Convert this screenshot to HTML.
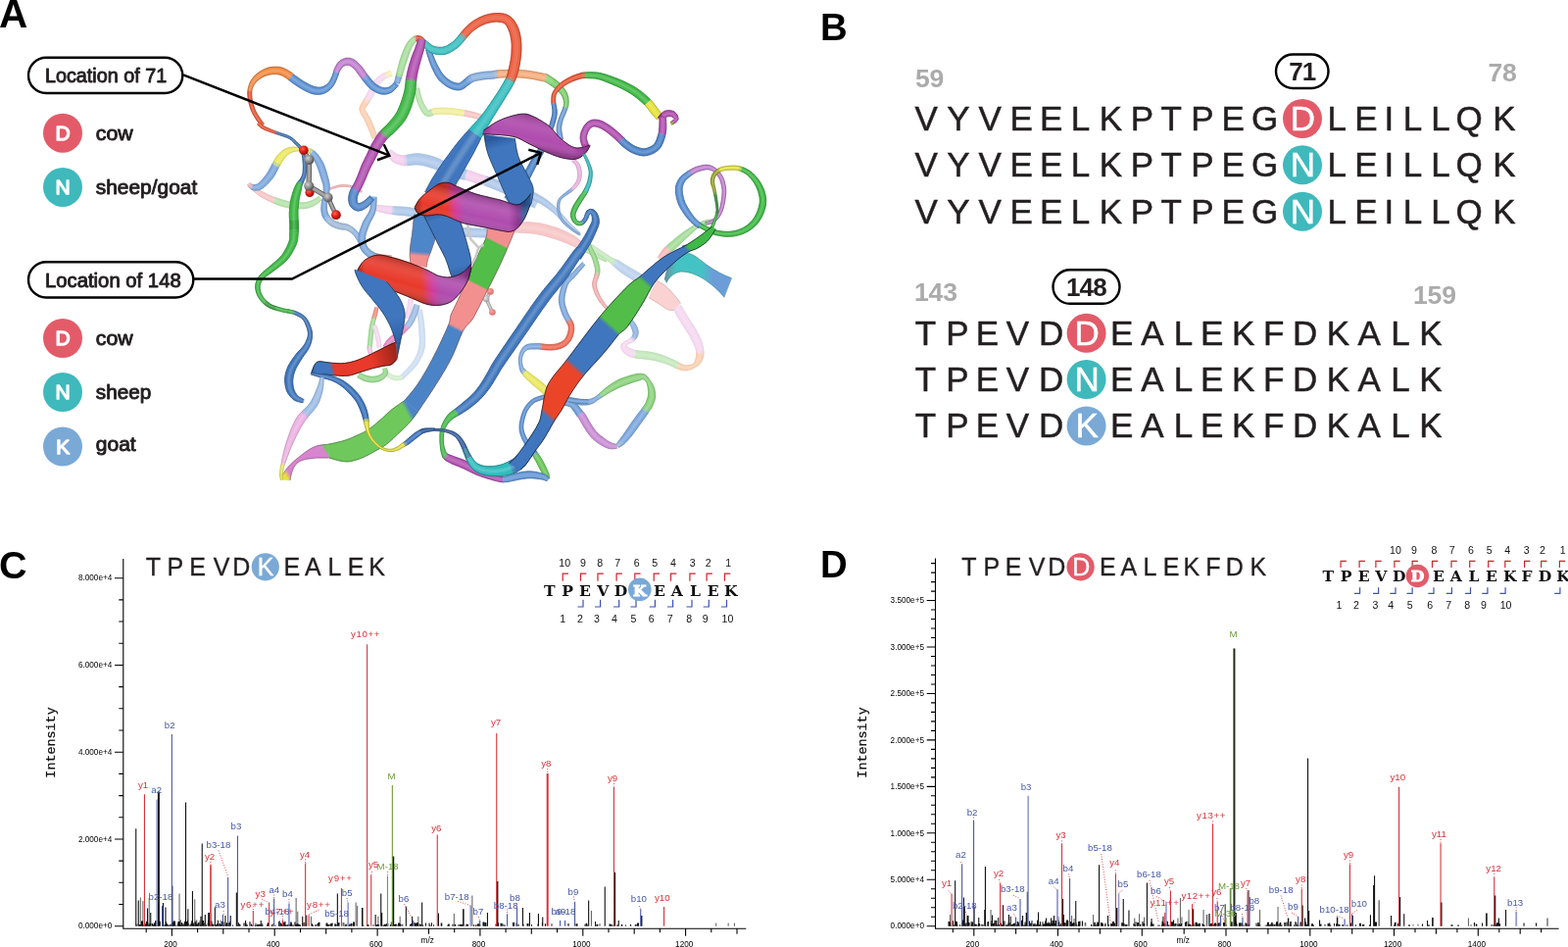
<!DOCTYPE html>
<html lang="en"><head><meta charset="utf-8"><title>Figure</title>
<style>
html,body{margin:0;padding:0;background:#fff}
svg{display:block}
text{font-family:"Liberation Sans",sans-serif;fill:#231f20}
.pl{font-size:38.4px;font-weight:bold;fill:#000}
.sq{font-size:35px;text-anchor:middle;stroke:#231f20;stroke-width:.5px}
.sh{font-size:25px;text-anchor:middle;stroke:#231f20;stroke-width:.35px}
.w{fill:#fff;stroke:#fff!important}
.gn{font-size:26.6px;fill:#ababab;font-weight:bold;letter-spacing:-.2px}
.pt{font-weight:bold;letter-spacing:-.8px}
.pill{fill:#fff;stroke:#000;stroke-width:2.4px}
.lt{font-size:19.8px;stroke:#231f20;stroke-width:.9px;stroke-linejoin:round}
.cl{font-size:21px;fill:#fff;stroke:#fff;stroke-width:1.3px;stroke-linejoin:round;text-anchor:middle}
.hl{fill:none;stroke:#fff;stroke-opacity:.1;stroke-linejoin:round}
.ar{fill:none;stroke:#000;stroke-width:2.5px;stroke-linejoin:miter}
.tk{font-size:8.2px;fill:#000}
.xl{font-size:9px}
.pk{font-size:9.7px}
.r{fill:#d6343a}
.b{fill:#4658a8}
.g{fill:#6f9a3c}
.it{font-family:"Liberation Mono",monospace;font-size:13.4px;fill:#111;stroke:#111;stroke-width:.25px}
.fm{font-family:"DejaVu Serif","Liberation Serif",serif;font-weight:bold;font-size:15.6px;text-anchor:middle;fill:#111}
.fm.w{fill:#fff}
.fn{font-size:10.6px;text-anchor:middle;fill:#111}
</style></head>
<body>
<svg width="1600" height="966" viewBox="0 0 1600 966">
<rect width="1600" height="966" fill="#fff"/>
<defs><radialGradient id="bR" cx=".38" cy=".35" r=".7"><stop offset="0" stop-color="#ff6a5a"/><stop offset=".45" stop-color="#e32219"/><stop offset="1" stop-color="#8c0d08"/></radialGradient><radialGradient id="bG" cx=".38" cy=".35" r=".7"><stop offset="0" stop-color="#d0d0d0"/><stop offset=".5" stop-color="#909090"/><stop offset="1" stop-color="#484848"/></radialGradient><linearGradient id="g21" gradientUnits="userSpaceOnUse" x1="679.2" y1="286.7" x2="742.8" y2="293.6"><stop offset="0" stop-color="#6a96a4"/><stop offset="0.15" stop-color="#44c3c4"/><stop offset="0.55" stop-color="#44c3c4"/><stop offset="0.75" stop-color="#6c9dd8"/><stop offset="1" stop-color="#6c9dd8"/></linearGradient><linearGradient id="g35" gradientUnits="userSpaceOnUse" x1="512" y1="232" x2="419.7" y2="414.2"><stop offset="0" stop-color="#f28f8f"/><stop offset="0.075" stop-color="#f28f8f"/><stop offset="0.085" stop-color="#52bd48"/><stop offset="0.305" stop-color="#52bd48"/><stop offset="0.315" stop-color="#f28f8f"/><stop offset="0.545" stop-color="#f28f8f"/><stop offset="0.56" stop-color="#4b84c6"/><stop offset="1" stop-color="#4b84c6"/></linearGradient><linearGradient id="g36" gradientUnits="userSpaceOnUse" x1="419.7" y1="414.2" x2="335.2" y2="460.1"><stop offset="0" stop-color="#4b84c6"/><stop offset="0.03" stop-color="#4b84c6"/><stop offset="0.08" stop-color="#6fc85c"/><stop offset="1" stop-color="#6fc85c"/></linearGradient><linearGradient id="g37" gradientUnits="userSpaceOnUse" x1="335.2" y1="460.1" x2="291.5" y2="489.6"><stop offset="0" stop-color="#6fc85c"/><stop offset="0.02" stop-color="#6fc85c"/><stop offset="0.07" stop-color="#d884cf"/><stop offset="0.86" stop-color="#d884cf"/><stop offset="0.96" stop-color="#e6e23a"/><stop offset="1" stop-color="#e6e23a"/></linearGradient><linearGradient id="g38" gradientUnits="userSpaceOnUse" x1="431.4" y1="218.8" x2="427" y2="271.4"><stop offset="0" stop-color="#4d86c9"/><stop offset="0.72" stop-color="#4d86c9"/><stop offset="0.8" stop-color="#f28f8f"/><stop offset="1" stop-color="#f28f8f"/></linearGradient><linearGradient id="g40" gradientUnits="userSpaceOnUse" x1="509.7" y1="139.4" x2="531.9" y2="209"><stop offset="0" stop-color="#2c5a9e"/><stop offset="0.15" stop-color="#3f76bd"/><stop offset="1" stop-color="#3f76bd"/></linearGradient><linearGradient id="g41" gradientUnits="userSpaceOnUse" x1="493.1" y1="134.9" x2="601.8" y2="148.3"><stop offset="0" stop-color="#8a2f8c"/><stop offset="0.08" stop-color="#b04cae"/><stop offset="0.85" stop-color="#b04cae"/><stop offset="1" stop-color="#8a2f8c"/></linearGradient><linearGradient id="g42" gradientUnits="userSpaceOnUse" x1="545" y1="118" x2="538" y2="150"><stop offset="0" stop-color="#000" stop-opacity="0.18"/><stop offset="0.35" stop-color="#fff" stop-opacity="0.08"/><stop offset="0.7" stop-color="#fff" stop-opacity="0.0"/><stop offset="1" stop-color="#000" stop-opacity="0.2"/></linearGradient><linearGradient id="g43" gradientUnits="userSpaceOnUse" x1="448.9" y1="213.8" x2="470.8" y2="286.4"><stop offset="0" stop-color="#2c5a9e"/><stop offset="0.12" stop-color="#3f76bd"/><stop offset="0.8" stop-color="#3f76bd"/><stop offset="1" stop-color="#2c5a9e"/></linearGradient><linearGradient id="g44" gradientUnits="userSpaceOnUse" x1="423.2" y1="211.6" x2="541.6" y2="202.5"><stop offset="0" stop-color="#9c2419"/><stop offset="0.07" stop-color="#e8392a"/><stop offset="0.27" stop-color="#e8392a"/><stop offset="0.35" stop-color="#d23a9a"/><stop offset="0.42" stop-color="#b04cae"/><stop offset="0.8" stop-color="#b04cae"/><stop offset="0.88" stop-color="#8a2f8c"/><stop offset="0.94" stop-color="#2c5a9e"/><stop offset="1" stop-color="#3f76bd"/></linearGradient><linearGradient id="g45" gradientUnits="userSpaceOnUse" x1="478" y1="196" x2="470" y2="232"><stop offset="0" stop-color="#000" stop-opacity="0.22"/><stop offset="0.3" stop-color="#fff" stop-opacity="0.1"/><stop offset="0.6" stop-color="#fff" stop-opacity="0.0"/><stop offset="1" stop-color="#000" stop-opacity="0.25"/></linearGradient><linearGradient id="g46" gradientUnits="userSpaceOnUse" x1="364.4" y1="280.8" x2="480.7" y2="271.1"><stop offset="0" stop-color="#9c2419"/><stop offset="0.07" stop-color="#e8392a"/><stop offset="0.55" stop-color="#e8392a"/><stop offset="0.64" stop-color="#d23a9a"/><stop offset="0.72" stop-color="#b04cae"/><stop offset="0.93" stop-color="#b04cae"/><stop offset="1" stop-color="#8a2f8c"/></linearGradient><linearGradient id="g47" gradientUnits="userSpaceOnUse" x1="425" y1="268" x2="415" y2="306"><stop offset="0" stop-color="#000" stop-opacity="0.25"/><stop offset="0.3" stop-color="#fff" stop-opacity="0.1"/><stop offset="0.6" stop-color="#fff" stop-opacity="0.0"/><stop offset="1" stop-color="#000" stop-opacity="0.28"/></linearGradient><linearGradient id="g48" gradientUnits="userSpaceOnUse" x1="378.3" y1="281.2" x2="404.7" y2="358.3"><stop offset="0" stop-color="#3f76bd"/><stop offset="0.6" stop-color="#3f76bd"/><stop offset="1" stop-color="#2c5a9e"/></linearGradient><linearGradient id="g49" gradientUnits="userSpaceOnUse" x1="317.8" y1="381.2" x2="404.3" y2="357.6"><stop offset="0" stop-color="#2c5a9e"/><stop offset="0.06" stop-color="#3f76bd"/><stop offset="0.22" stop-color="#3f76bd"/><stop offset="0.27" stop-color="#e8392a"/><stop offset="0.7" stop-color="#e8392a"/><stop offset="1" stop-color="#9c2419"/></linearGradient><linearGradient id="g56" gradientUnits="userSpaceOnUse" x1="728.4" y1="232.5" x2="509.4" y2="479.5"><stop offset="0" stop-color="#3fb946"/><stop offset="0.095" stop-color="#3fb946"/><stop offset="0.108" stop-color="#3f76bd"/><stop offset="0.258" stop-color="#3f76bd"/><stop offset="0.271" stop-color="#52bd48"/><stop offset="0.434" stop-color="#52bd48"/><stop offset="0.447" stop-color="#3f76bd"/><stop offset="0.6" stop-color="#3f76bd"/><stop offset="0.615" stop-color="#ea4529"/><stop offset="0.765" stop-color="#ea4529"/><stop offset="0.78" stop-color="#3f76bd"/><stop offset="0.96" stop-color="#3f76bd"/><stop offset="1" stop-color="#2fbcbe"/></linearGradient></defs>
<g id="protein">
<path d="M398.4 72.2 396.9 72.7 394.6 73.5 396.7 78.6 398.8 77.7 400.3 77.1z" fill="#f5f3b0" stroke="#f5f3b0" stroke-width=".5"/>
<path d="M394.6 73.5 392 74.6 394.4 79.6 396.7 78.6z" fill="#f5ebc6" stroke="#f5ebc6" stroke-width=".5"/>
<path d="M392 74.6 389.4 76 387.2 77.5 385.1 79.2 383 81.2 381 83.6 379.5 85.8 378.3 88.3 377.1 90.7 376.1 93 375 95.1 373.6 97.5 372.2 100 377.5 103.2 379 100.7 380.6 98.1 381.8 95.7 382.8 93.3 383.8 90.9 384.8 88.8 385.9 87.1 387.3 85.2 389 83.5 390.7 82.1 392.4 80.8 394.4 79.6z" fill="#f6d9f1" stroke="#f6d9f1" stroke-width=".5"/>
<path d="M372.2 100 370.8 102.3 376 105.5 377.5 103.2z" fill="#f9d3c7" stroke="#f9d3c7" stroke-width=".5"/>
<path d="M370.8 102.3 369.7 104.3 367.6 107.6 366.8 111.5 367.6 114.6 368.9 116.9 370.3 119.1 371.6 121.3 372.5 123.3 373.6 125.6 374.6 127.9 375.6 130.2 376.5 132.3 377.6 134.9 378.6 137.5 379.4 139.9 380 141.5 385 139.8 384.5 138.1 383.7 135.7 382.8 133 381.7 130.2 380.8 128 379.8 125.6 378.7 123.2 377.6 120.9 376.5 118.7 375 116.2 373.5 114 372.4 112.3 372 111.6 372.7 110.1 374.7 107.6 376 105.5z" fill="#fad0b2" stroke="#fad0b2" stroke-width=".5"/>
<defs><path id="c1" d="M399.4 74.6 395.6 76.1 390.9 78.4 387 81.4 383.4 85.3 381.1 89.6 378.9 94.4 376.3 99.1 373.4 103.9 370.1 108.8 370 113.4 372.7 117.6 375.1 122.1 377.2 126.8 379.1 131.3 381.1 136.6 382.5 140.6"/></defs><use href="#c1" class="hl" stroke-width="3.8"/><use href="#c1" class="hl" stroke-width="1.8"/>
<path d="M398.4 72.2 396.9 72.7 394.6 73.5M400.3 77.1 398.8 77.7 396.7 78.6" fill="none" stroke="#eae8a8" stroke-width=".70"/>
<path d="M394.6 73.5 392 74.6M396.7 78.6 394.4 79.6" fill="none" stroke="#eae0bd" stroke-width=".70"/>
<path d="M392 74.6 389.4 76 387.2 77.5 385.1 79.2 383 81.2 381 83.6 379.5 85.8 378.3 88.3 377.1 90.7 376.1 93 375 95.1 373.6 97.5 372.2 100M394.4 79.6 392.4 80.8 390.7 82.1 389 83.5 387.3 85.2 385.9 87.1 384.8 88.8 383.8 90.9 382.8 93.3 381.8 95.7 380.6 98.1 379 100.7 377.5 103.2" fill="none" stroke="#ebcfe6" stroke-width=".70"/>
<path d="M372.2 100 370.8 102.3M377.5 103.2 376 105.5" fill="none" stroke="#eec9be" stroke-width=".70"/>
<path d="M370.8 102.3 369.7 104.3 367.6 107.6 366.8 111.5 367.6 114.6 368.9 116.9 370.3 119.1 371.6 121.3 372.5 123.3 373.6 125.6 374.6 127.9 375.6 130.2 376.5 132.3 377.6 134.9 378.6 137.5 379.4 139.9 380 141.5M376 105.5 374.7 107.6 372.7 110.1 372 111.6 372.4 112.3 373.5 114 375 116.2 376.5 118.7 377.6 120.9 378.7 123.2 379.8 125.6 380.8 128 381.7 130.2 382.8 133 383.7 135.7 384.5 138.1 385 139.8" fill="none" stroke="#eec6aa" stroke-width=".70"/>
<path d="M423 90.5 423.3 92.1 423.7 94.6 424.2 97.4 424.8 100.3 425.6 103 426.5 105.5 427.6 107.9 428.7 110.2 429.8 112.3 430.8 114 433 117.1 436.6 118.7 439.9 118.1 442.3 117.1 440.3 111.5 437.9 112.7 437.2 113.1 436.7 112.9 435.5 111 434.6 109.5 433.5 107.7 432.4 105.6 431.4 103.5 430.5 101.3 429.8 99 429.1 96.3 428.4 93.6 427.9 91.2 427.5 89.5z" fill="#b6e4ac" stroke="#b6e4ac" stroke-width=".5"/>
<path d="M442.3 117.1 444.9 116.4 446.8 116.3 449.3 116.2 452 116.2 454.7 116.3 457.3 116.4 459.8 116.6 462.4 116.9 464.9 117.2 467.2 117.5 469.3 117.7 471.7 118 473.4 118.2 474.5 112.6 472.6 112.2 470.1 111.8 468 111.5 465.6 111.2 463 110.9 460.3 110.6 457.7 110.4 455 110.3 452.1 110.2 449.2 110.2 446.5 110.3 443.8 110.5 440.3 111.5z" fill="#f2f09c" stroke="#f2f09c" stroke-width=".5"/>
<path d="M473.4 118.2 475.7 118.6 477.7 119 480 119.5 482.4 120 484.7 120.5 486.6 121 489.6 122 492.1 123.1 494 123.9 496 119.9 494.2 118.8 491.6 117.4 488.4 116 486.1 115.3 483.7 114.7 481.2 114.1 478.8 113.6 476.8 113.1 474.5 112.6z" fill="#f8c7c7" stroke="#f8c7c7" stroke-width=".5"/>
<defs><path id="c2" d="M425.3 90 426.1 94.1 427.3 99.7 429 104.5 431.1 109 433.1 112.5 436.9 115.9 441.3 114.3 446.7 113.3 452 113.2 457.5 113.4 462.7 113.9 467.6 114.5 472.1 115.1 476.3 115.9 480.6 116.8 485.4 117.9 490.6 119.7 495 121.9"/></defs><use href="#c2" class="hl" stroke-width="3.6"/><use href="#c2" class="hl" stroke-width="1.8"/>
<path d="M423 90.5 423.3 92.1 423.7 94.6 424.2 97.4 424.8 100.3 425.6 103 426.5 105.5 427.6 107.9 428.7 110.2 429.8 112.3 430.8 114 433 117.1 436.6 118.7 439.9 118.1 442.3 117.1M427.5 89.5 427.9 91.2 428.4 93.6 429.1 96.3 429.8 99 430.5 101.3 431.4 103.5 432.4 105.6 433.5 107.7 434.6 109.5 435.5 111 436.7 112.9 437.2 113.1 437.9 112.7 440.3 111.5" fill="none" stroke="#a7d19e" stroke-width=".70"/>
<path d="M442.3 117.1 444.9 116.4 446.8 116.3 449.3 116.2 452 116.2 454.7 116.3 457.3 116.4 459.8 116.6 462.4 116.9 464.9 117.2 467.2 117.5 469.3 117.7 471.7 118 473.4 118.2M440.3 111.5 443.8 110.5 446.5 110.3 449.2 110.2 452.1 110.2 455 110.3 457.7 110.4 460.3 110.6 463 110.9 465.6 111.2 468 111.5 470.1 111.8 472.6 112.2 474.5 112.6" fill="none" stroke="#dedc8f" stroke-width=".70"/>
<path d="M473.4 118.2 475.7 118.6 477.7 119 480 119.5 482.4 120 484.7 120.5 486.6 121 489.6 122 492.1 123.1 494 123.9M474.5 112.6 476.8 113.1 478.8 113.6 481.2 114.1 483.7 114.7 486.1 115.3 488.4 116 491.6 117.4 494.2 118.8 496 119.9" fill="none" stroke="#e3b6b6" stroke-width=".70"/>
<path d="M394.5 156.6 395.3 158.1 396.8 160.3 398.6 162.7 400.9 164.9 404.2 166.6 407.3 167.7 409.9 168.3 412.7 168.8 412.7 158.6 411.3 158.7 409.3 158.5 407.2 158.2 405.3 157.6 403.9 156.9 402 155.4 400.1 153.8 398.6 152.8z" fill="#f4d0ee" stroke="#f4d0ee" stroke-width=".5"/>
<path d="M412.7 168.8 415.8 168.7 414.8 158.3 412.7 158.6z" fill="#dccdec" stroke="#dccdec" stroke-width=".5"/>
<path d="M415.8 168.7 418 168.5 420.3 168.2 422.7 168 424.9 167.9 427.1 168 428.7 168.2 430.6 168.5 432.6 168.9 434.6 169.5 436.7 170 438.8 170.7 440.7 171.3 442.8 171.9 444.8 172.7 446.8 173.6 448.9 174.5 451.2 175.5 453.6 176.4 455.8 177.3 458.1 178.1 460.5 179 462.8 179.9 465.1 180.7 467.2 181.4 469.1 182 472.3 182.9 474.5 183.3 476.7 173.6 474.8 173.2 472.1 172.3 470.5 171.8 468.6 171 466.4 170.2 464.2 169.3 461.9 168.4 459.6 167.5 457.6 166.7 455.5 165.7 453.4 164.7 451.3 163.7 449.1 162.6 446.8 161.6 444.3 160.6 442.1 159.9 439.8 159.2 437.5 158.6 435.1 158 432.7 157.5 430.3 157.1 427.9 156.8 424.6 156.8 421.5 157.1 418.7 157.6 416.5 158 414.8 158.3z" fill="#aec8ea" stroke="#aec8ea" stroke-width=".5"/>
<path d="M474.5 183.3 476.8 183.8 478.7 184.3 480.9 185 483.3 185.8 485.7 186.6 488 187.3 490.3 188 492.2 188.4 494.1 188.9 497 180 494.6 179.3 492.7 178.9 490.7 178.3 488.7 177.6 486.4 176.8 484 175.9 481.7 175.1 479.4 174.4 476.7 173.6z" fill="#f4d0ee" stroke="#f4d0ee" stroke-width=".5"/>
<path d="M494.1 188.9 497.1 190 498.6 190.6 500.3 191.2 502.1 192 504.1 192.7 506.1 193.6 508.2 194.4 510.4 195.4 512.6 196.3 514.9 197.3 517.1 198.3 519.3 199.3 521.2 200.1 523.3 201.1 525.6 202.2 527.9 203.3 530.2 204.4 532.6 205.6 534.9 206.7 537.1 207.8 539.2 208.9 541.2 209.8 542.9 210.7 544.4 211.4 545.6 212 549.4 204.3 548.3 203.7 546.9 202.9 545.2 202 543.3 201 541.2 199.9 539 198.7 536.7 197.5 534.3 196.3 532 195.1 529.6 193.9 527.4 192.8 525.2 191.7 523.2 190.7 520.9 189.7 518.6 188.7 516.3 187.7 514.1 186.7 511.8 185.8 509.7 184.9 507.6 184 505.6 183.3 503.7 182.5 502 181.8 500.4 181.2 497 180z" fill="#aec8ea" stroke="#aec8ea" stroke-width=".5"/>
<defs><path id="c3" d="M396.6 154.7 399.4 157.8 403.1 161.3 408.3 163.1 412.7 163.7 417.2 163.3 422.1 162.5 427.5 162.4 431.6 163 436.1 164 440.4 165.3 444.8 166.8 449.1 168.6 453.4 170.6 457.7 172.4 462.3 174.2 466.8 175.9 470.6 177.2 475.6 178.4 480.2 179.7 484.8 181.3 489.4 182.8 493.4 183.9 498.8 185.6 502 186.9 505.8 188.4 510 190.1 514.5 192 519 194 523.2 195.9 527.6 198 532.3 200.4 536.9 202.7 541.2 204.9 544.9 206.8 547.5 208.1"/></defs><use href="#c3" class="hl" stroke-width="6.4"/><use href="#c3" class="hl" stroke-width="3.1"/>
<path d="M394.5 156.6 395.3 158.1 396.8 160.3 398.6 162.7 400.9 164.9 404.2 166.6 407.3 167.7 409.9 168.3 412.7 168.8M398.6 152.8 400.1 153.8 402 155.4 403.9 156.9 405.3 157.6 407.2 158.2 409.3 158.5 411.3 158.7 412.7 158.6" fill="none" stroke="#e5c3df" stroke-width=".70"/>
<path d="M412.7 168.8 415.8 168.7M412.7 158.6 414.8 158.3" fill="none" stroke="#cec0dd" stroke-width=".70"/>
<path d="M415.8 168.7 418 168.5 420.3 168.2 422.7 168 424.9 167.9 427.1 168 428.7 168.2 430.6 168.5 432.6 168.9 434.6 169.5 436.7 170 438.8 170.7 440.7 171.3 442.8 171.9 444.8 172.7 446.8 173.6 448.9 174.5 451.2 175.5 453.6 176.4 455.8 177.3 458.1 178.1 460.5 179 462.8 179.9 465.1 180.7 467.2 181.4 469.1 182 472.3 182.9 474.5 183.3M414.8 158.3 416.5 158 418.7 157.6 421.5 157.1 424.6 156.8 427.9 156.8 430.3 157.1 432.7 157.5 435.1 158 437.5 158.6 439.8 159.2 442.1 159.9 444.3 160.6 446.8 161.6 449.1 162.6 451.3 163.7 453.4 164.7 455.5 165.7 457.6 166.7 459.6 167.5 461.9 168.4 464.2 169.3 466.4 170.2 468.6 171 470.5 171.8 472.1 172.3 474.8 173.2 476.7 173.6" fill="none" stroke="#a3bbdb" stroke-width=".70"/>
<path d="M474.5 183.3 476.8 183.8 478.7 184.3 480.9 185 483.3 185.8 485.7 186.6 488 187.3 490.3 188 492.2 188.4 494.1 188.9M476.7 173.6 479.4 174.4 481.7 175.1 484 175.9 486.4 176.8 488.7 177.6 490.7 178.3 492.7 178.9 494.6 179.3 497 180" fill="none" stroke="#e5c3df" stroke-width=".70"/>
<path d="M494.1 188.9 497.1 190 498.6 190.6 500.3 191.2 502.1 192 504.1 192.7 506.1 193.6 508.2 194.4 510.4 195.4 512.6 196.3 514.9 197.3 517.1 198.3 519.3 199.3 521.2 200.1 523.3 201.1 525.6 202.2 527.9 203.3 530.2 204.4 532.6 205.6 534.9 206.7 537.1 207.8 539.2 208.9 541.2 209.8 542.9 210.7 544.4 211.4 545.6 212M497 180 500.4 181.2 502 181.8 503.7 182.5 505.6 183.3 507.6 184 509.7 184.9 511.8 185.8 514.1 186.7 516.3 187.7 518.6 188.7 520.9 189.7 523.2 190.7 525.2 191.7 527.4 192.8 529.6 193.9 532 195.1 534.3 196.3 536.7 197.5 539 198.7 541.2 199.9 543.3 201 545.2 202 546.9 202.9 548.3 203.7 549.4 204.3" fill="none" stroke="#a3bbdb" stroke-width=".70"/>
<path d="M383.9 215 385.4 215.4 387.6 216 390.2 216.6 392.8 217.2 395.1 217.8 397.6 218.2 399.9 218.5 400.7 210.7 398.5 210.5 396.1 210.3 393.9 210.2 391.3 210 388.7 209.7 386.5 209.5 384.9 209.4z" fill="#f4d0ee" stroke="#f4d0ee" stroke-width=".5"/>
<path d="M399.9 218.5 402.2 218.8 402.9 210.8 400.7 210.7z" fill="#c5cbeb" stroke="#c5cbeb" stroke-width=".5"/>
<path d="M402.2 218.8 404.7 219.1 406.9 219.3 409.1 219.5 411.3 219.7 413.5 219.9 415.6 220.2 417.7 220.5 419.6 220.8 421.4 221.2 423.4 221.8 425.9 222.8 427.5 223.4 429.3 224.3 431.2 225.3 433.3 226.4 435.5 227.5 437.7 228.7 440 229.9 442.3 231 444.4 232 446.5 233 448.5 233.9 450.5 234.9 452.6 235.8 454.7 236.8 456.9 237.6 459.2 238.5 461.6 239.2 464 239.8 466.4 240.3 468.7 240.7 471.1 240.9 473.6 241.2 476 241.3 478.4 241.5 480.7 241.6 483 241.6 485.2 241.7 487.3 241.8 490 241.9 492.9 241.9 495.6 241.9 498.3 241.8 500.8 241.8 503 241.7 504.9 241.7 506.3 241.6 506.2 233.4 504.8 233.4 502.9 233.4 500.7 233.4 498.2 233.4 495.6 233.4 492.9 233.4 490.3 233.3 487.7 233.2 485.6 233.1 483.3 233 481.1 232.9 478.8 232.8 476.5 232.7 474.3 232.6 472 232.4 469.9 232.1 467.9 231.8 466 231.4 463.9 230.9 462 230.3 460 229.6 458.1 228.8 456.1 228 454.2 227.1 452.2 226.1 450.1 225.2 448.1 224.2 446 223.2 443.9 222.2 441.7 221.1 439.5 219.9 437.3 218.8 435.2 217.6 433.1 216.6 431.1 215.6 429.1 214.7 426.1 213.6 423.5 212.9 421.2 212.4 419.1 212 416.9 211.7 414.4 211.4 412 211.2 409.6 211.1 407.4 211 405.3 210.9 402.9 210.8z" fill="#aec8ea" stroke="#aec8ea" stroke-width=".5"/>
<defs><path id="c4" d="M384.4 212.2 388.2 212.8 393.3 213.7 398.1 214.4 402.6 214.8 407.1 215.2 411.7 215.4 416.3 215.9 420.4 216.6 424.8 217.7 429.3 219.5 433.2 221.5 437.5 223.7 441.9 226 446.3 228.1 450.3 230 454.4 231.9 458.5 233.6 462.8 235 467.1 236 471.6 236.7 476.3 237 480.9 237.3 485.4 237.4 490.2 237.6 495.6 237.6 500.8 237.6 504.8 237.5"/></defs><use href="#c4" class="hl" stroke-width="5.5"/><use href="#c4" class="hl" stroke-width="2.7"/>
<path d="M383.9 215 385.4 215.4 387.6 216 390.2 216.6 392.8 217.2 395.1 217.8 397.6 218.2 399.9 218.5M384.9 209.4 386.5 209.5 388.7 209.7 391.3 210 393.9 210.2 396.1 210.3 398.5 210.5 400.7 210.7" fill="none" stroke="#e5c3df" stroke-width=".70"/>
<path d="M399.9 218.5 402.2 218.8M400.7 210.7 402.9 210.8" fill="none" stroke="#b9bedc" stroke-width=".70"/>
<path d="M402.2 218.8 404.7 219.1 406.9 219.3 409.1 219.5 411.3 219.7 413.5 219.9 415.6 220.2 417.7 220.5 419.6 220.8 421.4 221.2 423.4 221.8 425.9 222.8 427.5 223.4 429.3 224.3 431.2 225.3 433.3 226.4 435.5 227.5 437.7 228.7 440 229.9 442.3 231 444.4 232 446.5 233 448.5 233.9 450.5 234.9 452.6 235.8 454.7 236.8 456.9 237.6 459.2 238.5 461.6 239.2 464 239.8 466.4 240.3 468.7 240.7 471.1 240.9 473.6 241.2 476 241.3 478.4 241.5 480.7 241.6 483 241.6 485.2 241.7 487.3 241.8 490 241.9 492.9 241.9 495.6 241.9 498.3 241.8 500.8 241.8 503 241.7 504.9 241.7 506.3 241.6M402.9 210.8 405.3 210.9 407.4 211 409.6 211.1 412 211.2 414.4 211.4 416.9 211.7 419.1 212 421.2 212.4 423.5 212.9 426.1 213.6 429.1 214.7 431.1 215.6 433.1 216.6 435.2 217.6 437.3 218.8 439.5 219.9 441.7 221.1 443.9 222.2 446 223.2 448.1 224.2 450.1 225.2 452.2 226.1 454.2 227.1 456.1 228 458.1 228.8 460 229.6 462 230.3 463.9 230.9 466 231.4 467.9 231.8 469.9 232.1 472 232.4 474.3 232.6 476.5 232.7 478.8 232.8 481.1 232.9 483.3 233 485.6 233.1 487.7 233.2 490.3 233.3 492.9 233.4 495.6 233.4 498.2 233.4 500.7 233.4 502.9 233.4 504.8 233.4 506.2 233.4" fill="none" stroke="#a3bbdb" stroke-width=".70"/>
<path d="M505.1 235.7 506.4 235.8 508.2 235.9 510.2 236 512.5 236.1 515 236.3 517.6 236.4 520.3 236.6 522.9 236.7 525.4 236.9 527.7 237 529.8 237.2 532.4 237.3 534.9 237.5 537.2 237.6 539.4 237.7 541.5 237.9 543.6 238.1 545.6 238.3 547.7 238.7 549.9 239.1 552.1 239.6 554.4 240.1 556.7 240.7 559 241.4 561.2 242.1 563.4 242.8 565.5 243.4 567.8 244.1 570 244.9 572.2 245.6 574.2 246.4 576.2 247.2 578.2 248 579.9 248.8 582.2 249.7 584.2 250.7 586.2 251.7 588.1 252.7 590 253.7 592.2 254.7 594.2 255.5 597.5 250.6 596 249.1 594.2 247.5 592.6 246.1 590.9 244.7 589 243.1 586.9 241.5 584.5 239.9 582.5 238.9 580.5 237.9 578.4 236.8 576.2 235.8 573.9 234.8 571.5 233.8 569.1 232.8 566.8 232.1 564.5 231.4 562.1 230.7 559.7 230 557.2 229.3 554.6 228.7 552.1 228.1 549.6 227.7 547.1 227.3 544.7 227.1 542.3 226.9 540 226.8 537.6 226.8 535.3 226.8 532.8 226.7 530.2 226.6 528.1 226.7 525.7 226.7 523.1 226.7 520.5 226.7 517.8 226.7 515.2 226.7 512.7 226.8 510.4 226.8 508.3 226.9 506.6 226.9 505.3 227z" fill="#f8c7c7" stroke="#f8c7c7" stroke-width=".5"/>
<path d="M594.2 255.5 596.2 256.5 599 252.1 597.5 250.6z" fill="#ccdab5" stroke="#ccdab5" stroke-width=".5"/>
<path d="M596.2 256.5 598.4 257.4 600.3 258.5 602.3 259.6 604.4 260.7 606.6 261.8 608.7 262.8 611.5 264.1 614.4 265.4 616.9 266.4 618.7 267.2 620.2 263.7 618.4 263 615.8 261.9 613 260.7 610.3 259.4 608.4 258.4 606.4 257.2 604.4 256 602.5 254.8 600.7 253.6 599 252.1z" fill="#b6e4ac" stroke="#b6e4ac" stroke-width=".5"/>
<defs><path id="c5" d="M505.2 231.3 508.2 231.4 512.6 231.5 517.7 231.6 523 231.7 527.9 231.8 532.6 232 537.4 232.2 541.9 232.4 546.3 232.8 551 233.6 555.8 234.7 560.6 236 565.1 237.4 569.6 239 574.2 240.7 578.4 242.5 582.2 244.3 586.6 246.9 590.4 249.4 594.1 251.9 597.6 254.3 601.4 256.6 605.4 258.9 609.5 261.1 615.1 263.6 619.4 265.5"/></defs><use href="#c5" class="hl" stroke-width="5.8"/><use href="#c5" class="hl" stroke-width="2.8"/>
<path d="M505.1 235.7 506.4 235.8 508.2 235.9 510.2 236 512.5 236.1 515 236.3 517.6 236.4 520.3 236.6 522.9 236.7 525.4 236.9 527.7 237 529.8 237.2 532.4 237.3 534.9 237.5 537.2 237.6 539.4 237.7 541.5 237.9 543.6 238.1 545.6 238.3 547.7 238.7 549.9 239.1 552.1 239.6 554.4 240.1 556.7 240.7 559 241.4 561.2 242.1 563.4 242.8 565.5 243.4 567.8 244.1 570 244.9 572.2 245.6 574.2 246.4 576.2 247.2 578.2 248 579.9 248.8 582.2 249.7 584.2 250.7 586.2 251.7 588.1 252.7 590 253.7 592.2 254.7 594.2 255.5M505.3 227 506.6 226.9 508.3 226.9 510.4 226.8 512.7 226.8 515.2 226.7 517.8 226.7 520.5 226.7 523.1 226.7 525.7 226.7 528.1 226.7 530.2 226.6 532.8 226.7 535.3 226.8 537.6 226.8 540 226.8 542.3 226.9 544.7 227.1 547.1 227.3 549.6 227.7 552.1 228.1 554.6 228.7 557.2 229.3 559.7 230 562.1 230.7 564.5 231.4 566.8 232.1 569.1 232.8 571.5 233.8 573.9 234.8 576.2 235.8 578.4 236.8 580.5 237.9 582.5 238.9 584.5 239.9 586.9 241.5 589 243.1 590.9 244.7 592.6 246.1 594.2 247.5 596 249.1 597.5 250.6" fill="none" stroke="#ecbdbd" stroke-width=".70"/>
<path d="M594.2 255.5 596.2 256.5M597.5 250.6 599 252.1" fill="none" stroke="#c2cfac" stroke-width=".70"/>
<path d="M596.2 256.5 598.4 257.4 600.3 258.5 602.3 259.6 604.4 260.7 606.6 261.8 608.7 262.8 611.5 264.1 614.4 265.4 616.9 266.4 618.7 267.2M599 252.1 600.7 253.6 602.5 254.8 604.4 256 606.4 257.2 608.4 258.4 610.3 259.4 613 260.7 615.8 261.9 618.4 263 620.2 263.7" fill="none" stroke="#add9a3" stroke-width=".70"/>
<path d="M518.8 189.6 520.2 190.4 522.2 191.4 524.4 192.6 526.7 193.8 528.7 194.8 531.3 196.2 533.6 197.3 536 198.6 538 199.8 540.1 201.2 542.2 202.5 544.4 203.9 546.7 205.1 548.8 206.1 550.9 207.2 553.1 208.5 555 209.7 557 211 559.1 212.4 561.1 213.9 563 215.4 564.8 216.9 566.5 218.5 568.3 220.1 570.1 221.9 571.9 223.6 573.7 225.2 575.5 227 577.3 228.7 579.2 230.3 581 232 583 233.6 585 235.3 587 236.9 588.8 238.2 590 239.2 591.7 237.1 590.6 236 589 234.6 587.1 232.9 585.2 231.1 583.4 229.4 581.7 227.7 580.1 225.9 578.4 224.1 576.7 222.2 575.1 220.4 573.4 218.6 571.8 216.8 570.2 214.9 568.4 213 566.6 211.2 564.6 209.5 562.6 207.8 560.6 206.1 558.6 204.6 556.6 203.1 554.3 201.6 552 200.3 549.9 199.1 547.9 197.8 545.6 196.7 543.4 195.5 541.1 194.3 538.9 193.2 536.3 191.9 534 190.7 531.3 189.5 529.3 188.6 527 187.5 524.7 186.4 522.7 185.4 521.3 184.8z" fill="#aec8ea" stroke="#aec8ea" stroke-width=".5"/>
<defs><path id="c6" d="M520.1 187.2 523.4 188.9 528 191.2 532.6 193.5 537.5 195.9 541.7 198.3 546.1 200.9 550.4 203.2 554.8 205.8 558.8 208.6 562.9 211.7 566.6 215 570.1 218.4 573.5 222 577 225.5 580.4 229 584.1 232.4 588 235.8 590.9 238.1"/></defs><use href="#c6" class="hl" stroke-width="3.5"/><use href="#c6" class="hl" stroke-width="1.7"/>
<path d="M518.8 189.6 520.2 190.4 522.2 191.4 524.4 192.6 526.7 193.8 528.7 194.8 531.3 196.2 533.6 197.3 536 198.6 538 199.8 540.1 201.2 542.2 202.5 544.4 203.9 546.7 205.1 548.8 206.1 550.9 207.2 553.1 208.5 555 209.7 557 211 559.1 212.4 561.1 213.9 563 215.4 564.8 216.9 566.5 218.5 568.3 220.1 570.1 221.9 571.9 223.6 573.7 225.2 575.5 227 577.3 228.7 579.2 230.3 581 232 583 233.6 585 235.3 587 236.9 588.8 238.2 590 239.2M521.3 184.8 522.7 185.4 524.7 186.4 527 187.5 529.3 188.6 531.3 189.5 534 190.7 536.3 191.9 538.9 193.2 541.1 194.3 543.4 195.5 545.6 196.7 547.9 197.8 549.9 199.1 552 200.3 554.3 201.6 556.6 203.1 558.6 204.6 560.6 206.1 562.6 207.8 564.6 209.5 566.6 211.2 568.4 213 570.2 214.9 571.8 216.8 573.4 218.6 575.1 220.4 576.7 222.2 578.4 224.1 580.1 225.9 581.7 227.7 583.4 229.4 585.2 231.1 587.1 232.9 589 234.6 590.6 236 591.7 237.1" fill="none" stroke="#a3bbdb" stroke-width=".70"/>
<path d="M599.1 250 600.5 251 602.4 252.4 604.6 254.1 607 255.8 609.3 257.5 611.4 259.1 613.4 260.6 615.4 262.2 617.3 263.8 619.2 265.2 620.9 266.6 622.4 267.8 624.8 270 628.1 264.7 625.2 263.6 623.7 262.7 621.9 261.5 619.9 260.2 617.8 258.8 615.7 257.4 613.6 256 611.4 254.6 609 252.9 606.5 251.3 604.2 249.8 602.3 248.5 600.9 247.6z" fill="#c4e9bd" stroke="#c4e9bd" stroke-width=".5"/>
<path d="M624.8 270 626.7 272 630.9 265.7 628.1 264.7z" fill="#c0dbde" stroke="#c0dbde" stroke-width=".5"/>
<path d="M626.7 272 628.3 273.3 630.3 275 632.6 276.8 635.2 278.8 637.1 280.1 639.3 281.4 641.5 282.7 643.7 284.1 645.8 285.4 647.7 286.6 649.9 288 652.3 289.5 654.4 290.9 656.2 292.1 657.5 293 662.7 284.7 661.4 284 659.5 282.8 657.3 281.5 654.9 280.1 652.5 278.7 650.5 277.5 648.3 276.2 646 275 643.9 273.7 641.8 272.5 640 271.4 637.5 269.9 635.1 268.4 633 267 630.9 265.7z" fill="#bed3ee" stroke="#bed3ee" stroke-width=".5"/>
<defs><path id="c7" d="M600 248.8 603.3 251.1 608 254.4 612.5 257.6 616.6 260.5 620.5 263.4 623.8 265.7 628.8 268.8 632.7 271.7 637.6 275.1 641.6 277.6 646 280.2 650.1 282.6 654.8 285.5 658.8 288"/></defs><use href="#c7" class="hl" stroke-width="4.4"/><use href="#c7" class="hl" stroke-width="2.1"/>
<path d="M599.1 250 600.5 251 602.4 252.4 604.6 254.1 607 255.8 609.3 257.5 611.4 259.1 613.4 260.6 615.4 262.2 617.3 263.8 619.2 265.2 620.9 266.6 622.4 267.8 624.8 270M600.9 247.6 602.3 248.5 604.2 249.8 606.5 251.3 609 252.9 611.4 254.6 613.6 256 615.7 257.4 617.8 258.8 619.9 260.2 621.9 261.5 623.7 262.7 625.2 263.6 628.1 264.7" fill="none" stroke="#b9dcb2" stroke-width=".70"/>
<path d="M624.8 270 626.7 272M628.1 264.7 630.9 265.7" fill="none" stroke="#b5ced1" stroke-width=".70"/>
<path d="M626.7 272 628.3 273.3 630.3 275 632.6 276.8 635.2 278.8 637.1 280.1 639.3 281.4 641.5 282.7 643.7 284.1 645.8 285.4 647.7 286.6 649.9 288 652.3 289.5 654.4 290.9 656.2 292.1 657.5 293M630.9 265.7 633 267 635.1 268.4 637.5 269.9 640 271.4 641.8 272.5 643.9 273.7 646 275 648.3 276.2 650.5 277.5 652.5 278.7 654.9 280.1 657.3 281.5 659.5 282.8 661.4 284 662.7 284.7" fill="none" stroke="#b3c7e0" stroke-width=".70"/>
<path d="M669.7 286.2 672.2 287.5 674.8 288.8 677.2 290.3 679.5 292.1 681.6 294 683.6 296 685.5 298.1 687.4 300.3 689.3 302.4 691 304.7 692.8 306.9 694.5 309.2 687.7 316.3 685.3 316.5 682.9 316.2 680.7 315.3 678.6 314.1 676.6 312.7 674.5 311.4 672.5 310 670.5 308.7 668.4 307.5 666.4 306.2 664.3 304.9 662.2 303.6z" fill="#fad2d2" stroke="#fad2d2" stroke-width=".6"/>
<path d="M669.7 286.2 672.2 287.5 674.8 288.8 677.2 290.3 679.5 292.1 681.6 294 683.6 296 685.5 298.1 687.4 300.3 689.3 302.4 691 304.7 692.8 306.9 694.5 309.2M662.2 303.6 664.3 304.9 666.4 306.2 668.4 307.5 670.5 308.7 672.5 310 674.5 311.4 676.6 312.7 678.6 314.1 680.7 315.3 682.9 316.2 685.3 316.5 687.7 316.3" fill="none" stroke="#bc9e9e" stroke-width=".70" stroke-opacity=".75"/>
<path d="M687.7 314.5 688.3 316.3 689.4 318.9 690.7 321.9 691.9 323.8 693.1 325.8 694.5 327.9 695.8 330 697.1 332 698.3 334 699.6 336 700.9 338 702.1 339.9 703.2 341.8 704.3 343.7 705.4 345.7 706.4 347.7 707.4 349.5 708.1 351 709.4 354.1 710.2 356.6 710.6 358.6 718 357.7 717.4 354.9 716.9 351.9 715.8 348.1 714.9 346.1 714 344 713 341.8 711.9 339.6 710.7 337.5 709.5 335.4 708.2 333.3 706.9 331.3 705.7 329.3 704.4 327.4 703.1 325.3 701.8 323.2 700.5 321.2 699.3 319.3 698.3 317.6 696.7 315.1 695.4 312.8 694.4 311.3z" fill="#f6d9f1" stroke="#f6d9f1" stroke-width=".5"/>
<path d="M710.6 358.6 710.7 360.5 718.1 361 718 357.7z" fill="#f7d6dc" stroke="#f7d6dc" stroke-width=".5"/>
<path d="M710.7 360.5 710.6 362.5 710.3 364.9 709.8 366.8 709 369.2 707.4 371.4 705.3 372.1 702.8 372.7 700.7 372.9 697.9 372.4 695.4 371.5 693.9 370.7 691.5 376.2 693.6 376.9 696.9 377.7 700.8 377.9 703.9 377.1 706.9 376 709.5 374.5 712.7 372.5 715.3 369.6 716.6 366.8 717.5 363.8 718.1 361z" fill="#fad0b2" stroke="#fad0b2" stroke-width=".5"/>
<path d="M693.9 370.7 692.2 369.8 689.4 375.3 691.5 376.2z" fill="#e8d8b6" stroke="#e8d8b6" stroke-width=".5"/>
<path d="M692.2 369.8 690.5 368.9 688.4 367.8 685.8 366.6 683.6 365.6 681 364.5 678.4 363.4 675.7 362.4 673.1 361.6 670.6 360.8 668 360.2 665.4 359.6 662.6 359.1 659.9 358.8 657.3 358.5 655.2 358.3 652.2 358 650.4 357.8 649.1 357.5 647.4 364.8 649.3 365.2 651.5 365.4 654.4 365.7 656.5 365.9 659 366.2 661.6 366.5 664.1 366.9 666.4 367.3 668.8 367.8 671.2 368.4 673.6 369 676.1 369.8 678.7 370.6 681.2 371.5 683.3 372.3 685.7 373.4 687.6 374.4 689.4 375.3z" fill="#c4e9bd" stroke="#c4e9bd" stroke-width=".5"/>
<path d="M649.1 357.5 647.6 357.1 645.8 364.4 647.4 364.8z" fill="#e5dee0" stroke="#e5dee0" stroke-width=".5"/>
<path d="M647.6 357.1 645.7 356.7 644 356.2 641.7 355.1 639.7 353.7 638.7 353 638.1 353.1 639.2 352 641.3 350.6 642.8 350.1 644.7 349.4 646.7 347.8 643.7 344.8 642.5 346 641.4 346.5 639.7 347.3 636.9 348.7 634.2 351 633.7 354.7 635.1 357.8 637.6 360.5 640.7 362.8 643.6 363.9 645.8 364.4z" fill="#f6d9f1" stroke="#f6d9f1" stroke-width=".5"/>
<path d="M646.7 347.8 648.5 346 644.9 343.2 643.7 344.8z" fill="#d5c3e8" stroke="#d5c3e8" stroke-width=".5"/>
<path d="M648.5 346 650 343.9 651 341.3 651.2 338.2 650.6 335.1 649.5 332.7 648.3 330.3 646.7 328.1 644.3 325.9 642.4 324.8 639.8 328.4 641.3 329.6 642.9 331.3 643.8 332.8 644.7 334.9 645.3 336.7 646 338.9 646.1 340.5 645.8 341.8 644.9 343.2z" fill="#8db3e1" stroke="#8db3e1" stroke-width=".5"/>
<defs><path id="c8" d="M691.1 312.9 693 317 695.6 321.5 698.1 325.6 700.7 329.7 703.3 333.7 705.8 337.6 708.1 341.7 710.2 345.9 711.9 349.6 713.8 355.8 714.4 360.7 713.4 365.8 710.9 370.9 706.1 374.1 700.7 375.4 694.5 374.2 690.8 372.5 687 370.6 682.4 368.5 677.2 366.6 672.2 365 667.2 363.7 662.1 362.8 656.9 362.2 651.9 361.7 648.2 361.2 644.7 360.3 639.7 357.8 636.2 353.9 638.1 350.3 642.1 348.3 645.2 346.3 647.9 342.8 648.6 338.5 647.1 333.8 644.8 329.7 641.1 326.6"/></defs><use href="#c8" class="hl" stroke-width="4.4"/><use href="#c8" class="hl" stroke-width="2.1"/>
<path d="M687.7 314.5 688.3 316.3 689.4 318.9 690.7 321.9 691.9 323.8 693.1 325.8 694.5 327.9 695.8 330 697.1 332 698.3 334 699.6 336 700.9 338 702.1 339.9 703.2 341.8 704.3 343.7 705.4 345.7 706.4 347.7 707.4 349.5 708.1 351 709.4 354.1 710.2 356.6 710.6 358.6M694.4 311.3 695.4 312.8 696.7 315.1 698.3 317.6 699.3 319.3 700.5 321.2 701.8 323.2 703.1 325.3 704.4 327.4 705.7 329.3 706.9 331.3 708.2 333.3 709.5 335.4 710.7 337.5 711.9 339.6 713 341.8 714 344 714.9 346.1 715.8 348.1 716.9 351.9 717.4 354.9 718 357.7" fill="none" stroke="#e3c8de" stroke-width=".70"/>
<path d="M710.6 358.6 710.7 360.5M718 357.7 718.1 361" fill="none" stroke="#e4c6cb" stroke-width=".70"/>
<path d="M710.7 360.5 710.6 362.5 710.3 364.9 709.8 366.8 709 369.2 707.4 371.4 705.3 372.1 702.8 372.7 700.7 372.9 697.9 372.4 695.4 371.5 693.9 370.7M718.1 361 717.5 363.8 716.6 366.8 715.3 369.6 712.7 372.5 709.5 374.5 706.9 376 703.9 377.1 700.8 377.9 696.9 377.7 693.6 376.9 691.5 376.2" fill="none" stroke="#e7c0a4" stroke-width=".70"/>
<path d="M693.9 370.7 692.2 369.8M691.5 376.2 689.4 375.3" fill="none" stroke="#d6c7a8" stroke-width=".70"/>
<path d="M692.2 369.8 690.5 368.9 688.4 367.8 685.8 366.6 683.6 365.6 681 364.5 678.4 363.4 675.7 362.4 673.1 361.6 670.6 360.8 668 360.2 665.4 359.6 662.6 359.1 659.9 358.8 657.3 358.5 655.2 358.3 652.2 358 650.4 357.8 649.1 357.5M689.4 375.3 687.6 374.4 685.7 373.4 683.3 372.3 681.2 371.5 678.7 370.6 676.1 369.8 673.6 369 671.2 368.4 668.8 367.8 666.4 367.3 664.1 366.9 661.6 366.5 659 366.2 656.5 365.9 654.4 365.7 651.5 365.4 649.3 365.2 647.4 364.8" fill="none" stroke="#b5d7ae" stroke-width=".70"/>
<path d="M649.1 357.5 647.6 357.1M647.4 364.8 645.8 364.4" fill="none" stroke="#d3cdcf" stroke-width=".70"/>
<path d="M647.6 357.1 645.7 356.7 644 356.2 641.7 355.1 639.7 353.7 638.7 353 638.1 353.1 639.2 352 641.3 350.6 642.8 350.1 644.7 349.4 646.7 347.8M645.8 364.4 643.6 363.9 640.7 362.8 637.6 360.5 635.1 357.8 633.7 354.7 634.2 351 636.9 348.7 639.7 347.3 641.4 346.5 642.5 346 643.7 344.8" fill="none" stroke="#e3c8de" stroke-width=".70"/>
<path d="M646.7 347.8 648.5 346M643.7 344.8 644.9 343.2" fill="none" stroke="#c2b1d3" stroke-width=".70"/>
<path d="M648.5 346 650 343.9 651 341.3 651.2 338.2 650.6 335.1 649.5 332.7 648.3 330.3 646.7 328.1 644.3 325.9 642.4 324.8M644.9 343.2 645.8 341.8 646.1 340.5 646 338.9 645.3 336.7 644.7 334.9 643.8 332.8 642.9 331.3 641.3 329.6 639.8 328.4" fill="none" stroke="#7fa1cb" stroke-width=".70"/>
<path d="M425.5 316.4 425.6 317.7 425.9 319.5 426.1 321.6 426.5 323.9 426.8 326.4 427.1 329 427.3 331.5 427.6 333.9 427.7 336.1 427.9 338.5 428 340.9 428.2 343.3 428.2 345.6 428.3 347.8 428.2 350 428 352.1 427.7 354 427.3 356.2 426.7 358.3 426 360.4 425.1 362.4 424.2 364.4 423.2 366.3 422.1 368.1 420.8 370.1 419.2 372.1 417.5 374 415.8 375.9 414.2 377.5 412.7 379.1 410.5 381.4 409 382.8 411.4 386.4 413.6 384.5 415.9 382.2 417.4 380.8 419.1 379.1 421 377.3 422.9 375.2 424.7 373.1 426.3 370.8 427.5 368.8 428.7 366.7 429.8 364.6 430.8 362.4 431.7 360 432.5 357.6 433.1 355 433.5 352.7 433.7 350.3 433.7 347.9 433.7 345.5 433.6 343 433.5 340.6 433.3 338.1 433.2 335.7 432.9 333.4 432.7 330.9 432.3 328.3 432 325.7 431.6 323.2 431.2 320.9 430.9 318.8 430.6 317 430.4 315.7z" fill="#cedef2" stroke="#cedef2" stroke-width=".5"/>
<path d="M409 382.8 407.6 383.5 405.4 383.7 402.7 383.3 400.2 382.4 398.6 381.5 396.7 380 395.1 378.5 393.8 377.4 391.3 380.1 392.4 381.3 394.1 383 396.2 384.8 398.5 386.3 401.7 387.4 405.2 387.9 408.6 387.6 411.4 386.4z" fill="#d3eece" stroke="#d3eece" stroke-width=".5"/>
<defs><path id="c9" d="M428 316 428.4 319.1 429 323.6 429.7 328.6 430.3 333.6 430.6 338.3 430.9 343.1 431 347.9 430.7 352.4 429.9 356.9 428.4 361.4 426.5 365.6 424.2 369.4 421 373.7 417.5 377.5 414.3 380.6 410.2 384.6 405.3 385.8 399.4 384.3 395.4 381.5 392.5 378.8"/></defs><use href="#c9" class="hl" stroke-width="3.2"/><use href="#c9" class="hl" stroke-width="1.6"/>
<path d="M425.5 316.4 425.6 317.7 425.9 319.5 426.1 321.6 426.5 323.9 426.8 326.4 427.1 329 427.3 331.5 427.6 333.9 427.7 336.1 427.9 338.5 428 340.9 428.2 343.3 428.2 345.6 428.3 347.8 428.2 350 428 352.1 427.7 354 427.3 356.2 426.7 358.3 426 360.4 425.1 362.4 424.2 364.4 423.2 366.3 422.1 368.1 420.8 370.1 419.2 372.1 417.5 374 415.8 375.9 414.2 377.5 412.7 379.1 410.5 381.4 409 382.8M430.4 315.7 430.6 317 430.9 318.8 431.2 320.9 431.6 323.2 432 325.7 432.3 328.3 432.7 330.9 432.9 333.4 433.2 335.7 433.3 338.1 433.5 340.6 433.6 343 433.7 345.5 433.7 347.9 433.7 350.3 433.5 352.7 433.1 355 432.5 357.6 431.7 360 430.8 362.4 429.8 364.6 428.7 366.7 427.5 368.8 426.3 370.8 424.7 373.1 422.9 375.2 421 377.3 419.1 379.1 417.4 380.8 415.9 382.2 413.6 384.5 411.4 386.4" fill="none" stroke="#c5d5e8" stroke-width=".70"/>
<path d="M409 382.8 407.6 383.5 405.4 383.7 402.7 383.3 400.2 382.4 398.6 381.5 396.7 380 395.1 378.5 393.8 377.4M411.4 386.4 408.6 387.6 405.2 387.9 401.7 387.4 398.5 386.3 396.2 384.8 394.1 383 392.4 381.3 391.3 380.1" fill="none" stroke="#cae4c5" stroke-width=".70"/>
<path d="M417 304.5 416.8 306.3 416.4 308.8 416 311.7 415.6 314.5 415.2 316.8 414.5 319.9 413.9 322.4 413.4 324.1 417.7 325.3 418.2 323.6 418.9 320.9 419.6 317.7 420 315.3 420.4 312.4 420.9 309.5 421.2 306.9 421.5 305.2z" fill="#f6d9f1" stroke="#f6d9f1" stroke-width=".5"/>
<defs><path id="c10" d="M419.3 304.8 418.6 309.2 417.8 314.9 416.7 320.4 415.5 324.7"/></defs><use href="#c10" class="hl" stroke-width="3"/><use href="#c10" class="hl" stroke-width="1.4"/>
<path d="M417 304.5 416.8 306.3 416.4 308.8 416 311.7 415.6 314.5 415.2 316.8 414.5 319.9 413.9 322.4 413.4 324.1M421.5 305.2 421.2 306.9 420.9 309.5 420.4 312.4 420 315.3 419.6 317.7 418.9 320.9 418.2 323.6 417.7 325.3" fill="none" stroke="#e8cde3" stroke-width=".70"/>
<path d="M422.8 310.3 422.3 312.1 421.5 314.7 420.6 317.5 419.7 320 418.7 322.2 417.7 324.4 416.6 326.5 415.6 328.1 414.2 330.1 418.5 333.8 420.4 331.3 421.6 329.2 422.8 327 423.9 324.5 425 322 426 319.3 426.9 316.3 427.6 313.6 428.1 311.8z" fill="#9dbee5" stroke="#9dbee5" stroke-width=".5"/>
<path d="M414.2 330.1 412.3 332 416.3 336.1 418.5 333.8z" fill="#b5acda" stroke="#b5acda" stroke-width=".5"/>
<path d="M412.3 332 410.7 333.5 408.9 335.2 407 337 405 338.7 403.4 340 401.6 341.3 399.7 342.8 397.9 344.2 396.1 345.8 393.9 348.6 392.2 351.3 391.1 353.2 395.3 355.9 396.5 354.2 398.1 351.8 400.1 349.6 401.4 348.5 403.1 347.2 404.9 345.9 406.8 344.5 408.7 343.1 410.8 341.2 412.8 339.4 414.7 337.6 416.3 336.1z" fill="#e489c2" stroke="#e489c2" stroke-width=".5"/>
<defs><path id="c11" d="M425.5 311.1 424.2 315.5 422.4 321 420.2 325.7 418 329.7 414.3 334 410.9 337.3 406.8 340.9 403.3 343.6 399.7 346.3 396 350.2 393.2 354.5"/></defs><use href="#c11" class="hl" stroke-width="3.7"/><use href="#c11" class="hl" stroke-width="1.8"/>
<path d="M422.8 310.3 422.3 312.1 421.5 314.7 420.6 317.5 419.7 320 418.7 322.2 417.7 324.4 416.6 326.5 415.6 328.1 414.2 330.1M428.1 311.8 427.6 313.6 426.9 316.3 426 319.3 425 322 423.9 324.5 422.8 327 421.6 329.2 420.4 331.3 418.5 333.8" fill="none" stroke="#8ba8cb" stroke-width=".70"/>
<path d="M414.2 330.1 412.3 332M418.5 333.8 416.3 336.1" fill="none" stroke="#a098c1" stroke-width=".70"/>
<path d="M412.3 332 410.7 333.5 408.9 335.2 407 337 405 338.7 403.4 340 401.6 341.3 399.7 342.8 397.9 344.2 396.1 345.8 393.9 348.6 392.2 351.3 391.1 353.2M416.3 336.1 414.7 337.6 412.8 339.4 410.8 341.2 408.7 343.1 406.8 344.5 404.9 345.9 403.1 347.2 401.4 348.5 400.1 349.6 398.1 351.8 396.5 354.2 395.3 355.9" fill="none" stroke="#ca79ac" stroke-width=".70"/>
<path d="M382.9 313.2 382.3 315.2 381.5 318 380.8 320.5 380.1 322.6 383.8 323.7 384.4 321.5 385 318.9 385.6 316 386 313.9z" fill="#f28f7f" stroke="#f28f7f" stroke-width=".5"/>
<path d="M380.1 322.6 379.4 324.8 383.3 325.9 383.8 323.7z" fill="#d9aa88" stroke="#d9aa88" stroke-width=".5"/>
<path d="M379.4 324.8 378.8 327.2 378.1 330 377.4 333 377 335.5 376.7 338.2 376.4 340.8 376.2 343.1 375.9 345.9 375.7 348.4 375.5 350.5 375.1 353.1 379.3 353.6 379.7 351.1 379.9 348.8 380.1 346.3 380.4 343.6 380.6 341.2 380.9 338.7 381.2 336.1 381.6 333.8 382.1 330.9 382.7 328.2 383.3 325.9z" fill="#a7de9c" stroke="#a7de9c" stroke-width=".5"/>
<path d="M375.1 353.1 374.9 356 379.1 355.5 379.3 353.6z" fill="#d8ced0" stroke="#d8ced0" stroke-width=".5"/>
<path d="M374.9 356 375.9 359.8 376.9 362.7 380.9 361.3 379.9 358.6 379.1 355.5z" fill="#f1c6ea" stroke="#f1c6ea" stroke-width=".5"/>
<defs><path id="c12" d="M384.5 313.5 383.3 318.5 382 323.1 380.8 327.7 379.5 333.4 378.8 338.4 378.3 343.4 377.8 348.6 377.2 353.4 377.9 359.2"/></defs><use href="#c12" class="hl" stroke-width="2.7"/><use href="#c12" class="hl" stroke-width="1.3"/>
<path d="M382.9 313.2 382.3 315.2 381.5 318 380.8 320.5 380.1 322.6M386 313.9 385.6 316 385 318.9 384.4 321.5 383.8 323.7" fill="none" stroke="#d67f71" stroke-width=".70"/>
<path d="M380.1 322.6 379.4 324.8M383.8 323.7 383.3 325.9" fill="none" stroke="#c09778" stroke-width=".70"/>
<path d="M379.4 324.8 378.8 327.2 378.1 330 377.4 333 377 335.5 376.7 338.2 376.4 340.8 376.2 343.1 375.9 345.9 375.7 348.4 375.5 350.5 375.1 353.1M383.3 325.9 382.7 328.2 382.1 330.9 381.6 333.8 381.2 336.1 380.9 338.7 380.6 341.2 380.4 343.6 380.1 346.3 379.9 348.8 379.7 351.1 379.3 353.6" fill="none" stroke="#94c58a" stroke-width=".70"/>
<path d="M375.1 353.1 374.9 356M379.3 353.6 379.1 355.5" fill="none" stroke="#bfb7b8" stroke-width=".70"/>
<path d="M374.9 356 375.9 359.8 376.9 362.7M379.1 355.5 379.9 358.6 380.9 361.3" fill="none" stroke="#d6afcf" stroke-width=".70"/>
<path d="M380.2 332.7 380.7 334.5 381.5 337 382.3 339.8 383.1 342.6 383.6 345 384.1 347.8 384.5 350.6 384.7 353 384.9 354.7 389.1 354.3 388.9 352.6 388.7 350.1 388.3 347.2 387.8 344.2 387.1 341.5 386.1 338.6 385.2 335.8 384.4 333.3 383.8 331.6z" fill="#f6d9f1" stroke="#f6d9f1" stroke-width=".5"/>
<defs><path id="c13" d="M382 332.2 383.3 336.4 385.1 342.1 386.2 347.5 386.8 352.8"/></defs><use href="#c13" class="hl" stroke-width="2.7"/><use href="#c13" class="hl" stroke-width="1.3"/>
<path d="M380.2 332.7 380.7 334.5 381.5 337 382.3 339.8 383.1 342.6 383.6 345 384.1 347.8 384.5 350.6 384.7 353 384.9 354.7M383.8 331.6 384.4 333.3 385.2 335.8 386.1 338.6 387.1 341.5 387.8 344.2 388.3 347.2 388.7 350.1 388.9 352.6 389.1 354.3" fill="none" stroke="#e8cde3" stroke-width=".70"/>
<path d="M364.6 384.7 366.2 385.6 368.5 386.9 371.1 388.2 373.8 389 376.5 389.6 379.4 389.9 382.3 389.8 385.2 389.3 388 388.4 390.7 386.8 393.2 384.8 395.3 381.9 395.3 377.9 394.3 375.2 390.8 376.2 391.2 378.4 391 380.5 390.1 381.2 388 382.4 385.9 383.3 383.9 383.9 381.8 384.2 379.6 384.2 377.4 384.1 375.1 383.6 373 383 370.8 382.2 368.6 381.1 367 380.3z" fill="#98d88c" stroke="#98d88c" stroke-width=".5"/>
<defs><path id="c14" d="M365.8 382.5 369.7 384.6 374.4 386.3 379.5 387.1 384.6 386.6 389.4 384.6 393.2 381.2 392.5 375.7"/></defs><use href="#c14" class="hl" stroke-width="3.4"/><use href="#c14" class="hl" stroke-width="1.6"/>
<path d="M364.6 384.7 366.2 385.6 368.5 386.9 371.1 388.2 373.8 389 376.5 389.6 379.4 389.9 382.3 389.8 385.2 389.3 388 388.4 390.7 386.8 393.2 384.8 395.3 381.9 395.3 377.9 394.3 375.2M367 380.3 368.6 381.1 370.8 382.2 373 383 375.1 383.6 377.4 384.1 379.6 384.2 381.8 384.2 383.9 383.9 385.9 383.3 388 382.4 390.1 381.2 391 380.5 391.2 378.4 390.8 376.2" fill="none" stroke="#82b877" stroke-width=".70"/>
<path d="M253 189.2 254.6 191.1 257.3 193.8 259.2 195.3 261.4 197.1 263.7 198.8 266 200.4 268.4 201.8 270.7 203.1 272.9 204.2 274.9 205.2 277.2 206.2 279.1 207.1 281.2 201.7 279.3 201 277.1 200.2 275.1 199.3 273 198.4 270.8 197.3 268.6 196.2 266.4 194.9 264.1 193.3 261.9 191.8 259.9 190.5 256.9 188.4 254.8 187.1z" fill="#f8c7c7" stroke="#f8c7c7" stroke-width=".5"/>
<path d="M279.1 207.1 281.2 208 283.5 208.9 286 209.8 288.9 210.6 291.2 211.2 293.7 211.8 296.5 212.3 299.3 212.6 301.8 212.7 304.5 212.8 307.3 212.8 310 212.7 312.5 212.4 315.3 211.8 317.8 210.9 320 209.9 322.1 208.8 324.7 207 326.9 205.1 328.3 203.8 325.6 200.3 324 201.3 321.8 202.8 319.4 204 317.7 204.8 315.8 205.6 313.8 206.2 311.6 206.6 309.6 206.7 307.2 206.8 304.7 206.7 302.2 206.6 299.9 206.4 297.4 206.1 295 205.7 292.6 205.2 290.5 204.6 287.9 203.9 285.6 203.2 283.3 202.4 281.2 201.7z" fill="#b6e4ac" stroke="#b6e4ac" stroke-width=".5"/>
<defs><path id="c15" d="M253.9 188.1 258.6 192.1 262.7 195.2 267.3 198.3 271.8 200.7 276 202.7 280.2 204.4 284.5 206 289.7 207.6 294.3 208.7 299.6 209.5 304.6 209.8 309.8 209.7 314.5 209 318.8 207.3 323.2 204.9 327 202"/></defs><use href="#c15" class="hl" stroke-width="3.6"/><use href="#c15" class="hl" stroke-width="1.7"/>
<path d="M253 189.2 254.6 191.1 257.3 193.8 259.2 195.3 261.4 197.1 263.7 198.8 266 200.4 268.4 201.8 270.7 203.1 272.9 204.2 274.9 205.2 277.2 206.2 279.1 207.1M254.8 187.1 256.9 188.4 259.9 190.5 261.9 191.8 264.1 193.3 266.4 194.9 268.6 196.2 270.8 197.3 273 198.4 275.1 199.3 277.1 200.2 279.3 201 281.2 201.7" fill="none" stroke="#e3b6b6" stroke-width=".70"/>
<path d="M279.1 207.1 281.2 208 283.5 208.9 286 209.8 288.9 210.6 291.2 211.2 293.7 211.8 296.5 212.3 299.3 212.6 301.8 212.7 304.5 212.8 307.3 212.8 310 212.7 312.5 212.4 315.3 211.8 317.8 210.9 320 209.9 322.1 208.8 324.7 207 326.9 205.1 328.3 203.8M281.2 201.7 283.3 202.4 285.6 203.2 287.9 203.9 290.5 204.6 292.6 205.2 295 205.7 297.4 206.1 299.9 206.4 302.2 206.6 304.7 206.7 307.2 206.8 309.6 206.7 311.6 206.6 313.8 206.2 315.8 205.6 317.7 204.8 319.4 204 321.8 202.8 324 201.3 325.6 200.3" fill="none" stroke="#a7d19e" stroke-width=".70"/>
<path d="M336.5 193.4 338.2 192.9 340.6 192.1 343.3 191.3 345.7 190.7 348.6 190.4 351.4 190.3 354.2 190.5 356.4 190.8 358.6 191.3 360.7 191.9 362.6 192.7 365 193.9 367.2 195.5 368.7 196.5 369.7 195.1 368.2 194 365.9 192.5 363.3 191.1 361.3 190.3 359 189.6 356.7 189.1 354.4 188.8 351.4 188.6 348.5 188.6 345.4 189 342.9 189.7 340.1 190.6 337.7 191.4 336 192z" fill="#f7bcbc" stroke="#f7bcbc" stroke-width=".5"/>
<path d="M336.5 193.4 338.2 192.9 340.6 192.1 343.3 191.3 345.7 190.7 348.6 190.4 351.4 190.3 354.2 190.5 356.4 190.8 358.6 191.3 360.7 191.9 362.6 192.7 365 193.9 367.2 195.5 368.7 196.5M336 192 337.7 191.4 340.1 190.6 342.9 189.7 345.4 189 348.5 188.6 351.4 188.6 354.4 188.8 356.7 189.1 359 189.6 361.3 190.3 363.3 191.1 365.9 192.5 368.2 194 369.7 195.1" fill="none" stroke="#d5a2a2" stroke-width=".70"/>
<path d="M313.6 154.6 315 155.8 317.4 152.1 315.5 151.4z" fill="#ebe861" stroke="#ebe861" stroke-width=".5"/>
<path d="M315 155.8 316.7 157.4 319.9 153.6 317.4 152.1z" fill="#c6d28a" stroke="#c6d28a" stroke-width=".5"/>
<path d="M316.7 157.4 317.9 159.1 319.5 161.6 320.5 163.3 321.6 165.4 322.8 167.6 323.8 169.9 324.5 171.8 325.3 174 326 176.2 326.7 178.5 327.4 180.7 328.2 183.2 329 185.6 329.7 187.8 330.1 189.9 330.2 192.1 330.2 194.4 330.1 196.8 329.8 199.1 329.4 201.5 328.8 203.9 328.3 206.6 328 209.3 327.8 212.1 327.9 214.9 328.3 217.8 329.1 220.7 330.5 223.2 335.7 219.9 334.8 218.2 334.1 216.4 333.7 214.3 333.5 212 333.4 209.7 333.7 207.5 334.2 205.1 334.8 202.6 335.2 200 335.7 197.4 336 194.8 336.3 192.1 336.3 189.3 335.9 186.5 335.4 183.9 334.7 181.3 334 178.7 333.4 176.5 332.7 174.2 331.9 171.8 331.1 169.4 330.1 167.1 328.8 164.5 327.3 162.1 325.9 159.9 324.5 158 322.2 155.4 319.9 153.6z" fill="#7da8dd" stroke="#7da8dd" stroke-width=".5"/>
<path d="M330.5 223.2 332.2 225.6 336.9 221.5 335.7 219.9z" fill="#8db3e1" stroke="#8db3e1" stroke-width=".5"/>
<path d="M332.2 225.6 334.2 227.6 338.4 223.1 336.9 221.5z" fill="#9bb7db" stroke="#9bb7db" stroke-width=".5"/>
<path d="M334.2 227.6 336.3 229.4 338.7 230.9 341.3 232 343.7 232.9 346.1 233.6 349 234.1 351.4 234.2 353.3 234.6 354.9 235.2 356.7 236.2 359.6 231.7 357.5 230.4 355.2 229.2 352.3 228.4 349.8 228.1 347.6 227.6 345.7 227 343.6 226.3 341.6 225.4 340 224.4 338.4 223.1z" fill="#a2bad8" stroke="#a2bad8" stroke-width=".5"/>
<path d="M356.7 236.2 358.4 237.3 361.7 233.3 359.6 231.7z" fill="#9bb7db" stroke="#9bb7db" stroke-width=".5"/>
<path d="M358.4 237.3 360 238.6 361.3 240 362.5 241.7 363.6 243.5 364.7 245.3 366 247.7 367.1 250.2 371 248.3 369.9 245.8 368.7 243.2 367.6 241.2 366.5 239.1 365.1 237.1 363.5 235.1 361.7 233.3z" fill="#8db3e1" stroke="#8db3e1" stroke-width=".5"/>
<path d="M367.1 250.2 368.6 252.9 370.1 254.9 371.8 256.8 373.5 258.7 375.3 260.5 377.4 262.4 379.6 264.2 381.6 265.8 382.9 266.9 385.3 263.9 383.9 262.9 381.9 261.3 379.8 259.6 377.9 257.9 376.4 256.1 374.8 254.3 373.4 252.4 372.2 250.6 371 248.3z" fill="#f6b1b1" stroke="#f6b1b1" stroke-width=".5"/>
<defs><path id="c16" d="M314.5 153 318.3 155.5 322 159.8 324.5 163.7 327 168.5 328.6 172.9 330 177.5 331.5 182.3 332.8 187.2 333.3 192.1 332.9 197.1 332.1 202 331 207 330.7 212 331.2 217.1 333.1 221.6 336.3 225.4 340.2 228.1 344.7 230 349.4 231.1 354.3 231.9 358.2 234 361.7 236.8 364.5 240.4 366.7 244.3 369.1 249.3 371.8 253.6 374.9 257.4 378.6 261 382.7 264.3"/></defs><use href="#c16" class="hl" stroke-width="3.6"/><use href="#c16" class="hl" stroke-width="1.8"/>
<path d="M313.6 154.6 315 155.8M315.5 151.4 317.4 152.1" fill="none" stroke="#c6c352" stroke-width=".70"/>
<path d="M315 155.8 316.7 157.4M317.4 152.1 319.9 153.6" fill="none" stroke="#a7b174" stroke-width=".70"/>
<path d="M316.7 157.4 317.9 159.1 319.5 161.6 320.5 163.3 321.6 165.4 322.8 167.6 323.8 169.9 324.5 171.8 325.3 174 326 176.2 326.7 178.5 327.4 180.7 328.2 183.2 329 185.6 329.7 187.8 330.1 189.9 330.2 192.1 330.2 194.4 330.1 196.8 329.8 199.1 329.4 201.5 328.8 203.9 328.3 206.6 328 209.3 327.8 212.1 327.9 214.9 328.3 217.8 329.1 220.7 330.5 223.2M319.9 153.6 322.2 155.4 324.5 158 325.9 159.9 327.3 162.1 328.8 164.5 330.1 167.1 331.1 169.4 331.9 171.8 332.7 174.2 333.4 176.5 334 178.7 334.7 181.3 335.4 183.9 335.9 186.5 336.3 189.3 336.3 192.1 336 194.8 335.7 197.4 335.2 200 334.8 202.6 334.2 205.1 333.7 207.5 333.4 209.7 333.5 212 333.7 214.3 334.1 216.4 334.8 218.2 335.7 219.9" fill="none" stroke="#698dba" stroke-width=".70"/>
<path d="M330.5 223.2 332.2 225.6M335.7 219.9 336.9 221.5" fill="none" stroke="#7899c0" stroke-width=".70"/>
<path d="M332.2 225.6 334.2 227.6M336.9 221.5 338.4 223.1" fill="none" stroke="#849cbb" stroke-width=".70"/>
<path d="M334.2 227.6 336.3 229.4 338.7 230.9 341.3 232 343.7 232.9 346.1 233.6 349 234.1 351.4 234.2 353.3 234.6 354.9 235.2 356.7 236.2M338.4 223.1 340 224.4 341.6 225.4 343.6 226.3 345.7 227 347.6 227.6 349.8 228.1 352.3 228.4 355.2 229.2 357.5 230.4 359.6 231.7" fill="none" stroke="#8a9fb8" stroke-width=".70"/>
<path d="M356.7 236.2 358.4 237.3M359.6 231.7 361.7 233.3" fill="none" stroke="#849cbb" stroke-width=".70"/>
<path d="M358.4 237.3 360 238.6 361.3 240 362.5 241.7 363.6 243.5 364.7 245.3 366 247.7 367.1 250.2M361.7 233.3 363.5 235.1 365.1 237.1 366.5 239.1 367.6 241.2 368.7 243.2 369.9 245.8 371 248.3" fill="none" stroke="#7899c0" stroke-width=".70"/>
<path d="M367.1 250.2 368.6 252.9 370.1 254.9 371.8 256.8 373.5 258.7 375.3 260.5 377.4 262.4 379.6 264.2 381.6 265.8 382.9 266.9M371 248.3 372.2 250.6 373.4 252.4 374.8 254.3 376.4 256.1 377.9 257.9 379.8 259.6 381.9 261.3 383.9 262.9 385.3 263.9" fill="none" stroke="#d29797" stroke-width=".70"/>
<path d="M252.5 188.4 253.8 190.6 256.5 187.7 254.8 186.4z" fill="#f7bcbc" stroke="#f7bcbc" stroke-width=".5"/>
<path d="M253.8 190.6 256.4 193.1 258.4 188.6 256.5 187.7z" fill="#d3b1c1" stroke="#d3b1c1" stroke-width=".5"/>
<path d="M256.4 193.1 260.3 194.2 264.6 193.8 267.5 192.3 270 190.4 272.3 188.3 274.1 186.6 275.8 184.6 277.6 182.6 279.1 180.5 280.7 177.9 282 175.5 283 173.4 284.6 170.5 278.1 166.9 276.5 169.9 275.3 172.1 274.2 174.3 272.9 176.4 271.7 178.1 270.3 180 268.8 181.8 267.3 183.5 265.5 185.4 263.8 187 262.6 187.9 260.3 188.6 258.4 188.6z" fill="#7da8dd" stroke="#7da8dd" stroke-width=".5"/>
<path d="M284.6 170.5 286.1 167.8 279.6 164.2 278.1 166.9z" fill="#c6d28a" stroke="#c6d28a" stroke-width=".5"/>
<path d="M286.1 167.8 287.4 165.6 288.9 163.3 290.4 161.3 292.1 159.1 293.9 157.5 295.6 156.3 297.8 155.3 299.9 154.6 303.3 154 305.8 153.7 305.9 150.5 303.1 150.2 299.3 150.1 296.6 150.4 293.6 151 290.5 152.2 287.6 154.3 285.1 156.6 283 158.8 281.1 161.6 279.6 164.2z" fill="#ebe861" stroke="#ebe861" stroke-width=".5"/>
<defs><path id="c17" d="M253.7 187.4 257.4 190.9 263.6 190.9 267.7 187.9 271.4 184.2 274.6 180.3 277.5 176.1 279.8 171.6 282.9 166 286 161.1 289.9 156.7 294.6 153.7 299.6 152.4 305.8 152.1"/></defs><use href="#c17" class="hl" stroke-width="4.1"/><use href="#c17" class="hl" stroke-width="2"/>
<path d="M252.5 188.4 253.8 190.6M254.8 186.4 256.5 187.7" fill="none" stroke="#d5a2a2" stroke-width=".70"/>
<path d="M253.8 190.6 256.4 193.1M256.5 187.7 258.4 188.6" fill="none" stroke="#b497a5" stroke-width=".70"/>
<path d="M256.4 193.1 260.3 194.2 264.6 193.8 267.5 192.3 270 190.4 272.3 188.3 274.1 186.6 275.8 184.6 277.6 182.6 279.1 180.5 280.7 177.9 282 175.5 283 173.4 284.6 170.5M258.4 188.6 260.3 188.6 262.6 187.9 263.8 187 265.5 185.4 267.3 183.5 268.8 181.8 270.3 180 271.7 178.1 272.9 176.4 274.2 174.3 275.3 172.1 276.5 169.9 278.1 166.9" fill="none" stroke="#698dba" stroke-width=".70"/>
<path d="M284.6 170.5 286.1 167.8M278.1 166.9 279.6 164.2" fill="none" stroke="#a7b174" stroke-width=".70"/>
<path d="M286.1 167.8 287.4 165.6 288.9 163.3 290.4 161.3 292.1 159.1 293.9 157.5 295.6 156.3 297.8 155.3 299.9 154.6 303.3 154 305.8 153.7M279.6 164.2 281.1 161.6 283 158.8 285.1 156.6 287.6 154.3 290.5 152.2 293.6 151 296.6 150.4 299.3 150.1 303.1 150.2 305.9 150.5" fill="none" stroke="#c6c352" stroke-width=".70"/>
<path d="M378.9 200.8 378.8 202.4 378.7 204.5 378.6 207 378.4 209.6 378.1 212.1 377.6 214.2 376.7 216.1 375.7 218 374.4 220.1 373 222.2 371.6 224.4 370.4 226.8 369.5 229.1 368.6 231.4 367.7 233.7 367 236.1 366.4 238.5 366 240.9 365.9 243.7 366.1 246.4 366.5 249.1 367.2 251.6 368.3 254.1 370 256.8 372.2 259.2 374.6 261.2 377 262.9 379.7 264.2 382.3 265 384.1 258.7 382.2 258 380.5 257.1 378.7 255.9 376.9 254.4 375.4 252.7 374.2 250.9 373.6 249.4 373.1 247.6 372.8 245.7 372.7 243.6 372.7 241.6 373 239.8 373.5 237.9 374.1 235.9 374.9 233.8 375.7 231.6 376.6 229.5 377.4 227.5 378.5 225.4 379.7 223.2 380.9 220.9 382.1 218.4 382.9 215.8 383.5 213 383.9 210.1 384 207.3 384.1 204.7 384.1 202.6 384.2 201.1z" fill="#7da8dd" stroke="#7da8dd" stroke-width=".5"/>
<path d="M382.3 265 385 265.5 386.2 259.2 384.1 258.7z" fill="#a5a7ca" stroke="#a5a7ca" stroke-width=".5"/>
<path d="M385 265.5 387.6 266 390.1 266.2 392.8 266.4 395.4 266.5 397.7 266.5 399.2 266.6 399.6 260.9 398 260.8 395.8 260.6 393.3 260.3 390.8 260 388.6 259.7 386.2 259.2z" fill="#f5a5a5" stroke="#f5a5a5" stroke-width=".5"/>
<defs><path id="c18" d="M381.6 200.9 381.4 204.6 381.1 209.9 380.3 215 378.3 219.4 375.8 223.8 373.5 228.1 371.7 232.6 370.2 237 369.4 241.3 369.4 246.1 370.4 250.5 372.7 254.7 376.6 258.5 380.9 261.1 385.6 262.4 390.4 263.1 395.6 263.5 399.4 263.8"/></defs><use href="#c18" class="hl" stroke-width="4.2"/><use href="#c18" class="hl" stroke-width="2"/>
<path d="M378.9 200.8 378.8 202.4 378.7 204.5 378.6 207 378.4 209.6 378.1 212.1 377.6 214.2 376.7 216.1 375.7 218 374.4 220.1 373 222.2 371.6 224.4 370.4 226.8 369.5 229.1 368.6 231.4 367.7 233.7 367 236.1 366.4 238.5 366 240.9 365.9 243.7 366.1 246.4 366.5 249.1 367.2 251.6 368.3 254.1 370 256.8 372.2 259.2 374.6 261.2 377 262.9 379.7 264.2 382.3 265M384.2 201.1 384.1 202.6 384.1 204.7 384 207.3 383.9 210.1 383.5 213 382.9 215.8 382.1 218.4 380.9 220.9 379.7 223.2 378.5 225.4 377.4 227.5 376.6 229.5 375.7 231.6 374.9 233.8 374.1 235.9 373.5 237.9 373 239.8 372.7 241.6 372.7 243.6 372.8 245.7 373.1 247.6 373.6 249.4 374.2 250.9 375.4 252.7 376.9 254.4 378.7 255.9 380.5 257.1 382.2 258 384.1 258.7" fill="none" stroke="#6385ae" stroke-width=".70"/>
<path d="M382.3 265 385 265.5M384.1 258.7 386.2 259.2" fill="none" stroke="#82849f" stroke-width=".70"/>
<path d="M385 265.5 387.6 266 390.1 266.2 392.8 266.4 395.4 266.5 397.7 266.5 399.2 266.6M386.2 259.2 388.6 259.7 390.8 260 393.3 260.3 395.8 260.6 398 260.8 399.6 260.9" fill="none" stroke="#c18282" stroke-width=".70"/>
<path d="M596 243.2 596.6 244.7 597.4 246.8 598.4 249.4 599.5 252.1 600.4 254 601.3 256.1 602.3 258.3 603.2 260.5 604.1 262.6 604.8 264.6 605.6 266.9 606.3 269.3 606.8 271.5 607.3 273.6 607.5 275.1 607.4 278 611.8 278.7 612 275.1 611.7 272.8 611.2 270.5 610.6 268.1 609.9 265.6 609 263.1 608.1 260.9 607.1 258.7 606 256.5 604.9 254.4 603.9 252.4 603 250.5 601.8 247.9 600.6 245.5 599.7 243.4 599 241.9z" fill="#98d88c" stroke="#98d88c" stroke-width=".5"/>
<path d="M607.4 278 606.7 280.8 610.8 282 611.8 278.7z" fill="#d7bea4" stroke="#d7bea4" stroke-width=".5"/>
<path d="M606.7 280.8 606.2 282.7 605.5 284.9 604.8 287.4 604.6 290.2 605 292.9 605.7 295.6 606.7 298.3 607.8 300.9 609 303 610.3 305.2 611.7 307.4 613.2 309.3 614.5 311.1 616.5 313.5 618.4 315.4 619.8 316.7 621.6 314.9 620.4 313.6 618.7 311.7 616.8 309.3 615.7 307.6 614.4 305.6 613.1 303.5 611.9 301.4 611 299.4 610 297 609.2 294.5 608.6 292.2 608.4 290.1 608.7 288.2 609.3 286.1 610.1 284 610.8 282z" fill="#f6b1b1" stroke="#f6b1b1" stroke-width=".5"/>
<defs><path id="c19" d="M597.5 242.5 599 246.1 601.3 251.3 603.1 255.3 605.1 259.6 606.9 263.8 608.4 268.7 609.5 273.2 609.6 278.4 608.2 283.4 606.7 287.8 606.8 292.5 608.3 297.6 610.4 302.2 613.1 306.5 615.7 310.2 619.4 314.5"/></defs><use href="#c19" class="hl" stroke-width="2.5"/><use href="#c19" class="hl" stroke-width="1.2"/>
<path d="M596 243.2 596.6 244.7 597.4 246.8 598.4 249.4 599.5 252.1 600.4 254 601.3 256.1 602.3 258.3 603.2 260.5 604.1 262.6 604.8 264.6 605.6 266.9 606.3 269.3 606.8 271.5 607.3 273.6 607.5 275.1 607.4 278M599 241.9 599.7 243.4 600.6 245.5 601.8 247.9 603 250.5 603.9 252.4 604.9 254.4 606 256.5 607.1 258.7 608.1 260.9 609 263.1 609.9 265.6 610.6 268.1 611.2 270.5 611.7 272.8 612 275.1 611.8 278.7" fill="none" stroke="#82b877" stroke-width=".70"/>
<path d="M607.4 278 606.7 280.8M611.8 278.7 610.8 282" fill="none" stroke="#b7a28c" stroke-width=".70"/>
<path d="M606.7 280.8 606.2 282.7 605.5 284.9 604.8 287.4 604.6 290.2 605 292.9 605.7 295.6 606.7 298.3 607.8 300.9 609 303 610.3 305.2 611.7 307.4 613.2 309.3 614.5 311.1 616.5 313.5 618.4 315.4 619.8 316.7M610.8 282 610.1 284 609.3 286.1 608.7 288.2 608.4 290.1 608.6 292.2 609.2 294.5 610 297 611 299.4 611.9 301.4 613.1 303.5 614.4 305.6 615.7 307.6 616.8 309.3 618.7 311.7 620.4 313.6 621.6 314.9" fill="none" stroke="#d29797" stroke-width=".70"/>
<path d="M730.1 223.6 728.3 223.8 725.7 224 726 226.4 728.6 226.1 730.4 225.9z" fill="#dab2e3" stroke="#dab2e3" stroke-width=".5"/>
<path d="M725.7 224 722.7 224.3 723.2 226.9 726 226.4z" fill="#c9c1cb" stroke="#c9c1cb" stroke-width=".5"/>
<path d="M722.7 224.3 719.8 224.9 717.7 225.6 715.5 226.4 713.4 227.4 711.3 228.4 709.1 229.6 706.9 230.8 704.7 232.1 702.5 233.5 700.3 235 698.2 236.4 696.2 237.8 694.2 239.3 692.3 240.8 690.6 242.2 688.9 243.5 686.8 245.4 685 246.9 683.3 248.3 681.6 249.8 679.8 251.4 684.2 257 686.1 255.7 688.3 254.3 690.1 252.6 691.8 251 693.9 249.1 695.3 247.7 696.9 246.1 698.6 244.5 700.4 242.8 702.2 241.2 703.9 239.5 705.8 237.8 707.6 236.1 709.5 234.4 711.3 233 713.2 231.7 715 230.5 716.9 229.4 718.8 228.4 720.6 227.6 723.2 226.9z" fill="#a7de9c" stroke="#a7de9c" stroke-width=".5"/>
<path d="M679.8 251.4 677.9 253.1 676.2 255.2 674.7 257.3 673.5 259.2 672.2 261.5 671.6 263.1 673.6 264.6 674.9 263.7 676.8 262.2 678.5 261 680.4 259.5 682.4 258.2 684.2 257z" fill="#f7bcbc" stroke="#f7bcbc" stroke-width=".5"/>
<defs><path id="c20" d="M730.2 224.8 725.9 225.2 720.2 226.3 716.2 227.9 712.2 230.1 708.2 232.6 704.1 235.7 700.2 238.8 696.4 241.9 693 245 689.3 248.2 685.8 251.3 682 254.2 678.3 257.4 675.1 260.7 672.6 263.8"/></defs><use href="#c20" class="hl" stroke-width="3.4"/><use href="#c20" class="hl" stroke-width="1.6"/>
<path d="M730.1 223.6 728.3 223.8 725.7 224M730.4 225.9 728.6 226.1 726 226.4" fill="none" stroke="#bc9ac4" stroke-width=".70"/>
<path d="M725.7 224 722.7 224.3M726 226.4 723.2 226.9" fill="none" stroke="#aea7af" stroke-width=".70"/>
<path d="M722.7 224.3 719.8 224.9 717.7 225.6 715.5 226.4 713.4 227.4 711.3 228.4 709.1 229.6 706.9 230.8 704.7 232.1 702.5 233.5 700.3 235 698.2 236.4 696.2 237.8 694.2 239.3 692.3 240.8 690.6 242.2 688.9 243.5 686.8 245.4 685 246.9 683.3 248.3 681.6 249.8 679.8 251.4M723.2 226.9 720.6 227.6 718.8 228.4 716.9 229.4 715 230.5 713.2 231.7 711.3 233 709.5 234.4 707.6 236.1 705.8 237.8 703.9 239.5 702.2 241.2 700.4 242.8 698.6 244.5 696.9 246.1 695.3 247.7 693.9 249.1 691.8 251 690.1 252.6 688.3 254.3 686.1 255.7 684.2 257" fill="none" stroke="#90c087" stroke-width=".70"/>
<path d="M679.8 251.4 677.9 253.1 676.2 255.2 674.7 257.3 673.5 259.2 672.2 261.5 671.6 263.1M684.2 257 682.4 258.2 680.4 259.5 678.5 261 676.8 262.2 674.9 263.7 673.6 264.6" fill="none" stroke="#d5a2a2" stroke-width=".70"/>
<path d="M678.3 285.1 678.9 282.5 679.5 280 680.1 277.4 681 274.9 682.1 272.5 683.5 270.2 685 268.1 686.8 266 688.6 264.2 690.7 262.5 693 261.1 695.4 260 697.9 259.2 700.5 258.7 703.2 258.7 705.7 259.4 708 260.7 710.3 262.1 712.4 263.6 714.6 265.2 716.7 266.8 718.8 268.5 720.9 270.1 723.1 271.6 725.3 273 727.5 274.4 729.8 275.8 732.1 277.1 734.4 278.4 736.8 279.6 739.2 280.8 741.6 281.8 744.1 282.8 746.5 283.9 739 303.3 737.7 301.6 736.3 300 734.9 298.4 733.4 296.9 731.9 295.4 730.3 293.9 728.7 292.6 727.1 291.2 725.4 289.8 723.7 288.5 722 287.2 720.3 286 718.5 284.8 716.7 283.7 714.8 282.7 713 281.7 711.1 280.8 709.1 279.9 707.1 279.1 705.1 278.4 703 277.9 701 277.5 698.9 277.2 696.7 277 694.6 277 692.5 277.4 690.5 278.1 688.6 279 686.7 280.1 685.1 281.4 683.5 282.9 682.2 284.5 681.1 286.3 680.2 288.3z" fill="url(#g21)" stroke="url(#g21)" stroke-width=".6"/>
<path d="M678.3 285.1 678.9 282.5 679.5 280 680.1 277.4 681 274.9 682.1 272.5 683.5 270.2 685 268.1 686.8 266 688.6 264.2 690.7 262.5 693 261.1 695.4 260 697.9 259.2 700.5 258.7 703.2 258.7 705.7 259.4 708 260.7 710.3 262.1 712.4 263.6 714.6 265.2 716.7 266.8 718.8 268.5 720.9 270.1 723.1 271.6 725.3 273 727.5 274.4 729.8 275.8 732.1 277.1 734.4 278.4 736.8 279.6 739.2 280.8 741.6 281.8 744.1 282.8 746.5 283.9M680.2 288.3 681.1 286.3 682.2 284.5 683.5 282.9 685.1 281.4 686.7 280.1 688.6 279 690.5 278.1 692.5 277.4 694.6 277 696.7 277 698.9 277.2 701 277.5 703 277.9 705.1 278.4 707.1 279.1 709.1 279.9 711.1 280.8 713 281.7 714.8 282.7 716.7 283.7 718.5 284.8 720.3 286 722 287.2 723.7 288.5 725.4 289.8 727.1 291.2 728.7 292.6 730.3 293.9 731.9 295.4 733.4 296.9 734.9 298.4 736.3 300 737.7 301.6 739 303.3" fill="none" stroke="#308889" stroke-width=".70" stroke-opacity=".75"/>
<path d="M583.5 164.2 584.9 165.5 586.7 167.4 588 169.5 588.6 171.1 589.1 173.2 589.5 175.3 589.6 177.3 589.6 179.7 589.3 182 588.7 184 587.6 186.1 586.2 188.1 584.8 189.9 583 191.8 585 193.9 587 191.9 588.7 190.1 590.4 187.9 591.8 185.4 592.7 182.8 593.2 180.1 593.4 177.2 593.2 174.9 592.8 172.4 592.2 170 591.3 167.7 589.4 165.1 587.2 163.1 585.8 161.8z" fill="#efbce6" stroke="#efbce6" stroke-width=".5"/>
<path d="M583 191.8 581.3 193.3 583 195.5 585 193.9z" fill="#aeb6e3" stroke="#aeb6e3" stroke-width=".5"/>
<path d="M581.3 193.3 579.7 194.6 577.7 196.1 575.7 197.6 573.4 199.4 571.4 201.4 570 203.5 569.1 205.7 568.6 208.2 568.5 211.1 568.8 214.3 569.3 217.3 570.1 220 571.1 222.6 572.6 225.1 574.5 227.4 576.8 229.5 579 231.4 581.2 233.2 583.3 234.9 585.4 236.4 587.8 237.8 590.1 239.1 591.7 240 592.5 238.7 590.9 237.8 588.6 236.4 586.4 234.9 584.4 233.4 582.4 231.7 580.3 229.9 578.2 228 576.1 225.9 574.4 223.8 573.1 221.6 572.2 219.3 571.5 216.8 571 214 570.8 211.1 570.9 208.4 571.3 206.3 572 204.5 573.1 202.8 574.9 201.2 577.1 199.6 579.2 198.2 581.2 196.7 583 195.5z" fill="#8db3e1" stroke="#8db3e1" stroke-width=".5"/>
<path d="M583.5 164.2 584.9 165.5 586.7 167.4 588 169.5 588.6 171.1 589.1 173.2 589.5 175.3 589.6 177.3 589.6 179.7 589.3 182 588.7 184 587.6 186.1 586.2 188.1 584.8 189.9 583 191.8M585.8 161.8 587.2 163.1 589.4 165.1 591.3 167.7 592.2 170 592.8 172.4 593.2 174.9 593.4 177.2 593.2 180.1 592.7 182.8 591.8 185.4 590.4 187.9 588.7 190.1 587 191.9 585 193.9" fill="none" stroke="#c097b9" stroke-width=".70"/>
<path d="M583 191.8 581.3 193.3M585 193.9 583 195.5" fill="none" stroke="#8c92b6" stroke-width=".70"/>
<path d="M581.3 193.3 579.7 194.6 577.7 196.1 575.7 197.6 573.4 199.4 571.4 201.4 570 203.5 569.1 205.7 568.6 208.2 568.5 211.1 568.8 214.3 569.3 217.3 570.1 220 571.1 222.6 572.6 225.1 574.5 227.4 576.8 229.5 579 231.4 581.2 233.2 583.3 234.9 585.4 236.4 587.8 237.8 590.1 239.1 591.7 240M583 195.5 581.2 196.7 579.2 198.2 577.1 199.6 574.9 201.2 573.1 202.8 572 204.5 571.3 206.3 570.9 208.4 570.8 211.1 571 214 571.5 216.8 572.2 219.3 573.1 221.6 574.4 223.8 576.1 225.9 578.2 228 580.3 229.9 582.4 231.7 584.4 233.4 586.4 234.9 588.6 236.4 590.9 237.8 592.5 238.7" fill="none" stroke="#7190b5" stroke-width=".70"/>
<path d="M594.1 267.6 593 268.8 591.4 270.5 589.5 272.6 587.5 274.7 585.6 276.8 584 278.4 581.9 280.4 579.9 282.1 577.9 283.9 576.1 286.1 574.6 288.7 573.4 291.4 572.5 294.1 571.8 296.7 571.2 299.3 570.7 302 570.4 304.7 570.4 307.5 570.8 310.4 571.5 313.2 572.3 315.8 573.1 318.2 574.1 320.9 575.3 323.3 576.4 325.4 577.9 328 582.7 325.3 581.1 322.8 580.2 320.9 579.2 318.8 578.2 316.3 577.5 314.2 576.8 311.8 576.2 309.4 575.9 307.1 575.9 305 576.1 302.7 576.5 300.4 577.1 298 577.6 295.6 578.3 293.1 579.2 290.8 580.2 288.8 581.5 287.1 583.1 285.6 585 283.8 587.2 281.6 588.8 279.7 590.7 277.5 592.6 275.3 594.4 273.2 595.9 271.4 596.9 270.1z" fill="#7da8dd" stroke="#7da8dd" stroke-width=".5"/>
<path d="M577.9 328 579.1 330.2 584.1 327.9 582.7 325.3z" fill="#c87f81" stroke="#c87f81" stroke-width=".5"/>
<path d="M579.1 330.2 580 332.3 580.4 334.8 580.2 336.3 579.9 338.4 579.3 340.5 578.7 342.3 577.7 344.3 576.6 346 575.1 347.5 573.3 348.7 571.1 349.8 568.7 350.7 566.1 351.2 563.3 351.4 560.7 351.6 557.9 351.5 555.5 351.2 552.9 350.9 552.3 356.3 554.8 356.6 557.5 356.9 560.8 357 563.7 356.9 566.9 356.6 570.2 355.9 573.2 354.9 576.1 353.5 578.6 351.7 580.8 349.5 582.5 347.1 583.8 344.4 584.6 342.1 585.2 339.5 585.6 337 585.8 334.5 585.3 330.9 584.1 327.9z" fill="#ee6a54" stroke="#ee6a54" stroke-width=".5"/>
<path d="M552.9 350.9 550.4 350.6 550 356 552.3 356.3z" fill="#a293af" stroke="#a293af" stroke-width=".5"/>
<path d="M550.4 350.6 548.2 350.5 545.8 350.6 543.4 350.7 540.5 350.9 537.5 351.6 535.1 353.1 533.3 355 531.8 357.3 530.7 359.9 529.9 362.7 529.4 365.6 529.4 368.4 529.6 371.2 530 373.5 530.3 375.9 531 378 532 380 535.8 377 534.6 375.8 533.8 374.7 533.1 372.8 532.7 370.7 532.4 368.3 532.4 365.9 533 363.5 533.9 361.2 535 359.2 536.3 357.8 537.8 356.8 539.2 356.3 541.1 356 543.6 356 545.9 356 548.2 355.9 550 356z" fill="#7da8dd" stroke="#7da8dd" stroke-width=".5"/>
<path d="M532 380 533.3 381.8 537.3 378.2 535.8 377z" fill="#a1bdb4" stroke="#a1bdb4" stroke-width=".5"/>
<path d="M533.3 381.8 534.5 383.4 536.3 385.4 537.8 386.9 539.7 388.6 541.6 390.4 543.5 392.2 545.4 393.8 547.3 395.3 549.1 396.8 550.8 398.3 553.1 400.4 555.4 402.6 557 404.2 562 399.3 560.5 397.6 558.2 395.2 555.8 392.8 553.9 391.1 552 389.5 550.1 388 548.2 386.4 546.1 384.9 544 383.4 542 381.9 540.5 380.8 538.6 379.3 537.3 378.2z" fill="#ebe861" stroke="#ebe861" stroke-width=".5"/>
<defs><path id="c22" d="M595.5 268.8 592.9 271.9 589.1 276.1 585.6 280 581.5 283.8 578.1 287.5 575.9 292.3 574.4 297.4 573.4 302.4 573.2 307.3 574.1 312.5 575.7 317.3 577.7 322.1 580.3 326.7 582.7 331.6 582.9 336.7 582 341.3 580.1 345.7 576.9 349.6 572.1 352.3 566.5 353.9 560.7 354.3 555.2 353.9 550.2 353.3 545.8 353.3 540.8 353.4 536.5 355 533.4 358.3 531.4 363.1 530.9 368.3 531.6 373.2 532.8 376.9 535.3 380 538.4 383.1 541.8 386 545.8 389.3 549.6 392.4 553.3 395.5 557.9 400.1"/></defs><use href="#c22" class="hl" stroke-width="3.5"/><use href="#c22" class="hl" stroke-width="1.7"/>
<path d="M594.1 267.6 593 268.8 591.4 270.5 589.5 272.6 587.5 274.7 585.6 276.8 584 278.4 581.9 280.4 579.9 282.1 577.9 283.9 576.1 286.1 574.6 288.7 573.4 291.4 572.5 294.1 571.8 296.7 571.2 299.3 570.7 302 570.4 304.7 570.4 307.5 570.8 310.4 571.5 313.2 572.3 315.8 573.1 318.2 574.1 320.9 575.3 323.3 576.4 325.4 577.9 328M596.9 270.1 595.9 271.4 594.4 273.2 592.6 275.3 590.7 277.5 588.8 279.7 587.2 281.6 585 283.8 583.1 285.6 581.5 287.1 580.2 288.8 579.2 290.8 578.3 293.1 577.6 295.6 577.1 298 576.5 300.4 576.1 302.7 575.9 305 575.9 307.1 576.2 309.4 576.8 311.8 577.5 314.2 578.2 316.3 579.2 318.8 580.2 320.9 581.1 322.8 582.7 325.3" fill="none" stroke="#6689b4" stroke-width=".70"/>
<path d="M577.9 328 579.1 330.2M582.7 325.3 584.1 327.9" fill="none" stroke="#a36869" stroke-width=".70"/>
<path d="M579.1 330.2 580 332.3 580.4 334.8 580.2 336.3 579.9 338.4 579.3 340.5 578.7 342.3 577.7 344.3 576.6 346 575.1 347.5 573.3 348.7 571.1 349.8 568.7 350.7 566.1 351.2 563.3 351.4 560.7 351.6 557.9 351.5 555.5 351.2 552.9 350.9M584.1 327.9 585.3 330.9 585.8 334.5 585.6 337 585.2 339.5 584.6 342.1 583.8 344.4 582.5 347.1 580.8 349.5 578.6 351.7 576.1 353.5 573.2 354.9 570.2 355.9 566.9 356.6 563.7 356.9 560.8 357 557.5 356.9 554.8 356.6 552.3 356.3" fill="none" stroke="#c25644" stroke-width=".70"/>
<path d="M552.9 350.9 550.4 350.6M552.3 356.3 550 356" fill="none" stroke="#84788f" stroke-width=".70"/>
<path d="M550.4 350.6 548.2 350.5 545.8 350.6 543.4 350.7 540.5 350.9 537.5 351.6 535.1 353.1 533.3 355 531.8 357.3 530.7 359.9 529.9 362.7 529.4 365.6 529.4 368.4 529.6 371.2 530 373.5 530.3 375.9 531 378 532 380M550 356 548.2 355.9 545.9 356 543.6 356 541.1 356 539.2 356.3 537.8 356.8 536.3 357.8 535 359.2 533.9 361.2 533 363.5 532.4 365.9 532.4 368.3 532.7 370.7 533.1 372.8 533.8 374.7 534.6 375.8 535.8 377" fill="none" stroke="#6689b4" stroke-width=".70"/>
<path d="M532 380 533.3 381.8M535.8 377 537.3 378.2" fill="none" stroke="#839a93" stroke-width=".70"/>
<path d="M533.3 381.8 534.5 383.4 536.3 385.4 537.8 386.9 539.7 388.6 541.6 390.4 543.5 392.2 545.4 393.8 547.3 395.3 549.1 396.8 550.8 398.3 553.1 400.4 555.4 402.6 557 404.2M537.3 378.2 538.6 379.3 540.5 380.8 542 381.9 544 383.4 546.1 384.9 548.2 386.4 550.1 388 552 389.5 553.9 391.1 555.8 392.8 558.2 395.2 560.5 397.6 562 399.3" fill="none" stroke="#c0bd4f" stroke-width=".70"/>
<path d="M576.1 413.5 578.7 413.8 581.4 414.6 582.2 415.3 583.5 416.7 584.7 418.2 586.2 420.3 587.5 422.4 588.9 424.3 594.6 419.7 593.4 418.2 591.9 416.2 590 413.7 588.2 412 586.2 410.3 583.3 408.7 579.2 408.3 576.2 408.5z" fill="#6c9dd8" stroke="#6c9dd8" stroke-width=".5"/>
<path d="M588.9 424.3 590.1 425.8 595.8 421 594.6 419.7z" fill="#aa92d6" stroke="#aa92d6" stroke-width=".5"/>
<path d="M590.1 425.8 590.7 426.5 591.6 427.9 592.5 429.5 593.7 431.7 595.1 434.2 596.6 436.6 598.1 438.9 599.6 441.2 601.4 443.6 603.2 445.8 605.2 447.8 607.2 449.5 609.2 451.1 611.3 452.6 613.6 453.9 616 455.3 618.5 456.5 621.2 457.4 624.5 457.8 627.5 457.6 629.5 457.3 629.7 453.6 627.8 453.1 625.4 452.5 623.1 451.5 621.4 450.6 619.5 449.4 617.5 447.9 615.5 446.4 613.7 445.1 611.9 443.7 610.3 442.3 608.7 440.8 607.2 439 605.8 437 604.3 434.8 602.9 432.6 601.6 430.4 600.3 428.1 599 425.8 597.9 423.9 596.7 422.1 595.8 421z" fill="#c88cd5" stroke="#c88cd5" stroke-width=".5"/>
<defs><path id="c23" d="M576.1 411 582.4 411.6 585.9 414.4 589 418.2 591.8 422 593.7 424.3 595.8 427.6 598.3 432.3 601.2 436.8 604.3 441.3 607.7 445 611.4 448.1 615.5 450.9 620 453.5 625 455.1 629.6 455.5"/></defs><use href="#c23" class="hl" stroke-width="4.5"/><use href="#c23" class="hl" stroke-width="2.2"/>
<path d="M576.1 413.5 578.7 413.8 581.4 414.6 582.2 415.3 583.5 416.7 584.7 418.2 586.2 420.3 587.5 422.4 588.9 424.3M576.2 408.5 579.2 408.3 583.3 408.7 586.2 410.3 588.2 412 590 413.7 591.9 416.2 593.4 418.2 594.6 419.7" fill="none" stroke="#547aa7" stroke-width=".70"/>
<path d="M588.9 424.3 590.1 425.8M594.6 419.7 595.8 421" fill="none" stroke="#8471a6" stroke-width=".70"/>
<path d="M590.1 425.8 590.7 426.5 591.6 427.9 592.5 429.5 593.7 431.7 595.1 434.2 596.6 436.6 598.1 438.9 599.6 441.2 601.4 443.6 603.2 445.8 605.2 447.8 607.2 449.5 609.2 451.1 611.3 452.6 613.6 453.9 616 455.3 618.5 456.5 621.2 457.4 624.5 457.8 627.5 457.6 629.5 457.3M595.8 421 596.7 422.1 597.9 423.9 599 425.8 600.3 428.1 601.6 430.4 602.9 432.6 604.3 434.8 605.8 437 607.2 439 608.7 440.8 610.3 442.3 611.9 443.7 613.7 445.1 615.5 446.4 617.5 447.9 619.5 449.4 621.4 450.6 623.1 451.5 625.4 452.5 627.8 453.1 629.7 453.6" fill="none" stroke="#9b6ca5" stroke-width=".70"/>
<path d="M631 456.5 633.5 455.2 630.1 451.6 628.6 453.7z" fill="#95b0d3" stroke="#95b0d3" stroke-width=".5"/>
<path d="M633.5 455.2 636.7 452.9 632.3 448.6 630.1 451.6z" fill="#8dadd6" stroke="#8dadd6" stroke-width=".5"/>
<path d="M636.7 452.9 638.4 451.3 640.2 449.5 641.9 447.5 643.7 445.6 645.4 443.4 647 441.2 648.6 439 650.2 436.9 651.8 434.6 653.5 432.3 655 430.1 656.4 428.3 658.4 425.5 660 423.2 661.4 421.1 655.1 416.9 653.8 418.7 652.1 420.8 650 423.5 648.6 425.5 647 427.7 645.3 430 643.7 432.3 642.2 434.6 640.7 436.8 639.2 439 637.8 441 636.4 443.1 634.9 445.1 633.5 447 632.3 448.6z" fill="#7da8dd" stroke="#7da8dd" stroke-width=".5"/>
<path d="M661.4 421.1 662.4 419.4 656.3 415 655.1 416.9z" fill="#85c59c" stroke="#85c59c" stroke-width=".5"/>
<path d="M662.4 419.4 663.7 417.7 665.2 415.2 666.1 413.1 667.1 410.8 668 408.1 668.7 405.3 668.6 401.8 668.2 398.4 667.4 395.4 666.1 392.5 664.5 389.9 662.8 387.6 660.8 384.4 657.7 381.9 653.8 381.2 649.9 381.5 647.8 381.9 645.6 382.5 643.2 383.1 640.8 383.9 638.4 384.7 635.8 385.6 633.2 386.6 630.5 387.7 628.3 388.9 626.2 390.2 624.1 391.6 622.2 392.9 620.4 394.1 618.1 395.9 616.2 397.5 614.4 399.1 611.8 401.3 614.5 404.9 617.4 403.1 619.3 401.9 621.4 400.7 623.8 399.3 625.5 398.4 627.5 397.4 629.6 396.3 631.7 395.3 633.6 394.5 636 393.5 638.4 392.6 640.8 391.7 643.2 390.9 645.4 390.1 647.6 389.4 649.6 388.8 651.4 388.3 654.4 387.1 656.1 386.6 657.7 387.5 659.7 389.7 660.4 391.8 661 394.3 661.3 396.8 661.6 399.3 661.6 401.9 661.3 404.3 660.9 406 660.1 408.1 659.3 410.2 658.6 411.7 657.5 413.6 656.3 415z" fill="#89d37b" stroke="#89d37b" stroke-width=".5"/>
<path d="M611.8 401.3 609.7 403.2 612.2 406.3 614.5 404.9z" fill="#81b6bc" stroke="#81b6bc" stroke-width=".5"/>
<path d="M609.7 403.2 608.6 404.2 607.4 405.1 605.7 405.9 603.7 406.8 601.6 407.4 599.2 407.7 596.5 407.8 593.7 407.6 591.8 407.4 589.6 407 587.5 406.5 585.4 406.1 581.7 405.5 579.1 405.1 578.2 409.5 580.7 410.1 584.3 410.9 586.2 411.5 588.4 412.1 590.8 412.7 593.3 413.1 596.6 413.1 599.8 412.8 602.9 412.1 605.6 410.9 607.8 409.5 609.4 408.2 610.9 407.3 612.2 406.3z" fill="#7da8dd" stroke="#7da8dd" stroke-width=".5"/>
<defs><path id="c24" d="M629.8 455.1 634.5 450.7 637.5 447.3 640.7 443.3 643.9 439 647 434.6 650.2 430 653.2 425.9 656.9 420.9 659.4 417.2 661.9 413.5 663.6 409.4 665 404.8 664.9 398.9 663.5 393.4 661.2 388.6 656.9 384.3 650.7 384.9 646.6 386 642 387.4 637.1 389.1 632 391.1 627.9 393.3 623.9 395.6 619.7 398.3 615.9 401.1 610.9 404.8 608.4 406.6 604.6 408.9 599.5 410.2 593.5 410.4 589 409.6 584.8 408.5 578.6 407.3"/></defs><use href="#c24" class="hl" stroke-width="4.1"/><use href="#c24" class="hl" stroke-width="2"/>
<path d="M631 456.5 633.5 455.2M628.6 453.7 630.1 451.6" fill="none" stroke="#768ba6" stroke-width=".70"/>
<path d="M633.5 455.2 636.7 452.9M630.1 451.6 632.3 448.6" fill="none" stroke="#6f88a9" stroke-width=".70"/>
<path d="M636.7 452.9 638.4 451.3 640.2 449.5 641.9 447.5 643.7 445.6 645.4 443.4 647 441.2 648.6 439 650.2 436.9 651.8 434.6 653.5 432.3 655 430.1 656.4 428.3 658.4 425.5 660 423.2 661.4 421.1M632.3 448.6 633.5 447 634.9 445.1 636.4 443.1 637.8 441 639.2 439 640.7 436.8 642.2 434.6 643.7 432.3 645.3 430 647 427.7 648.6 425.5 650 423.5 652.1 420.8 653.8 418.7 655.1 416.9" fill="none" stroke="#6385ae" stroke-width=".70"/>
<path d="M661.4 421.1 662.4 419.4M655.1 416.9 656.3 415" fill="none" stroke="#699b7b" stroke-width=".70"/>
<path d="M662.4 419.4 663.7 417.7 665.2 415.2 666.1 413.1 667.1 410.8 668 408.1 668.7 405.3 668.6 401.8 668.2 398.4 667.4 395.4 666.1 392.5 664.5 389.9 662.8 387.6 660.8 384.4 657.7 381.9 653.8 381.2 649.9 381.5 647.8 381.9 645.6 382.5 643.2 383.1 640.8 383.9 638.4 384.7 635.8 385.6 633.2 386.6 630.5 387.7 628.3 388.9 626.2 390.2 624.1 391.6 622.2 392.9 620.4 394.1 618.1 395.9 616.2 397.5 614.4 399.1 611.8 401.3M656.3 415 657.5 413.6 658.6 411.7 659.3 410.2 660.1 408.1 660.9 406 661.3 404.3 661.6 401.9 661.6 399.3 661.3 396.8 661 394.3 660.4 391.8 659.7 389.7 657.7 387.5 656.1 386.6 654.4 387.1 651.4 388.3 649.6 388.8 647.6 389.4 645.4 390.1 643.2 390.9 640.8 391.7 638.4 392.6 636 393.5 633.6 394.5 631.7 395.3 629.6 396.3 627.5 397.4 625.5 398.4 623.8 399.3 621.4 400.7 619.3 401.9 617.4 403.1 614.5 404.9" fill="none" stroke="#6ca661" stroke-width=".70"/>
<path d="M611.8 401.3 609.7 403.2M614.5 404.9 612.2 406.3" fill="none" stroke="#669094" stroke-width=".70"/>
<path d="M609.7 403.2 608.6 404.2 607.4 405.1 605.7 405.9 603.7 406.8 601.6 407.4 599.2 407.7 596.5 407.8 593.7 407.6 591.8 407.4 589.6 407 587.5 406.5 585.4 406.1 581.7 405.5 579.1 405.1M612.2 406.3 610.9 407.3 609.4 408.2 607.8 409.5 605.6 410.9 602.9 412.1 599.8 412.8 596.6 413.1 593.3 413.1 590.8 412.7 588.4 412.1 586.2 411.5 584.3 410.9 580.7 410.1 578.2 409.5" fill="none" stroke="#6385ae" stroke-width=".70"/>
<path d="M555 403 552.3 403.8 548.7 404.9 546.5 405.8 544.3 406.8 542 408.4 540.2 410 538.4 411.9 536.8 414 535.3 416.3 534 418.8 533 421.4 532.1 424.1 531.4 426.8 530.8 429.4 530.3 432 530.1 434.7 530.1 437.3 530.3 439.8 530.9 442.1 531.6 444.4 532.5 446.7 533.5 449.1 534.8 451.5 536.1 453.8 537.3 456 539.1 458.5 540.8 460.6 542.1 462.4 543.4 464.4 548.2 461.5 546.6 459.1 544.9 457.2 543.1 455.3 541.4 453.1 540.1 451.3 538.7 449.2 537.4 447.1 536.3 445 535.4 443 534.7 441 534.1 439 533.8 437 533.8 434.8 534 432.5 534.4 430.1 535 427.7 535.6 425.2 536.5 422.7 537.4 420.3 538.5 418.2 539.8 416.2 541.3 414.3 542.8 412.6 544.3 411.3 546.1 410 548 409.2 549.9 408.5 553.3 407.4 556 406.6z" fill="#5c92d4" stroke="#5c92d4" stroke-width=".5"/>
<path d="M543.4 464.4 544.7 466.6 549.5 463.6 548.2 461.5z" fill="#67b683" stroke="#67b683" stroke-width=".5"/>
<path d="M544.7 466.6 546.2 469.3 547.9 472.2 549 474.5 550.3 477 551.5 479.5 552.8 481.7 553.9 483.7 554.9 485.4 556.2 487.7 557.2 489.3 560.8 488.1 560.5 486.1 559.9 483.3 559.1 481.2 558.1 479 557.1 476.7 555.9 474.3 554.6 471.7 553.3 469.2 551.3 466.1 549.5 463.6z" fill="#6cc85a" stroke="#6cc85a" stroke-width=".5"/>
<defs><path id="c25" d="M555.5 404.8 549.3 406.7 545.2 408.4 541.5 411.3 538.3 415.1 535.7 419.6 533.9 424.7 532.6 429.7 531.9 434.7 532.2 439.4 533.5 443.7 535.5 448.1 538.1 452.5 541.1 456.9 544.3 460.7 547.1 465.1 550.6 470.7 553.1 475.7 555.4 480.4 557.4 484.3 559 488.7"/></defs><use href="#c25" class="hl" stroke-width="3"/><use href="#c25" class="hl" stroke-width="1.4"/>
<path d="M555 403 552.3 403.8 548.7 404.9 546.5 405.8 544.3 406.8 542 408.4 540.2 410 538.4 411.9 536.8 414 535.3 416.3 534 418.8 533 421.4 532.1 424.1 531.4 426.8 530.8 429.4 530.3 432 530.1 434.7 530.1 437.3 530.3 439.8 530.9 442.1 531.6 444.4 532.5 446.7 533.5 449.1 534.8 451.5 536.1 453.8 537.3 456 539.1 458.5 540.8 460.6 542.1 462.4 543.4 464.4M556 406.6 553.3 407.4 549.9 408.5 548 409.2 546.1 410 544.3 411.3 542.8 412.6 541.3 414.3 539.8 416.2 538.5 418.2 537.4 420.3 536.5 422.7 535.6 425.2 535 427.7 534.4 430.1 534 432.5 533.8 434.8 533.8 437 534.1 439 534.7 441 535.4 443 536.3 445 537.4 447.1 538.7 449.2 540.1 451.3 541.4 453.1 543.1 455.3 544.9 457.2 546.6 459.1 548.2 461.5" fill="none" stroke="#466fa1" stroke-width=".70"/>
<path d="M543.4 464.4 544.7 466.6M548.2 461.5 549.5 463.6" fill="none" stroke="#4e8a64" stroke-width=".70"/>
<path d="M544.7 466.6 546.2 469.3 547.9 472.2 549 474.5 550.3 477 551.5 479.5 552.8 481.7 553.9 483.7 554.9 485.4 556.2 487.7 557.2 489.3M549.5 463.6 551.3 466.1 553.3 469.2 554.6 471.7 555.9 474.3 557.1 476.7 558.1 479 559.1 481.2 559.9 483.3 560.5 486.1 560.8 488.1" fill="none" stroke="#529844" stroke-width=".70"/>
<path d="M580.1 409.8 582.2 410.2 585.4 410.8 588.9 411.3 591.2 411.5 593.8 411.6 596.4 411.7 598.6 411.8 600.1 411.9 600.3 407.7 598.8 407.6 596.6 407.5 594 407.4 591.5 407.3 589.3 407.1 585.9 406.8 582.8 406.4 580.7 406.1z" fill="#6c9dd8" stroke="#6c9dd8" stroke-width=".5"/>
<defs><path id="c26" d="M580.4 408 585.7 408.8 591.3 409.4 596.5 409.6 600.2 409.8"/></defs><use href="#c26" class="hl" stroke-width="2.7"/><use href="#c26" class="hl" stroke-width="1.3"/>
<path d="M580.1 409.8 582.2 410.2 585.4 410.8 588.9 411.3 591.2 411.5 593.8 411.6 596.4 411.7 598.6 411.8 600.1 411.9M580.7 406.1 582.8 406.4 585.9 406.8 589.3 407.1 591.5 407.3 594 407.4 596.6 407.5 598.8 407.6 600.3 407.7" fill="none" stroke="#547aa7" stroke-width=".70"/>
<path d="M407.3 85.4 408 83.8 403 82.4 402.7 84.1z" fill="#6c9dd8" stroke="#6c9dd8" stroke-width=".5"/>
<path d="M408 83.8 408.8 81.5 409.7 78.7 404.2 77.1 403.6 79.9 403 82.4z" fill="#7da8dd" stroke="#7da8dd" stroke-width=".5"/>
<path d="M409.7 78.7 410.7 75.8 404.9 74.2 404.2 77.1z" fill="#98d88c" stroke="#98d88c" stroke-width=".5"/>
<path d="M410.7 75.8 411.3 73.8 412 71.7 412.6 69.5 413.3 67.2 414 65 414.8 62.9 415.5 60.7 416.2 58.5 416.9 56.3 417.7 54.1 418.4 52.2 419.1 50.5 420.1 48.2 421.1 46.4 422.1 44.8 422.8 43.8 425 42.2 422.1 37.3 419.1 39.5 417.4 41.3 416.1 43.2 414.7 45.3 413.4 47.8 412.5 49.7 411.6 51.8 410.8 54 409.9 56.3 409.1 58.6 408.4 60.8 407.7 63.1 407.1 65.5 406.5 67.8 405.9 70 405.4 72.2 404.9 74.2z" fill="#a7de9c" stroke="#a7de9c" stroke-width=".5"/>
<path d="M425 42.2 426.8 41.4 424.5 36.3 422.1 37.3z" fill="#d9af8b" stroke="#d9af8b" stroke-width=".5"/>
<defs><path id="c27" d="M405 84.8 406.2 80.7 407.8 75 409 70.9 410.2 66.3 411.6 61.9 413.1 57.4 414.7 53 416.3 49.1 418.6 44.8 420.9 41.6 425.6 38.8"/></defs><use href="#c27" class="hl" stroke-width="4"/><use href="#c27" class="hl" stroke-width="1.9"/>
<path d="M407.3 85.4 408 83.8M402.7 84.1 403 82.4" fill="none" stroke="#5a82b3" stroke-width=".70"/>
<path d="M408 83.8 408.8 81.5 409.7 78.7M403 82.4 403.6 79.9 404.2 77.1" fill="none" stroke="#698dba" stroke-width=".70"/>
<path d="M409.7 78.7 410.7 75.8M404.2 77.1 404.9 74.2" fill="none" stroke="#82b877" stroke-width=".70"/>
<path d="M410.7 75.8 411.3 73.8 412 71.7 412.6 69.5 413.3 67.2 414 65 414.8 62.9 415.5 60.7 416.2 58.5 416.9 56.3 417.7 54.1 418.4 52.2 419.1 50.5 420.1 48.2 421.1 46.4 422.1 44.8 422.8 43.8 425 42.2M404.9 74.2 405.4 72.2 405.9 70 406.5 67.8 407.1 65.5 407.7 63.1 408.4 60.8 409.1 58.6 409.9 56.3 410.8 54 411.6 51.8 412.5 49.7 413.4 47.8 414.7 45.3 416.1 43.2 417.4 41.3 419.1 39.5 422.1 37.3" fill="none" stroke="#90c087" stroke-width=".70"/>
<path d="M425 42.2 426.8 41.4M422.1 37.3 424.5 36.3" fill="none" stroke="#bb9778" stroke-width=".70"/>
<path d="M269.5 126.3 268.1 124.7 265.9 121.7 264.8 120.1 263.6 118.2 262.3 116.2 261.1 114 260.1 111.8 259.4 109.8 258.7 107.7 258.1 105.5 257.5 103.3 257.1 101.2 256.9 99.2 256.7 96.9 256.7 94.7 256.9 92.6 253 92.2 252.8 94.6 252.9 97.1 253.1 99.6 253.4 101.8 253.9 104.1 254.4 106.5 255.1 108.8 255.8 111.1 256.6 113.2 257.8 115.7 259.1 118 260.4 120.2 261.7 122.2 262.9 123.9 265.2 126.9 266.8 128.7z" fill="#ea5230" stroke="#ea5230" stroke-width=".5"/>
<path d="M256.9 92.6 257.3 90.7 257.9 88.8 258.8 87.1 259.9 85.3 261.3 83.7 262.7 82.2 264.3 80.9 266.1 79.7 268.2 78.5 270.4 77.5 272.7 76.7 274.7 76.2 276.7 75.8 278.7 75.6 280.7 75.5 282.6 75.6 284.3 75.9 286.2 76.4 287.9 77.1 289.8 78.1 291.4 79.1 293.1 80.2 294.6 81.5 299.3 75.7 297.6 74.2 295.4 72.8 293.4 71.6 291.2 70.4 288.6 69.3 285.7 68.5 283.2 68.2 280.7 68.2 278.1 68.3 275.4 68.7 272.8 69.3 270.2 70.4 267.6 71.7 265.1 73.2 262.8 74.8 260.7 76.6 258.9 78.5 257.3 80.6 255.9 82.8 254.8 85.1 254 87.4 253.3 89.8 253 92.2z" fill="#f3893f" stroke="#f3893f" stroke-width=".5"/>
<path d="M294.6 81.5 296.8 83.2 298.6 84.6 300.6 86 302.9 87.5 305.2 89.1 307.5 90.4 309.8 91.7 312.2 93 314.7 94.1 317.2 95.2 319.8 95.9 322.8 96.3 325.7 96.3 328.5 95.9 331.2 95 333.7 93.7 336 92 337.9 90.1 339.7 88 341.2 85.7 342.4 83.3 343.4 80.9 344.3 78.8 345.2 76.3 345.8 74.3 340.6 72.5 340.1 74.7 339.4 76.9 338.5 78.8 337.5 80.9 336.5 82.9 335.3 84.5 333.8 85.9 332.2 87.1 330.5 88.1 328.8 88.7 327.2 89.1 325.4 89.2 323.5 89 321.4 88.6 319.7 88.1 317.7 87.3 315.6 86.3 313.4 85.1 311.2 83.9 309.2 82.7 307.1 81.3 305 79.9 303 78.4 301.3 77.3 299.3 75.7z" fill="#5c92d4" stroke="#5c92d4" stroke-width=".5"/>
<path d="M345.8 74.3 346.6 72.5 347.9 70.4 349.4 68.5 350.8 67.4 352.3 66.7 354.1 66.3 355.7 66.3 356.7 66.7 358.1 67.5 359.7 68.7 361.3 70 362.8 71.7 364.4 73.9 366 76.1 367.4 78 369 80.2 374.7 76 373.2 73.9 371.8 72 370.2 69.6 368.3 67.2 366.2 65 364.2 63.1 362 61.5 359.6 60.2 356.8 59.3 353.2 59.3 349.8 60.3 346.8 62 344.4 64.5 342.8 67.3 341.5 70 340.6 72.5z" fill="#c27fd0" stroke="#c27fd0" stroke-width=".5"/>
<path d="M369 80.2 370.7 82.5 376.3 78 374.7 76z" fill="#7e8cd3" stroke="#7e8cd3" stroke-width=".5"/>
<path d="M370.7 82.5 372.2 84.3 374 86.5 376.1 88.8 378.4 90.9 381 92.6 383.7 94.1 386.5 95.3 389.5 96.1 393.1 96.2 396.6 95.4 399.9 93.9 402.7 91.5 405 88.8 406.5 86.9 402.8 83.7 401.2 85.4 399.1 87.6 397 89.1 395 89.6 392.8 89.8 390.5 89.5 388.9 88.9 386.8 88 384.7 86.7 382.8 85.3 381.1 83.8 379.4 81.8 377.7 79.8 376.3 78z" fill="#5c92d4" stroke="#5c92d4" stroke-width=".5"/>
<defs><path id="c28" d="M268.1 127.5 264.4 122.8 262 119.2 259.4 114.8 257.6 110.5 256.3 106 255.3 101.5 254.8 97 255 92.4 255.9 88.1 257.9 84.1 260.8 80.4 264.5 77.2 269 74.6 273.8 72.8 278.4 71.9 282.9 71.9 287.4 72.8 291.6 74.9 295.3 77.2 299.1 80.3 302.8 82.9 307.2 85.9 311.6 88.4 316.2 90.7 320.6 92.3 325.5 92.7 330 91.9 334.1 89.6 337.5 86.3 340 82.1 341.8 77.8 343.2 73.4 345.3 68.9 348.8 64.7 353.6 62.8 358.1 63.4 361.9 65.9 365.5 69.4 368.9 74 371.9 78.1 375 82 378.6 86.3 382.8 89.7 387.7 92.1 393 93 398.4 91.5 403.1 87.1"/></defs><use href="#c28" class="hl" stroke-width="4"/><use href="#c28" class="hl" stroke-width="2"/>
<path d="M269.5 126.3 268.1 124.7 265.9 121.7 264.8 120.1 263.6 118.2 262.3 116.2 261.1 114 260.1 111.8 259.4 109.8 258.7 107.7 258.1 105.5 257.5 103.3 257.1 101.2 256.9 99.2 256.7 96.9 256.7 94.7 256.9 92.6M266.8 128.7 265.2 126.9 262.9 123.9 261.7 122.2 260.4 120.2 259.1 118 257.8 115.7 256.6 113.2 255.8 111.1 255.1 108.8 254.4 106.5 253.9 104.1 253.4 101.8 253.1 99.6 252.9 97.1 252.8 94.6 253 92.2" fill="none" stroke="#9d3720" stroke-width=".70"/>
<path d="M256.9 92.6 257.3 90.7 257.9 88.8 258.8 87.1 259.9 85.3 261.3 83.7 262.7 82.2 264.3 80.9 266.1 79.7 268.2 78.5 270.4 77.5 272.7 76.7 274.7 76.2 276.7 75.8 278.7 75.6 280.7 75.5 282.6 75.6 284.3 75.9 286.2 76.4 287.9 77.1 289.8 78.1 291.4 79.1 293.1 80.2 294.6 81.5M253 92.2 253.3 89.8 254 87.4 254.8 85.1 255.9 82.8 257.3 80.6 258.9 78.5 260.7 76.6 262.8 74.8 265.1 73.2 267.6 71.7 270.2 70.4 272.8 69.3 275.4 68.7 278.1 68.3 280.7 68.2 283.2 68.2 285.7 68.5 288.6 69.3 291.2 70.4 293.4 71.6 295.4 72.8 297.6 74.2 299.3 75.7" fill="none" stroke="#a35c2a" stroke-width=".70"/>
<path d="M294.6 81.5 296.8 83.2 298.6 84.6 300.6 86 302.9 87.5 305.2 89.1 307.5 90.4 309.8 91.7 312.2 93 314.7 94.1 317.2 95.2 319.8 95.9 322.8 96.3 325.7 96.3 328.5 95.9 331.2 95 333.7 93.7 336 92 337.9 90.1 339.7 88 341.2 85.7 342.4 83.3 343.4 80.9 344.3 78.8 345.2 76.3 345.8 74.3M299.3 75.7 301.3 77.3 303 78.4 305 79.9 307.1 81.3 309.2 82.7 311.2 83.9 313.4 85.1 315.6 86.3 317.7 87.3 319.7 88.1 321.4 88.6 323.5 89 325.4 89.2 327.2 89.1 328.8 88.7 330.5 88.1 332.2 87.1 333.8 85.9 335.3 84.5 336.5 82.9 337.5 80.9 338.5 78.8 339.4 76.9 340.1 74.7 340.6 72.5" fill="none" stroke="#3e628e" stroke-width=".70"/>
<path d="M345.8 74.3 346.6 72.5 347.9 70.4 349.4 68.5 350.8 67.4 352.3 66.7 354.1 66.3 355.7 66.3 356.7 66.7 358.1 67.5 359.7 68.7 361.3 70 362.8 71.7 364.4 73.9 366 76.1 367.4 78 369 80.2M340.6 72.5 341.5 70 342.8 67.3 344.4 64.5 346.8 62 349.8 60.3 353.2 59.3 356.8 59.3 359.6 60.2 362 61.5 364.2 63.1 366.2 65 368.3 67.2 370.2 69.6 371.8 72 373.2 73.9 374.7 76" fill="none" stroke="#82558b" stroke-width=".70"/>
<path d="M369 80.2 370.7 82.5M374.7 76 376.3 78" fill="none" stroke="#545e8d" stroke-width=".70"/>
<path d="M370.7 82.5 372.2 84.3 374 86.5 376.1 88.8 378.4 90.9 381 92.6 383.7 94.1 386.5 95.3 389.5 96.1 393.1 96.2 396.6 95.4 399.9 93.9 402.7 91.5 405 88.8 406.5 86.9M376.3 78 377.7 79.8 379.4 81.8 381.1 83.8 382.8 85.3 384.7 86.7 386.8 88 388.9 88.9 390.5 89.5 392.8 89.8 395 89.6 397 89.1 399.1 87.6 401.2 85.4 402.8 83.7" fill="none" stroke="#3e628e" stroke-width=".70"/>
<path d="M262.4 126.9 263.6 128 265.4 129.6 267.8 131.3 269.9 132.3 272.3 133.3 274.7 134.1 276.8 134.9 278.9 135.6 280.7 136.2 281.4 134 279.7 133.4 277.7 132.6 275.7 131.7 273.4 130.7 271.1 129.7 269.4 128.7 267.5 127.2 265.9 125.6 264.8 124.4z" fill="#ea5230" stroke="#ea5230" stroke-width=".5"/>
<path d="M280.7 136.2 283.1 137 283.8 134.9 281.4 134z" fill="#75668b" stroke="#75668b" stroke-width=".5"/>
<path d="M283.1 137 284.9 137.6 287 138.3 289.3 139.1 291.6 139.9 293.7 140.7 295.3 141.5 297.7 143.3 299.5 145.1 301.2 147 303.1 148.7 304.7 150.2 305.9 151.9 306.9 153.9 307.7 156.3 308.4 158.9 308.8 161.5 309.1 164.4 309.3 167.3 309.4 169.8 309.3 172.3 309.2 174.8 309 176.9 308.2 179.3 307.2 181.3 306.2 183 304.7 184.8 308.9 187.4 309.9 185 310.8 182.8 311.6 180.4 312.1 177.5 312.4 175 312.5 172.4 312.4 169.7 312.3 167.2 312.1 164.1 311.8 161.1 311.3 158.2 310.5 155.5 309.5 152.8 308.2 150.4 306.6 148.4 304.8 146.8 303 145.3 301.2 143.5 299.2 141.5 296.5 139.6 294.6 138.7 292.4 137.8 290.1 137 287.7 136.2 285.6 135.5 283.8 134.9z" fill="#3a70b8" stroke="#3a70b8" stroke-width=".5"/>
<path d="M304.7 184.8 303 186.8 308.1 189.4 308.9 187.4z" fill="#3da16c" stroke="#3da16c" stroke-width=".5"/>
<path d="M303 186.8 301.9 188.9 300.8 191 299.8 193.5 299 195.7 298.3 198.2 297.5 200.9 296.8 203.8 296.4 206.3 296 208.8 295.7 211.5 295.5 214.2 295.3 216.9 295.3 219.6 295.4 222.3 295.6 224.9 304.2 224.3 304.1 221.8 304 219.4 304 217.1 304 214.7 304.2 212.2 304.4 209.8 304.6 207.4 304.9 205.2 305.3 202.7 305.8 200.2 306.4 197.8 306.9 195.7 307.4 193.1 307.8 191.1 308.1 189.4z" fill="#3fb946" stroke="#3fb946" stroke-width=".5"/>
<path d="M295.6 224.9 295.7 227.3 295.8 229.5 295.8 232.1 295.8 234.5 304.4 234.7 304.5 232.1 304.5 229.3 304.4 226.8 304.2 224.3z" fill="#35a83e" stroke="#35a83e" stroke-width=".5"/>
<path d="M295.8 234.5 295.8 236.8 304.3 237.2 304.4 234.7z" fill="#3cb343" stroke="#3cb343" stroke-width=".5"/>
<path d="M295.8 236.8 295.7 239.1 295.7 241.9 295.7 243.9 294.9 246.7 294.3 248.2 293.5 250.2 292.5 252.3 291.3 254.5 290.1 256.7 288.8 258.7 287.5 260.5 286.2 262 284.7 263.5 283.1 265.1 281.4 266.6 279.6 268 277.9 269.5 276.2 270.9 274.6 272.3 272.4 274.2 270.3 275.9 268.3 277.6 266.4 279.4 264.7 281.4 263 283.9 261.8 286.6 260.9 289.3 260.6 292.2 260.8 295.1 261.5 298.1 262.6 301.1 264.1 303.8 265.6 305.9 267.3 308 269.2 309.9 271.9 307.1 270.2 305.3 268.8 303.5 267.6 301.8 266.4 299.4 265.6 297 265.2 294.5 265.1 292.3 265.4 290.3 266.1 288.3 267.1 286.4 268.5 284.4 269.9 283.1 271.6 281.7 273.6 280.3 276 278.7 278.4 276.9 280 275.7 281.7 274.4 283.6 273.1 285.5 271.6 287.4 270.1 289.4 268.5 291.2 266.8 292.9 265.1 294.6 262.9 296.3 260.6 297.8 258.2 299.1 255.8 300.3 253.5 301.4 251.4 302.3 249.3 303.6 245.5 303.9 242.3 304.1 239.5 304.3 237.2z" fill="#3fb946" stroke="#3fb946" stroke-width=".5"/>
<path d="M269.2 309.9 271.4 311.7 273.7 313.2 275.9 314.3 278.3 315.3 280.8 316.1 281.9 312.7 279.6 311.9 277.4 311 275.6 310 273.7 308.6 271.9 307.1z" fill="#2f9a38" stroke="#2f9a38" stroke-width=".5"/>
<path d="M280.8 316.1 283.3 316.8 284.2 313.4 281.9 312.7z" fill="#3aaf41" stroke="#3aaf41" stroke-width=".5"/>
<path d="M283.3 316.8 285.5 317.3 287.4 317.8 290.5 318.6 292.9 318.9 294.4 319.1 294.9 315.8 293.4 315.6 291.2 315.3 288.2 314.6 286.4 314 284.2 313.4z" fill="#3fb946" stroke="#3fb946" stroke-width=".5"/>
<defs><path id="c29" d="M263.6 125.7 266.5 128.4 270.5 131 275.2 132.9 279.3 134.5 283.5 136 287.4 137.3 292 138.9 295.9 140.6 300.4 144.3 303.9 147.8 307.1 151.1 309.1 155.9 310.3 161.3 310.8 167.3 310.9 172.4 310.6 177.2 309 182.1 306.8 186.1 304.8 190 303.4 194.6 302 199.2 300.9 204.5 300.2 209.3 299.7 214.4 299.6 219.5 299.9 224.6 300.1 229.4 300.1 234.6 299.9 239.3 299.6 244.7 297.9 249.8 295.8 254.1 293.2 258.6 290.2 262.8 287 266 283.4 269.1 279.8 272 276.5 274.6 272 278.1 268.1 281.2 265.1 285.1 263.2 289.8 263 294.8 264.5 300.2 267.2 304.7 270.5 308.5 274.7 311.6 279 313.6 283.7 315.1 287.8 316.2 293.1 317.3"/></defs><use href="#c29" class="hl" stroke-width="3.3"/><use href="#c29" class="hl" stroke-width="1.6"/>
<path d="M262.4 126.9 263.6 128 265.4 129.6 267.8 131.3 269.9 132.3 272.3 133.3 274.7 134.1 276.8 134.9 278.9 135.6 280.7 136.2M264.8 124.4 265.9 125.6 267.5 127.2 269.4 128.7 271.1 129.7 273.4 130.7 275.7 131.7 277.7 132.6 279.7 133.4 281.4 134" fill="none" stroke="#9d3720" stroke-width=".70"/>
<path d="M280.7 136.2 283.1 137M281.4 134 283.8 134.9" fill="none" stroke="#4e445d" stroke-width=".70"/>
<path d="M283.1 137 284.9 137.6 287 138.3 289.3 139.1 291.6 139.9 293.7 140.7 295.3 141.5 297.7 143.3 299.5 145.1 301.2 147 303.1 148.7 304.7 150.2 305.9 151.9 306.9 153.9 307.7 156.3 308.4 158.9 308.8 161.5 309.1 164.4 309.3 167.3 309.4 169.8 309.3 172.3 309.2 174.8 309 176.9 308.2 179.3 307.2 181.3 306.2 183 304.7 184.8M283.8 134.9 285.6 135.5 287.7 136.2 290.1 137 292.4 137.8 294.6 138.7 296.5 139.6 299.2 141.5 301.2 143.5 303 145.3 304.8 146.8 306.6 148.4 308.2 150.4 309.5 152.8 310.5 155.5 311.3 158.2 311.8 161.1 312.1 164.1 312.3 167.2 312.4 169.7 312.5 172.4 312.4 175 312.1 177.5 311.6 180.4 310.8 182.8 309.9 185 308.9 187.4" fill="none" stroke="#274b7b" stroke-width=".70"/>
<path d="M304.7 184.8 303 186.8M308.9 187.4 308.1 189.4" fill="none" stroke="#296c48" stroke-width=".70"/>
<path d="M303 186.8 301.9 188.9 300.8 191 299.8 193.5 299 195.7 298.3 198.2 297.5 200.9 296.8 203.8 296.4 206.3 296 208.8 295.7 211.5 295.5 214.2 295.3 216.9 295.3 219.6 295.4 222.3 295.6 224.9M308.1 189.4 307.8 191.1 307.4 193.1 306.9 195.7 306.4 197.8 305.8 200.2 305.3 202.7 304.9 205.2 304.6 207.4 304.4 209.8 304.2 212.2 304 214.7 304 217.1 304 219.4 304.1 221.8 304.2 224.3" fill="none" stroke="#2a7c2f" stroke-width=".70"/>
<path d="M295.6 224.9 295.7 227.3 295.8 229.5 295.8 232.1 295.8 234.5M304.2 224.3 304.4 226.8 304.5 229.3 304.5 232.1 304.4 234.7" fill="none" stroke="#24712a" stroke-width=".70"/>
<path d="M295.8 234.5 295.8 236.8M304.4 234.7 304.3 237.2" fill="none" stroke="#28782d" stroke-width=".70"/>
<path d="M295.8 236.8 295.7 239.1 295.7 241.9 295.7 243.9 294.9 246.7 294.3 248.2 293.5 250.2 292.5 252.3 291.3 254.5 290.1 256.7 288.8 258.7 287.5 260.5 286.2 262 284.7 263.5 283.1 265.1 281.4 266.6 279.6 268 277.9 269.5 276.2 270.9 274.6 272.3 272.4 274.2 270.3 275.9 268.3 277.6 266.4 279.4 264.7 281.4 263 283.9 261.8 286.6 260.9 289.3 260.6 292.2 260.8 295.1 261.5 298.1 262.6 301.1 264.1 303.8 265.6 305.9 267.3 308 269.2 309.9M304.3 237.2 304.1 239.5 303.9 242.3 303.6 245.5 302.3 249.3 301.4 251.4 300.3 253.5 299.1 255.8 297.8 258.2 296.3 260.6 294.6 262.9 292.9 265.1 291.2 266.8 289.4 268.5 287.4 270.1 285.5 271.6 283.6 273.1 281.7 274.4 280 275.7 278.4 276.9 276 278.7 273.6 280.3 271.6 281.7 269.9 283.1 268.5 284.4 267.1 286.4 266.1 288.3 265.4 290.3 265.1 292.3 265.2 294.5 265.6 297 266.4 299.4 267.6 301.8 268.8 303.5 270.2 305.3 271.9 307.1" fill="none" stroke="#2a7c2f" stroke-width=".70"/>
<path d="M269.2 309.9 271.4 311.7 273.7 313.2 275.9 314.3 278.3 315.3 280.8 316.1M271.9 307.1 273.7 308.6 275.6 310 277.4 311 279.6 311.9 281.9 312.7" fill="none" stroke="#1f6726" stroke-width=".70"/>
<path d="M280.8 316.1 283.3 316.8M281.9 312.7 284.2 313.4" fill="none" stroke="#27752c" stroke-width=".70"/>
<path d="M283.3 316.8 285.5 317.3 287.4 317.8 290.5 318.6 292.9 318.9 294.4 319.1M284.2 313.4 286.4 314 288.2 314.6 291.2 315.3 293.4 315.6 294.9 315.8" fill="none" stroke="#2a7c2f" stroke-width=".70"/>
<path d="M434.7 51 435.2 52.7 435.9 55.2 436.8 58.1 437.5 60 438.1 62 438.9 64.2 439.8 66.5 440.7 68.8 441.8 71.1 443 73.6 444.3 76.1 445.8 78.6 447.4 80.9 449.3 83 451.4 84.8 453.5 86.5 455.7 88 457.9 89.3 460.6 90.5 463.4 91.4 466.3 91.9 469.4 91.8 472.8 90.6 475.3 88.7 477.4 87 479.5 85.5 475.1 80.1 473.2 81.7 471.2 83.4 469.5 84.7 468.1 85.2 466.9 85.1 465 84.8 463 84.2 460.9 83.2 459.3 82.3 457.5 81.1 455.7 79.7 454.1 78.2 452.6 76.6 451.2 74.9 449.8 72.8 448.5 70.6 447.3 68.4 446.1 66.2 445.1 64.2 444.2 62.1 443.3 60.1 442.5 58.1 441.8 56.3 440.6 53.5 439.7 51.2 439 49.5z" fill="#5c92d4" stroke="#5c92d4" stroke-width=".5"/>
<path d="M479.5 85.5 481.4 84.1 477.3 78.1 475.1 80.1z" fill="#6c9dd8" stroke="#6c9dd8" stroke-width=".5"/>
<path d="M481.4 84.1 483.4 83.1 480.3 76.3 477.3 78.1z" fill="#7da8dd" stroke="#7da8dd" stroke-width=".5"/>
<path d="M483.4 83.1 484.9 82.6 486.9 82.1 489.2 81.7 491.5 81.3 493.6 81 496 80.7 498.4 80.5 500.7 80.4 503 80.2 505.7 79.7 504.5 72.3 502 72.8 500.2 72.9 497.9 73 495.3 73.2 492.6 73.5 490.3 73.9 487.9 74.3 485.3 74.8 482.8 75.4 480.3 76.3z" fill="#8db3e1" stroke="#8db3e1" stroke-width=".5"/>
<path d="M505.7 79.7 508.6 79.3 507.7 71.8 504.5 72.3z" fill="#b0b1be" stroke="#b0b1be" stroke-width=".5"/>
<path d="M508.6 79.3 510.5 79.1 512.9 79 515.5 78.8 518.3 78.8 521.2 78.8 523.4 78.8 525.7 78.8 528.1 78.9 530.5 79 532.9 79.2 535.3 79.4 537.7 79.7 540.1 80 542.7 80.4 545.4 80.9 548 81.5 550.4 82 552.5 82.4 554.4 82.8 555.9 83 558.1 75.8 555.6 75.4 554.1 75.1 552 74.6 549.5 74.1 546.8 73.6 544 73.1 541.2 72.6 538.6 72.2 536 71.9 533.5 71.7 530.9 71.6 528.4 71.4 525.9 71.3 523.5 71.3 521.3 71.3 518.2 71.3 515.2 71.4 512.4 71.5 509.9 71.7 507.7 71.8z" fill="#f7ac79" stroke="#f7ac79" stroke-width=".5"/>
<path d="M555.9 83 556.1 83.3 560 76.9 558.1 75.8z" fill="#adc274" stroke="#adc274" stroke-width=".5"/>
<path d="M556.1 83.3 557.6 84.1 559.3 85.1 561.2 86.3 565.3 80.3 563.2 78.9 561.4 77.7 560 76.9z" fill="#89d37b" stroke="#89d37b" stroke-width=".5"/>
<path d="M561.2 86.3 563.1 87.6 564.9 89 566.7 90.4 568.6 92 570.4 93.8 572 95.5 573.2 97 574.2 98.9 574.9 101 575.4 103 575.6 104.9 575.5 107.2 574.9 109.3 578.9 110.6 579.8 108 580.1 105.1 580.1 102.5 579.9 99.9 579.2 97.1 578.1 94.3 576.7 91.9 575.1 89.7 573.3 87.5 571.4 85.4 569.5 83.5 567.5 81.9 565.3 80.3z" fill="#7bce6a" stroke="#7bce6a" stroke-width=".5"/>
<path d="M574.9 109.3 574.1 111.8 573.2 113.9 572.2 116.3 571.2 118.7 570.3 121.2 569.5 123.6 568.9 126 568.4 128.5 568.1 131.3 568.3 133.8 568.7 136.5 569.3 139.2 569.7 141.4 570 142.9 574.5 142.1 574.1 140.5 573.7 138.3 573.2 135.8 572.8 133.3 572.6 131.2 572.7 129 573.1 126.9 573.6 124.7 574.2 122.5 575 120.2 576 117.9 577.1 115.5 577.9 113.2 578.9 110.6z" fill="#6c9dd8" stroke="#6c9dd8" stroke-width=".5"/>
<defs><path id="c30" d="M436.9 50.3 438.3 54.4 440 59 441.5 63.1 443.4 67.5 445.8 72.1 448.5 76.7 451.7 80.6 455.5 83.8 459.4 86.3 464.2 88.1 468.8 88.5 473.2 86 477.3 82.8 481.9 79.7 486.1 78.5 490.9 77.6 495.7 76.9 500.5 76.7 505.1 76 510.2 75.4 515.4 75.1 521.3 75 525.8 75.1 530.7 75.3 535.7 75.7 540.7 76.3 546.1 77.3 551.2 78.3 555 79.1 558 80.1 561.3 82 565.3 84.7 569 87.9 572.7 91.7 575.6 95.6 577.4 100.4 577.9 105 576.9 109.9 575.2 114.7 573.1 119.5 571.6 124.2 570.5 128.8 570.5 133.6 571.5 138.7 572.3 142.5"/></defs><use href="#c30" class="hl" stroke-width="4.2"/><use href="#c30" class="hl" stroke-width="2"/>
<path d="M434.7 51 435.2 52.7 435.9 55.2 436.8 58.1 437.5 60 438.1 62 438.9 64.2 439.8 66.5 440.7 68.8 441.8 71.1 443 73.6 444.3 76.1 445.8 78.6 447.4 80.9 449.3 83 451.4 84.8 453.5 86.5 455.7 88 457.9 89.3 460.6 90.5 463.4 91.4 466.3 91.9 469.4 91.8 472.8 90.6 475.3 88.7 477.4 87 479.5 85.5M439 49.5 439.7 51.2 440.6 53.5 441.8 56.3 442.5 58.1 443.3 60.1 444.2 62.1 445.1 64.2 446.1 66.2 447.3 68.4 448.5 70.6 449.8 72.8 451.2 74.9 452.6 76.6 454.1 78.2 455.7 79.7 457.5 81.1 459.3 82.3 460.9 83.2 463 84.2 465 84.8 466.9 85.1 468.1 85.2 469.5 84.7 471.2 83.4 473.2 81.7 475.1 80.1" fill="none" stroke="#3e628e" stroke-width=".70"/>
<path d="M479.5 85.5 481.4 84.1M475.1 80.1 477.3 78.1" fill="none" stroke="#4a6c95" stroke-width=".70"/>
<path d="M481.4 84.1 483.4 83.1M477.3 78.1 480.3 76.3" fill="none" stroke="#59779d" stroke-width=".70"/>
<path d="M483.4 83.1 484.9 82.6 486.9 82.1 489.2 81.7 491.5 81.3 493.6 81 496 80.7 498.4 80.5 500.7 80.4 503 80.2 505.7 79.7M480.3 76.3 482.8 75.4 485.3 74.8 487.9 74.3 490.3 73.9 492.6 73.5 495.3 73.2 497.9 73 500.2 72.9 502 72.8 504.5 72.3" fill="none" stroke="#6783a4" stroke-width=".70"/>
<path d="M505.7 79.7 508.6 79.3M504.5 72.3 507.7 71.8" fill="none" stroke="#80818b" stroke-width=".70"/>
<path d="M508.6 79.3 510.5 79.1 512.9 79 515.5 78.8 518.3 78.8 521.2 78.8 523.4 78.8 525.7 78.8 528.1 78.9 530.5 79 532.9 79.2 535.3 79.4 537.7 79.7 540.1 80 542.7 80.4 545.4 80.9 548 81.5 550.4 82 552.5 82.4 554.4 82.8 555.9 83M507.7 71.8 509.9 71.7 512.4 71.5 515.2 71.4 518.2 71.3 521.3 71.3 523.5 71.3 525.9 71.3 528.4 71.4 530.9 71.6 533.5 71.7 536 71.9 538.6 72.2 541.2 72.6 544 73.1 546.8 73.6 549.5 74.1 552 74.6 554.1 75.1 555.6 75.4 558.1 75.8" fill="none" stroke="#b47d58" stroke-width=".70"/>
<path d="M555.9 83 556.1 83.3M558.1 75.8 560 76.9" fill="none" stroke="#7b8a52" stroke-width=".70"/>
<path d="M556.1 83.3 557.6 84.1 559.3 85.1 561.2 86.3M560 76.9 561.4 77.7 563.2 78.9 565.3 80.3" fill="none" stroke="#619657" stroke-width=".70"/>
<path d="M561.2 86.3 563.1 87.6 564.9 89 566.7 90.4 568.6 92 570.4 93.8 572 95.5 573.2 97 574.2 98.9 574.9 101 575.4 103 575.6 104.9 575.5 107.2 574.9 109.3M565.3 80.3 567.5 81.9 569.5 83.5 571.4 85.4 573.3 87.5 575.1 89.7 576.7 91.9 578.1 94.3 579.2 97.1 579.9 99.9 580.1 102.5 580.1 105.1 579.8 108 578.9 110.6" fill="none" stroke="#558e49" stroke-width=".70"/>
<path d="M574.9 109.3 574.1 111.8 573.2 113.9 572.2 116.3 571.2 118.7 570.3 121.2 569.5 123.6 568.9 126 568.4 128.5 568.1 131.3 568.3 133.8 568.7 136.5 569.3 139.2 569.7 141.4 570 142.9M578.9 110.6 577.9 113.2 577.1 115.5 576 117.9 575 120.2 574.2 122.5 573.6 124.7 573.1 126.9 572.7 129 572.6 131.2 572.8 133.3 573.2 135.8 573.7 138.3 574.1 140.5 574.5 142.1" fill="none" stroke="#4a6c95" stroke-width=".70"/>
<path d="M519 206.6 520.2 205.8 522.1 204.5 524.3 203 526.8 201 529 198.9 530.5 197.1 531.9 195.3 533.3 193.5 534.6 191.5 536 189.4 537.3 187.3 538.7 185 539.8 183.1 540.9 181.1 542 179 543.1 176.8 544.3 174.6 545.3 172.5 546.4 170.4 547.4 168.5 548.3 166.7 549.7 164.3 550.9 162 552.2 159.8 553.4 157.7 554.5 155.6 555.7 153.4 556.7 151.2 557.7 148.9 558.6 146.7 559.4 144.6 560.2 142.7 560.8 141 562.3 137.2 557.9 135.3 556.2 139 555.4 140.6 554.5 142.5 553.6 144.4 552.5 146.5 551.5 148.6 550.3 150.6 549.2 152.5 548 154.4 546.7 156.4 545.3 158.5 543.8 160.8 542.3 163.3 541.2 165.1 540.1 167.1 539 169.2 537.9 171.3 536.7 173.4 535.6 175.5 534.4 177.5 533.3 179.4 532.3 181.2 531 183.3 529.7 185.4 528.4 187.3 527.2 189.1 525.9 190.8 524.7 192.4 523.6 193.7 521.8 195.5 519.9 197.2 517.9 198.7 516.1 200 514.8 201z" fill="#4d86c9" stroke="#4d86c9" stroke-width=".5"/>
<path d="M562.3 137.2 563 134.8 559 133.2 557.9 135.3z" fill="#4a82c8" stroke="#4a82c8" stroke-width=".5"/>
<defs><path id="c31" d="M516.9 203.8 520 201.6 524.3 198.3 527.6 194.8 530.2 191.3 532.8 187.4 535.5 183.1 537.7 179.3 539.9 175.1 542.2 170.8 544.3 166.8 546.7 162.5 549.4 158.1 551.9 154 554.1 149.9 556.1 145.6 557.8 141.6 560.1 136.2"/></defs><use href="#c31" class="hl" stroke-width="4.4"/><use href="#c31" class="hl" stroke-width="2.1"/>
<path d="M519 206.6 520.2 205.8 522.1 204.5 524.3 203 526.8 201 529 198.9 530.5 197.1 531.9 195.3 533.3 193.5 534.6 191.5 536 189.4 537.3 187.3 538.7 185 539.8 183.1 540.9 181.1 542 179 543.1 176.8 544.3 174.6 545.3 172.5 546.4 170.4 547.4 168.5 548.3 166.7 549.7 164.3 550.9 162 552.2 159.8 553.4 157.7 554.5 155.6 555.7 153.4 556.7 151.2 557.7 148.9 558.6 146.7 559.4 144.6 560.2 142.7 560.8 141 562.3 137.2M514.8 201 516.1 200 517.9 198.7 519.9 197.2 521.8 195.5 523.6 193.7 524.7 192.4 525.9 190.8 527.2 189.1 528.4 187.3 529.7 185.4 531 183.3 532.3 181.2 533.3 179.4 534.4 177.5 535.6 175.5 536.7 173.4 537.9 171.3 539 169.2 540.1 167.1 541.2 165.1 542.3 163.3 543.8 160.8 545.3 158.5 546.7 156.4 548 154.4 549.2 152.5 550.3 150.6 551.5 148.6 552.5 146.5 553.6 144.4 554.5 142.5 555.4 140.6 556.2 139 557.9 135.3" fill="none" stroke="#345a87" stroke-width=".70"/>
<path d="M562.3 137.2 563 134.8M557.9 135.3 559 133.2" fill="none" stroke="#325786" stroke-width=".70"/>
<path d="M562.9 134.7 563.4 133.3 564.2 131.1 565.1 128.7 565.9 126.3 566.6 123.9 567.3 121.4 567.8 118.9 568.2 116.4 568.2 112.7 567.7 109.4 567.2 107.1 566.8 104.9 562.9 105.4 563.3 107.8 563.6 110 563.9 112.9 563.8 116.1 563.4 118 562.9 120.3 562.2 122.7 561.6 125 560.9 127.3 560.2 129.7 559.5 131.9 559 133.4z" fill="#4a82c8" stroke="#4a82c8" stroke-width=".5"/>
<path d="M566.8 104.9 566.6 102.7 566.6 100.3 566.9 97.8 567.7 95.5 568.9 93.8 570.6 91.9 572.5 90 574.5 88.4 576.6 86.9 578.9 85.5 581.2 84.3 583.5 83.2 585.9 82.2 588.3 81.4 590.6 80.7 592.6 80.1 594.9 79.6 594 74.2 591.1 75.1 589 75.8 586.6 76.6 584 77.6 581.5 78.8 579 80.1 576.5 81.5 574 83.1 571.7 84.9 569.6 86.9 567.5 89.1 565.7 91.5 564.3 93.9 563.2 97 562.9 100 562.8 102.8 562.9 105.4z" fill="#ea5230" stroke="#ea5230" stroke-width=".5"/>
<path d="M594.9 79.6 597.6 79.5 597.4 73.9 594 74.2z" fill="#b17437" stroke="#b17437" stroke-width=".5"/>
<path d="M597.6 79.5 599.6 79.6 602.1 79.7 604.8 79.8 607.5 80.1 610.1 80.6 612 81.1 614 81.7 616.1 82.5 618.2 83.3 620.3 84.2 622.5 85.1 624.6 85.9 626.8 86.9 629 87.8 631.1 88.8 633.2 89.7 635.2 90.7 637.5 91.9 639.8 93.2 641.9 94.4 644 95.7 645.9 97 647.8 98.4 649.8 99.9 651.6 101.4 653.4 102.9 654.9 104.2 656.8 105.9 658.2 107.3 664 101.9 662.2 100.2 660.1 98.3 658.5 96.9 656.7 95.3 654.7 93.7 652.5 92.1 650.3 90.5 648.1 89.1 645.8 87.7 643.4 86.5 641 85.2 638.5 84 636.4 83 634.1 82 631.9 81.1 629.6 80.1 627.3 79.3 625 78.4 622.8 77.6 620.6 76.9 618.3 76.1 616 75.4 613.6 74.8 611.2 74.3 608.2 73.9 605.2 73.8 602.3 73.7 599.7 73.8 597.4 73.9z" fill="#3fb946" stroke="#3fb946" stroke-width=".5"/>
<path d="M658.2 107.3 659.7 109 661.1 110.8 662.6 112.8 664.2 114.9 665.7 116.8 667.7 119 669.6 120.9 670.9 122.2 676 117.8 675 116.3 673.5 114.2 671.8 111.9 670.5 110.1 668.9 108.1 667.3 105.9 665.8 104 664 101.9z" fill="#e6e23a" stroke="#e6e23a" stroke-width=".5"/>
<defs><path id="c32" d="M560.9 134.1 562.2 130.4 563.8 125.6 565.1 120.8 566 116.3 565.6 109.7 564.9 105.2 564.7 100.1 566 94.7 569.1 90.5 573.1 86.6 577.7 83.5 582.5 81 587.4 79 591.9 77.6 597.5 76.7 602.2 76.7 607.9 77 612.8 77.9 617.2 79.3 621.6 80.9 626 82.6 630.4 84.4 634.8 86.4 639.3 88.6 643.9 91.1 648.1 93.8 652.2 96.8 655.9 99.9 659.5 103.1 662.8 106.5 665.8 110.4 668.8 114.4 672.3 118.6"/></defs><use href="#c32" class="hl" stroke-width="4"/><use href="#c32" class="hl" stroke-width="1.9"/>
<path d="M562.9 134.7 563.4 133.3 564.2 131.1 565.1 128.7 565.9 126.3 566.6 123.9 567.3 121.4 567.8 118.9 568.2 116.4 568.2 112.7 567.7 109.4 567.2 107.1 566.8 104.9M559 133.4 559.5 131.9 560.2 129.7 560.9 127.3 561.6 125 562.2 122.7 562.9 120.3 563.4 118 563.8 116.1 563.9 112.9 563.6 110 563.3 107.8 562.9 105.4" fill="none" stroke="#325786" stroke-width=".70"/>
<path d="M566.8 104.9 566.6 102.7 566.6 100.3 566.9 97.8 567.7 95.5 568.9 93.8 570.6 91.9 572.5 90 574.5 88.4 576.6 86.9 578.9 85.5 581.2 84.3 583.5 83.2 585.9 82.2 588.3 81.4 590.6 80.7 592.6 80.1 594.9 79.6M562.9 105.4 562.8 102.8 562.9 100 563.2 97 564.3 93.9 565.7 91.5 567.5 89.1 569.6 86.9 571.7 84.9 574 83.1 576.5 81.5 579 80.1 581.5 78.8 584 77.6 586.6 76.6 589 75.8 591.1 75.1 594 74.2" fill="none" stroke="#9d3720" stroke-width=".70"/>
<path d="M594.9 79.6 597.6 79.5M594 74.2 597.4 73.9" fill="none" stroke="#774e25" stroke-width=".70"/>
<path d="M597.6 79.5 599.6 79.6 602.1 79.7 604.8 79.8 607.5 80.1 610.1 80.6 612 81.1 614 81.7 616.1 82.5 618.2 83.3 620.3 84.2 622.5 85.1 624.6 85.9 626.8 86.9 629 87.8 631.1 88.8 633.2 89.7 635.2 90.7 637.5 91.9 639.8 93.2 641.9 94.4 644 95.7 645.9 97 647.8 98.4 649.8 99.9 651.6 101.4 653.4 102.9 654.9 104.2 656.8 105.9 658.2 107.3M597.4 73.9 599.7 73.8 602.3 73.7 605.2 73.8 608.2 73.9 611.2 74.3 613.6 74.8 616 75.4 618.3 76.1 620.6 76.9 622.8 77.6 625 78.4 627.3 79.3 629.6 80.1 631.9 81.1 634.1 82 636.4 83 638.5 84 641 85.2 643.4 86.5 645.8 87.7 648.1 89.1 650.3 90.5 652.5 92.1 654.7 93.7 656.7 95.3 658.5 96.9 660.1 98.3 662.2 100.2 664 101.9" fill="none" stroke="#2a7c2f" stroke-width=".70"/>
<path d="M658.2 107.3 659.7 109 661.1 110.8 662.6 112.8 664.2 114.9 665.7 116.8 667.7 119 669.6 120.9 670.9 122.2M664 101.9 665.8 104 667.3 105.9 668.9 108.1 670.5 110.1 671.8 111.9 673.5 114.2 675 116.3 676 117.8" fill="none" stroke="#9a9727" stroke-width=".70"/>
<path d="M675.6 123.7 677.1 122.1 678.9 120.2 674.8 115.7 672.6 118.3 671.3 120.1z" fill="#8a2f8c" stroke="#8a2f8c" stroke-width=".5"/>
<path d="M678.9 120.2 680.4 119.1 681.9 118.7 683.9 118.6 685.1 118.7 687.4 120 688.4 121.4 687.8 121.9 685.6 123.5 687.4 126.2 690.1 124.5 692.2 121.6 691.2 117.2 688 113.8 684.6 112.7 681.2 112.6 677.7 113.4 674.8 115.7z" fill="#b04cae" stroke="#b04cae" stroke-width=".5"/>
<path d="M685.6 123.5 683.9 124.7 685.5 127.3 687.4 126.2z" fill="#9aa52a" stroke="#9aa52a" stroke-width=".5"/>
<defs><path id="c33" d="M673.4 121.9 676.8 117.9 681.6 115.6 686.6 116.3 690.3 121.5 686.5 124.9"/></defs><use href="#c33" class="hl" stroke-width="3.3"/><use href="#c33" class="hl" stroke-width="1.6"/>
<path d="M675.6 123.7 677.1 122.1 678.9 120.2M671.3 120.1 672.6 118.3 674.8 115.7" fill="none" stroke="#612162" stroke-width=".70"/>
<path d="M678.9 120.2 680.4 119.1 681.9 118.7 683.9 118.6 685.1 118.7 687.4 120 688.4 121.4 687.8 121.9 685.6 123.5M674.8 115.7 677.7 113.4 681.2 112.6 684.6 112.7 688 113.8 691.2 117.2 692.2 121.6 690.1 124.5 687.4 126.2" fill="none" stroke="#7b357a" stroke-width=".70"/>
<path d="M685.6 123.5 683.9 124.7M687.4 126.2 685.5 127.3" fill="none" stroke="#6c741d" stroke-width=".70"/>
<path d="M673.1 120 673 121.6 673 123.9 672.9 126.4 672.9 128.9 672.7 131 672.5 133.8 672.1 136.1 679 137.6 679.5 134.6 679.8 131.5 679.8 129.1 679.8 126.4 679.7 123.8 679.5 121.5 679.4 120z" fill="#b04cae" stroke="#b04cae" stroke-width=".5"/>
<path d="M672.1 136.1 671.3 138.6 670.7 140.5 670 142.6 669.1 144.6 668.2 146.2 667.2 147.5 665.8 148.6 664 149.7 661.9 150.6 659.9 151.3 658 151.7 656.3 151.8 654.5 151.5 652.6 151 650.6 150.3 648.6 149.6 646.9 148.7 645.1 147.6 643.4 146.4 641.7 145.1 640.1 143.9 638.5 142.5 637.2 141.1 632 146.1 633.6 147.7 635.5 149.4 637.3 150.8 639.2 152.2 641.2 153.6 643.4 154.9 645.7 156.1 648.1 157 650.5 157.8 653.2 158.5 656 158.9 658.9 158.8 661.7 158.2 664.6 157.3 667.3 156 669.9 154.4 672.2 152.5 674.1 150.2 675.5 147.7 676.6 145.2 677.4 142.9 678.2 140.7 679 137.6z" fill="#4a82c8" stroke="#4a82c8" stroke-width=".5"/>
<path d="M637.2 141.1 635.6 139.5 630.6 144.5 632 146.1z" fill="#6c70bf" stroke="#6c70bf" stroke-width=".5"/>
<path d="M635.6 139.5 633.7 137.6 632.1 136.2 630.4 134.7 628.6 133.2 626.7 131.6 624.8 130.1 623 128.7 620.4 127 617.9 125.4 615.3 124 612.6 123 609.2 122.2 605.7 122.1 602.3 122.9 599.3 124.7 596.9 127.2 595.1 130 594 132.4 593 135 592.4 137.8 592.1 140.8 592.6 144.5 593.7 147.9 594.5 150.1 600.5 148 599.8 145.9 598.8 143.1 598.4 140.5 598.6 138.9 599.1 136.9 599.8 134.9 600.6 133.2 602 131.3 603.4 129.9 604.7 129.1 606.2 128.9 608.1 129.1 610.5 129.8 612.3 130.5 614.3 131.6 616.6 132.9 618.9 134.5 620.5 135.7 622.2 137.1 624 138.6 625.7 140.1 627.4 141.6 628.8 142.9 630.6 144.5z" fill="#b04cae" stroke="#b04cae" stroke-width=".5"/>
<defs><path id="c34" d="M676.3 120 676.3 123.8 676.3 129 676 134.2 674.8 139.7 673.3 143.9 671.2 148.2 667.8 151.5 663.2 153.9 658.4 155.3 653.8 155 649.3 153.7 645.1 151.8 641.3 149.3 637.8 146.6 634.6 143.6 631.3 140.3 628.1 137.4 624.4 134.3 620.9 131.6 616.1 128.5 611.6 126.4 606 125.5 601.3 127.3 597.9 131.6 596.1 136 595.3 140.6 596.7 146.9"/></defs><use href="#c34" class="hl" stroke-width="4.6"/><use href="#c34" class="hl" stroke-width="2.2"/>
<path d="M673.1 120 673 121.6 673 123.9 672.9 126.4 672.9 128.9 672.7 131 672.5 133.8 672.1 136.1M679.4 120 679.5 121.5 679.7 123.8 679.8 126.4 679.8 129.1 679.8 131.5 679.5 134.6 679 137.6" fill="none" stroke="#763375" stroke-width=".70"/>
<path d="M672.1 136.1 671.3 138.6 670.7 140.5 670 142.6 669.1 144.6 668.2 146.2 667.2 147.5 665.8 148.6 664 149.7 661.9 150.6 659.9 151.3 658 151.7 656.3 151.8 654.5 151.5 652.6 151 650.6 150.3 648.6 149.6 646.9 148.7 645.1 147.6 643.4 146.4 641.7 145.1 640.1 143.9 638.5 142.5 637.2 141.1M679 137.6 678.2 140.7 677.4 142.9 676.6 145.2 675.5 147.7 674.1 150.2 672.2 152.5 669.9 154.4 667.3 156 664.6 157.3 661.7 158.2 658.9 158.8 656 158.9 653.2 158.5 650.5 157.8 648.1 157 645.7 156.1 643.4 154.9 641.2 153.6 639.2 152.2 637.3 150.8 635.5 149.4 633.6 147.7 632 146.1" fill="none" stroke="#325786" stroke-width=".70"/>
<path d="M637.2 141.1 635.6 139.5M632 146.1 630.6 144.5" fill="none" stroke="#484b80" stroke-width=".70"/>
<path d="M635.6 139.5 633.7 137.6 632.1 136.2 630.4 134.7 628.6 133.2 626.7 131.6 624.8 130.1 623 128.7 620.4 127 617.9 125.4 615.3 124 612.6 123 609.2 122.2 605.7 122.1 602.3 122.9 599.3 124.7 596.9 127.2 595.1 130 594 132.4 593 135 592.4 137.8 592.1 140.8 592.6 144.5 593.7 147.9 594.5 150.1M630.6 144.5 628.8 142.9 627.4 141.6 625.7 140.1 624 138.6 622.2 137.1 620.5 135.7 618.9 134.5 616.6 132.9 614.3 131.6 612.3 130.5 610.5 129.8 608.1 129.1 606.2 128.9 604.7 129.1 603.4 129.9 602 131.3 600.6 133.2 599.8 134.9 599.1 136.9 598.6 138.9 598.4 140.5 598.8 143.1 599.8 145.9 600.5 148" fill="none" stroke="#763375" stroke-width=".70"/>
<path d="M497.1 233.8 497.1 236.3 496.9 238.9 496.3 241.3 495.5 243.7 494.5 246.1 493.4 248.4 492.3 250.7 491.2 252.9 490 255.2 488.9 257.5 487.8 259.8 486.7 262.1 485.7 264.4 484.7 266.7 483.6 269 482.6 271.3 481.6 273.7 480.5 276 479.5 278.3 478.5 280.6 477.5 283 476.5 285.3 475.4 287.6 474.4 289.9 473.4 292.3 472.4 294.6 471.4 296.9 470.4 299.2 469.3 301.6 468.3 303.9 467.2 306.2 466.1 308.5 465 310.8 463.9 313 462.8 315.3 461.7 317.6 460.6 319.9 459.8 322.3 459.4 324.8 459 327.3 458.3 329.8 457.4 332.1 456.4 334.5 455.4 336.8 454.4 339.1 453.3 341.4 452.2 343.7 451.2 346 450.1 348.3 449 350.6 447.9 352.9 446.8 355.2 445.7 357.5 444.5 359.7 443.4 362 442.2 364.3 441.1 366.5 439.9 368.8 438.7 371 437.5 373.2 436.2 375.5 435 377.7 433.7 379.9 432.4 382.1 431.1 384.2 429.8 386.4 428.4 388.5 427 390.7 425.6 392.8 424.1 394.8 422.6 396.8 421 398.8 419.4 400.8 417.8 402.7 416.1 404.7 414.5 406.6 412.9 408.6 426.5 419.8 428.1 417.5 429.6 415.2 431.2 412.8 432.8 410.5 434.3 408.2 435.9 405.9 437.5 403.6 439 401.2 440.6 398.9 442.1 396.6 443.6 394.2 445.1 391.8 446.6 389.5 448.1 387.1 449.6 384.7 451 382.3 452.4 379.9 453.9 377.5 455.3 375.1 456.6 372.6 458 370.2 459.3 367.7 460.6 365.2 461.8 362.7 463 360.1 464.1 357.6 465.2 355 466.2 352.4 467.2 349.8 468.3 347.2 469.3 344.6 470.4 342 471.5 339.4 472.8 337 474.3 334.6 476.1 332.4 478 330.4 480 328.4 481.7 326.2 483.2 323.8 484.5 321.4 485.8 318.9 487.1 316.4 488.4 313.9 489.7 311.4 490.9 308.9 492.2 306.4 493.4 303.9 494.7 301.4 495.9 298.9 497.2 296.4 498.4 293.9 499.7 291.4 501 288.9 502.2 286.4 503.5 283.9 504.7 281.4 506 278.9 507.2 276.4 508.4 273.8 509.6 271.3 510.8 268.8 512 266.2 513.1 263.7 514.3 261.1 515.4 258.6 516.5 256 517.6 253.4 518.7 250.8 519.8 248.3 520.9 245.7 522 243.1 523 240.5 524.1 237.9 525.1 235.3 526.2 232.7 527.2 230.1z" fill="url(#g35)" stroke="url(#g35)" stroke-width=".6"/>
<path d="M497.1 233.8 497.1 236.3 496.9 238.9 496.3 241.3 495.5 243.7 494.5 246.1 493.4 248.4 492.3 250.7 491.2 252.9 490 255.2 488.9 257.5 487.8 259.8 486.7 262.1 485.7 264.4 484.7 266.7 483.6 269 482.6 271.3 481.6 273.7 480.5 276 479.5 278.3 478.5 280.6 477.5 283 476.5 285.3 475.4 287.6 474.4 289.9 473.4 292.3 472.4 294.6 471.4 296.9 470.4 299.2 469.3 301.6 468.3 303.9 467.2 306.2 466.1 308.5 465 310.8 463.9 313 462.8 315.3 461.7 317.6 460.6 319.9 459.8 322.3 459.4 324.8 459 327.3 458.3 329.8 457.4 332.1 456.4 334.5 455.4 336.8 454.4 339.1 453.3 341.4 452.2 343.7 451.2 346 450.1 348.3 449 350.6 447.9 352.9 446.8 355.2 445.7 357.5 444.5 359.7 443.4 362 442.2 364.3 441.1 366.5 439.9 368.8 438.7 371 437.5 373.2 436.2 375.5 435 377.7 433.7 379.9 432.4 382.1 431.1 384.2 429.8 386.4 428.4 388.5 427 390.7 425.6 392.8 424.1 394.8 422.6 396.8 421 398.8 419.4 400.8 417.8 402.7 416.1 404.7 414.5 406.6 412.9 408.6M527.2 230.1 526.2 232.7 525.1 235.3 524.1 237.9 523 240.5 522 243.1 520.9 245.7 519.8 248.3 518.7 250.8 517.6 253.4 516.5 256 515.4 258.6 514.3 261.1 513.1 263.7 512 266.2 510.8 268.8 509.6 271.3 508.4 273.8 507.2 276.4 506 278.9 504.7 281.4 503.5 283.9 502.2 286.4 501 288.9 499.7 291.4 498.4 293.9 497.2 296.4 495.9 298.9 494.7 301.4 493.4 303.9 492.2 306.4 490.9 308.9 489.7 311.4 488.4 313.9 487.1 316.4 485.8 318.9 484.5 321.4 483.2 323.8 481.7 326.2 480 328.4 478 330.4 476.1 332.4 474.3 334.6 472.8 337 471.5 339.4 470.4 342 469.3 344.6 468.3 347.2 467.2 349.8 466.2 352.4 465.2 355 464.1 357.6 463 360.1 461.8 362.7 460.6 365.2 459.3 367.7 458 370.2 456.6 372.6 455.3 375.1 453.9 377.5 452.4 379.9 451 382.3 449.6 384.7 448.1 387.1 446.6 389.5 445.1 391.8 443.6 394.2 442.1 396.6 440.6 398.9 439 401.2 437.5 403.6 435.9 405.9 434.3 408.2 432.8 410.5 431.2 412.8 429.6 415.2 428.1 417.5 426.5 419.8" fill="none" stroke="#613939" stroke-width=".70" stroke-opacity=".75"/>
<path d="M412.9 408.6 410.7 410.1 408.5 411.5 406.4 413 404.2 414.5 402.1 416 400 417.6 398 419.3 396.1 421 394.1 422.8 392.2 424.6 390.3 426.4 388.3 428.1 386.3 429.8 384.4 431.5 382.4 433.2 380.3 434.9 378.3 436.5 376.1 438 373.9 439.4 371.6 440.7 369.3 441.9 366.9 443 364.5 444 362.1 445.1 359.7 446.2 357.3 447.2 354.9 448.2 352.4 449 349.9 449.8 347.4 450.5 344.8 451.1 342.3 451.7 339.7 452.2 337.2 452.8 334.6 453.3 335.8 467 338.8 467.9 341.8 468.8 344.8 469.6 347.9 470.3 351 470.7 354.1 470.9 357.3 470.7 360.3 470 363.3 469.2 366.3 468.2 369.2 467.1 372.1 465.8 374.9 464.4 377.7 463 380.4 461.5 383.2 459.9 385.9 458.4 388.7 456.9 391.4 455.3 393.9 453.5 396.4 451.6 398.8 449.5 401.1 447.4 403.3 445.2 405.6 443 407.9 440.9 410.2 438.7 412.4 436.6 414.6 434.4 416.8 432.1 419 429.8 421 427.4 422.9 424.9 424.7 422.4 426.5 419.8z" fill="url(#g36)" stroke="url(#g36)" stroke-width=".6"/>
<path d="M412.9 408.6 410.7 410.1 408.5 411.5 406.4 413 404.2 414.5 402.1 416 400 417.6 398 419.3 396.1 421 394.1 422.8 392.2 424.6 390.3 426.4 388.3 428.1 386.3 429.8 384.4 431.5 382.4 433.2 380.3 434.9 378.3 436.5 376.1 438 373.9 439.4 371.6 440.7 369.3 441.9 366.9 443 364.5 444 362.1 445.1 359.7 446.2 357.3 447.2 354.9 448.2 352.4 449 349.9 449.8 347.4 450.5 344.8 451.1 342.3 451.7 339.7 452.2 337.2 452.8 334.6 453.3M426.5 419.8 424.7 422.4 422.9 424.9 421 427.4 419 429.8 416.8 432.1 414.6 434.4 412.4 436.6 410.2 438.7 407.9 440.9 405.6 443 403.3 445.2 401.1 447.4 398.8 449.5 396.4 451.6 393.9 453.5 391.4 455.3 388.7 456.9 385.9 458.4 383.2 459.9 380.4 461.5 377.7 463 374.9 464.4 372.1 465.8 369.2 467.1 366.3 468.2 363.3 469.2 360.3 470 357.3 470.7 354.1 470.9 351 470.7 347.9 470.3 344.8 469.6 341.8 468.8 338.8 467.9 335.8 467" fill="none" stroke="#2c5025" stroke-width=".70" stroke-opacity=".75"/>
<path d="M334.6 453.3 332 453.5 329.4 453.7 326.8 454.1 324.2 454.6 321.7 455.5 319.3 456.5 317 457.7 314.7 459.1 312.6 460.5 310.4 462.1 308.4 463.7 306.3 465.3 304.2 466.9 302.2 468.6 300.2 470.3 298.3 472.1 296.4 473.9 294.6 475.8 292.9 477.8 291.3 479.9 289.9 482.1 288.6 484.4 287.6 486.8 286.8 489.3 296.1 489.9 296.4 487.7 296.7 485.5 297.3 483.4 297.9 481.3 298.7 479.2 299.6 477.2 300.7 475.3 302 473.5 303.6 472 305.5 470.8 307.4 469.8 309.5 469.1 311.6 468.5 313.8 468.1 316 467.8 318.2 467.5 320.4 467.3 322.6 467.1 324.8 467 327 467 329.2 467 331.4 467 333.6 467 335.8 467z" fill="url(#g37)" stroke="url(#g37)" stroke-width=".6"/>
<path d="M334.6 453.3 332 453.5 329.4 453.7 326.8 454.1 324.2 454.6 321.7 455.5 319.3 456.5 317 457.7 314.7 459.1 312.6 460.5 310.4 462.1 308.4 463.7 306.3 465.3 304.2 466.9 302.2 468.6 300.2 470.3 298.3 472.1 296.4 473.9 294.6 475.8 292.9 477.8 291.3 479.9 289.9 482.1 288.6 484.4 287.6 486.8 286.8 489.3M335.8 467 333.6 467 331.4 467 329.2 467 327 467 324.8 467 322.6 467.1 320.4 467.3 318.2 467.5 316 467.8 313.8 468.1 311.6 468.5 309.5 469.1 307.4 469.8 305.5 470.8 303.6 472 302 473.5 300.7 475.3 299.6 477.2 298.7 479.2 297.9 481.3 297.3 483.4 296.7 485.5 296.4 487.7 296.1 489.9" fill="none" stroke="#6c4268" stroke-width=".70" stroke-opacity=".75"/>
<path d="M477.1 229.4L480.2 243.8L488.4 252.6L485.2 262.6L480.9 270.1M488.4 252.6L492.7 250.1" fill="none" stroke="#c9c9c9" stroke-width="2.6" stroke-linejoin="round" stroke-linecap="round"/>
<path d="M422.6 218.8 422.4 221.5 422.1 224.2 421.8 226.9 421.6 229.6 421.3 232.3 421 235 420.7 237.7 420.4 240.4 419.9 243.1 419.5 245.8 419.1 248.5 418.7 251.2 418.5 253.9 418.3 256.6 418.2 259.3 418.3 262 418.5 264.7 418.7 267.4 418.9 270.1 435.1 272.6 435.5 269.7 436 266.8 436.7 264 437.8 261.3 438.9 258.6 439.9 255.8 440.9 253 441.8 250.3 442.8 247.5 443.5 244.7 444 241.8 444.1 238.9 443.9 235.9 443.5 233 443.1 230.1 442.4 227.3 441.7 224.4 440.9 221.6 440.2 218.8z" fill="url(#g38)" stroke="url(#g38)" stroke-width=".6"/>
<path d="M422.6 218.8 422.4 221.5 422.1 224.2 421.8 226.9 421.6 229.6 421.3 232.3 421 235 420.7 237.7 420.4 240.4 419.9 243.1 419.5 245.8 419.1 248.5 418.7 251.2 418.5 253.9 418.3 256.6 418.2 259.3 418.3 262 418.5 264.7 418.7 267.4 418.9 270.1M440.2 218.8 440.9 221.6 441.7 224.4 442.4 227.3 443.1 230.1 443.5 233 443.9 235.9 444.1 238.9 444 241.8 443.5 244.7 442.8 247.5 441.8 250.3 440.9 253 439.9 255.8 438.9 258.6 437.8 261.3 436.7 264 436 266.8 435.5 269.7 435.1 272.6" fill="none" stroke="#794848" stroke-width=".70" stroke-opacity=".75"/>
<path d="M424.4 41.4 425.8 41.8 427.2 42.3 428 43.2 432 38.9 429.7 37.2 426.9 36.6 425 36.6z" fill="#ea5230" stroke="#ea5230" stroke-width=".5"/>
<path d="M428 43.2 429.5 44.8 433.8 40.7 432 38.9z" fill="#ac755f" stroke="#ac755f" stroke-width=".5"/>
<path d="M429.5 44.8 431.4 47 433.7 49.4 435.7 51.1 438.2 52.9 441.4 54.4 443.8 55 446.3 55.4 449 55.6 451.8 55.6 454.6 55.2 457.4 54.3 459.9 53.1 462.3 51.7 464.4 50.3 466.4 48.9 468.9 46.8 470.9 44.6 472.6 42.7 474.3 40.5 468.5 35.8 466.8 37.9 465.3 39.6 463.8 41.3 461.8 43 460.2 44.1 458.3 45.3 456.4 46.5 454.5 47.4 452.9 47.9 451.2 48.2 449.2 48.3 447.1 48.2 445.1 47.9 443.6 47.6 441.6 46.8 439.9 45.7 438.1 44.3 435.8 42.4 433.8 40.7z" fill="#2fbcbe" stroke="#2fbcbe" stroke-width=".5"/>
<path d="M474.3 40.5 476.3 38.1 470.6 33.2 468.5 35.8z" fill="#6d998f" stroke="#6d998f" stroke-width=".5"/>
<path d="M476.3 38.1 477.6 36.7 479.1 35 480.8 33.3 482.5 31.7 484.3 30.3 486.2 29 488.2 27.6 490.3 26.4 492.5 25.4 494.6 24.5 496.5 23.8 498.5 23.3 500.6 22.8 502.6 22.4 504.6 22.2 506.3 22.1 508.5 22.2 510.5 22.4 512.3 22.8 513.8 23.3 515 24 515.9 24.9 516.9 26.2 517.8 27.8 518.7 29.8 519.5 31.8 520.2 33.5 520.7 35.3 521.1 37.2 521.5 39.3 521.8 41.4 522 43.5 522.2 45.7 522.2 48.1 522.1 50.5 522 52.9 521.9 55.3 521.7 57.6 521.4 59.8 521 62 520.6 64.3 520.1 66.4 519.7 68.4 519.3 70.1 518.7 72.8 518.3 74.6 517.7 76.4 517.2 78.1 525.9 81.6 526.6 79.3 527.3 77.4 528 75.2 528.8 72.4 529.2 70.5 529.7 68.5 530.2 66.2 530.6 63.7 531 61.2 531.3 58.6 531.6 56.1 531.8 53.5 531.9 50.8 531.9 48.1 531.9 45.4 531.7 42.7 531.5 40.2 531.1 37.7 530.7 35.2 530.1 32.8 529.4 30.4 528.6 28.2 527.4 25.7 526 23.2 524.4 20.7 522.4 18.5 520 16.5 517.3 15.1 514.5 14.2 511.7 13.7 508.9 13.5 506.2 13.5 503.7 13.7 501.3 14 498.8 14.5 496.3 15.2 493.9 15.9 491.6 16.8 489 18 486.4 19.4 483.9 20.9 481.6 22.4 479.4 24.1 477.3 25.9 475.3 27.9 473.5 29.8 472 31.6 470.6 33.2z" fill="#ea5230" stroke="#ea5230" stroke-width=".5"/>
<path d="M517.2 78.1 516.1 80.4 524.5 84.6 525.9 81.6z" fill="#ac755f" stroke="#ac755f" stroke-width=".5"/>
<path d="M516.1 80.4 515.2 82 514.1 84.1 512.7 86.4 511.2 88.9 509.8 91.3 508.6 93 507.5 94.9 506.2 96.8 504.9 98.7 503.7 100.6 502.4 102.4 501.2 104.2 499.9 106.2 498.5 108.1 497.2 109.9 496 111.7 494.7 113.5 493.5 115.2 491.9 117.1 490.4 119 488.9 120.8 487.4 122.5 486.2 123.9 484 126.3 482.3 128 480.9 129.4 478.6 132.2 490.8 140.8 492.5 138 493.4 136.4 494.7 134 496.3 131.1 497.2 129.4 498.4 127.5 499.6 125.5 500.9 123.3 502.1 121.1 503.3 119.3 504.5 117.4 505.7 115.5 506.9 113.6 508.1 111.6 509.4 109.5 510.5 107.7 511.8 105.8 513 103.9 514.2 101.9 515.4 100 516.6 98 517.7 96.2 519.3 93.7 520.8 91.2 522.2 88.8 523.4 86.6 524.5 84.6z" fill="#2fbcbe" stroke="#2fbcbe" stroke-width=".5"/>
<path d="M478.6 132.2 477.3 133.5 476 135 474.5 136.6 472.9 138.5 471.2 140.4 469.5 142.4 467.8 144.4 466.2 146.5 464.9 148.1 463.6 149.9 462.2 151.7 460.8 153.5 459.4 155.4 458.1 157.3 456.7 159.2 455.3 161 454 162.8 452.7 164.6 451.2 166.8 449.7 169 448.3 171.1 446.8 173.3 445.4 175.4 444.1 177.5 442.8 179.5 441.5 181.5 440.1 184 438.7 186.4 437.5 188.9 436.3 191.1 435.2 193.1 434.4 194.8 433.7 196 455 207.1 455.7 205.9 456.5 204.2 457.6 202.2 458.7 200.1 459.9 197.8 461.1 195.6 462.3 193.5 463.3 191.6 464.4 189.6 465.5 187.5 466.6 185.4 467.9 183.3 469.1 181.1 470.4 178.9 471.7 176.6 472.7 174.8 473.8 172.9 474.9 170.9 476 168.9 477.1 166.9 478.3 164.9 479.4 162.9 480.5 161 481.6 159.1 482.6 157.3 483.8 155 485 152.7 486.1 150.4 487.3 148.1 488.4 146 489.4 144 490.2 142.3 490.8 140.8z" fill="#3f76bd" stroke="#3f76bd" stroke-width=".5"/>
<defs><path id="c39" d="M424.7 39 428.4 39.8 431.6 42.8 435.9 46.9 439.9 49.9 444.5 51.4 449.1 52 453.8 51.6 458.2 49.8 462.3 47.2 466.4 44 469.7 40.3 473.4 35.6 476.3 32.4 479.9 28.8 483.9 25.7 488.4 22.9 493.1 20.6 497.4 19.2 501.9 18.2 506.3 17.8 511.1 18.1 515.6 19.2 519.2 21.7 521.9 25.5 524.1 30 525.4 34.1 526.3 38.5 526.9 43.1 527.1 48.1 526.9 53.2 526.5 58.1 525.8 62.9 524.9 67.4 524.1 71.3 522.8 76 521.5 79.9 519.3 84.3 516.7 88.8 513.8 93.8 511.5 97.4 509 101.3 506.5 105.1 504 108.9 501.4 112.7 499 116.4 496.4 120.2 493.6 124.2 491.3 127.5 487.9 132.2 484.7 136.5 482.7 139.5 480.1 143.3 477.3 147.5 474.4 151.9 472 155.4 469.5 159.2 467 163.1 464.5 166.9 462.2 170.6 459.4 175 456.7 179.4 454.2 183.5 451.9 187.5 449.3 192.1 446.9 196.7 445 200.3"/></defs><use href="#c39" class="hl" stroke-width="8"/><use href="#c39" class="hl" stroke-width="3.9"/>
<path d="M424.4 41.4 425.8 41.8 427.2 42.3 428 43.2M425 36.6 426.9 36.6 429.7 37.2 432 38.9" fill="none" stroke="#9d3720" stroke-width=".70"/>
<path d="M428 43.2 429.5 44.8M432 38.9 433.8 40.7" fill="none" stroke="#734e40" stroke-width=".70"/>
<path d="M429.5 44.8 431.4 47 433.7 49.4 435.7 51.1 438.2 52.9 441.4 54.4 443.8 55 446.3 55.4 449 55.6 451.8 55.6 454.6 55.2 457.4 54.3 459.9 53.1 462.3 51.7 464.4 50.3 466.4 48.9 468.9 46.8 470.9 44.6 472.6 42.7 474.3 40.5M433.8 40.7 435.8 42.4 438.1 44.3 439.9 45.7 441.6 46.8 443.6 47.6 445.1 47.9 447.1 48.2 449.2 48.3 451.2 48.2 452.9 47.9 454.5 47.4 456.4 46.5 458.3 45.3 460.2 44.1 461.8 43 463.8 41.3 465.3 39.6 466.8 37.9 468.5 35.8" fill="none" stroke="#1f7e7f" stroke-width=".70"/>
<path d="M474.3 40.5 476.3 38.1M468.5 35.8 470.6 33.2" fill="none" stroke="#496760" stroke-width=".70"/>
<path d="M476.3 38.1 477.6 36.7 479.1 35 480.8 33.3 482.5 31.7 484.3 30.3 486.2 29 488.2 27.6 490.3 26.4 492.5 25.4 494.6 24.5 496.5 23.8 498.5 23.3 500.6 22.8 502.6 22.4 504.6 22.2 506.3 22.1 508.5 22.2 510.5 22.4 512.3 22.8 513.8 23.3 515 24 515.9 24.9 516.9 26.2 517.8 27.8 518.7 29.8 519.5 31.8 520.2 33.5 520.7 35.3 521.1 37.2 521.5 39.3 521.8 41.4 522 43.5 522.2 45.7 522.2 48.1 522.1 50.5 522 52.9 521.9 55.3 521.7 57.6 521.4 59.8 521 62 520.6 64.3 520.1 66.4 519.7 68.4 519.3 70.1 518.7 72.8 518.3 74.6 517.7 76.4 517.2 78.1M470.6 33.2 472 31.6 473.5 29.8 475.3 27.9 477.3 25.9 479.4 24.1 481.6 22.4 483.9 20.9 486.4 19.4 489 18 491.6 16.8 493.9 15.9 496.3 15.2 498.8 14.5 501.3 14 503.7 13.7 506.2 13.5 508.9 13.5 511.7 13.7 514.5 14.2 517.3 15.1 520 16.5 522.4 18.5 524.4 20.7 526 23.2 527.4 25.7 528.6 28.2 529.4 30.4 530.1 32.8 530.7 35.2 531.1 37.7 531.5 40.2 531.7 42.7 531.9 45.4 531.9 48.1 531.9 50.8 531.8 53.5 531.6 56.1 531.3 58.6 531 61.2 530.6 63.7 530.2 66.2 529.7 68.5 529.2 70.5 528.8 72.4 528 75.2 527.3 77.4 526.6 79.3 525.9 81.6" fill="none" stroke="#9d3720" stroke-width=".70"/>
<path d="M517.2 78.1 516.1 80.4M525.9 81.6 524.5 84.6" fill="none" stroke="#734e40" stroke-width=".70"/>
<path d="M516.1 80.4 515.2 82 514.1 84.1 512.7 86.4 511.2 88.9 509.8 91.3 508.6 93 507.5 94.9 506.2 96.8 504.9 98.7 503.7 100.6 502.4 102.4 501.2 104.2 499.9 106.2 498.5 108.1 497.2 109.9 496 111.7 494.7 113.5 493.5 115.2 491.9 117.1 490.4 119 488.9 120.8 487.4 122.5 486.2 123.9 484 126.3 482.3 128 480.9 129.4 478.6 132.2M524.5 84.6 523.4 86.6 522.2 88.8 520.8 91.2 519.3 93.7 517.7 96.2 516.6 98 515.4 100 514.2 101.9 513 103.9 511.8 105.8 510.5 107.7 509.4 109.5 508.1 111.6 506.9 113.6 505.7 115.5 504.5 117.4 503.3 119.3 502.1 121.1 500.9 123.3 499.6 125.5 498.4 127.5 497.2 129.4 496.3 131.1 494.7 134 493.4 136.4 492.5 138 490.8 140.8" fill="none" stroke="#1f7e7f" stroke-width=".70"/>
<path d="M478.6 132.2 477.3 133.5 476 135 474.5 136.6 472.9 138.5 471.2 140.4 469.5 142.4 467.8 144.4 466.2 146.5 464.9 148.1 463.6 149.9 462.2 151.7 460.8 153.5 459.4 155.4 458.1 157.3 456.7 159.2 455.3 161 454 162.8 452.7 164.6 451.2 166.8 449.7 169 448.3 171.1 446.8 173.3 445.4 175.4 444.1 177.5 442.8 179.5 441.5 181.5 440.1 184 438.7 186.4 437.5 188.9 436.3 191.1 435.2 193.1 434.4 194.8 433.7 196M490.8 140.8 490.2 142.3 489.4 144 488.4 146 487.3 148.1 486.1 150.4 485 152.7 483.8 155 482.6 157.3 481.6 159.1 480.5 161 479.4 162.9 478.3 164.9 477.1 166.9 476 168.9 474.9 170.9 473.8 172.9 472.7 174.8 471.7 176.6 470.4 178.9 469.1 181.1 467.9 183.3 466.6 185.4 465.5 187.5 464.4 189.6 463.3 191.6 462.3 193.5 461.1 195.6 459.9 197.8 458.7 200.1 457.6 202.2 456.5 204.2 455.7 205.9 455 207.1" fill="none" stroke="#2a4f7f" stroke-width=".70"/>
<path d="M494 137.6 494.4 140.1 494.8 142.7 495.2 145.3 495.7 147.8 496.2 150.4 496.8 152.9 497.5 155.4 498.3 157.9 499.2 160.4 500.2 162.8 501.2 165.2 502.2 167.6 503.2 169.9 504.3 172.3 505.4 174.7 506.4 177.1 507.5 179.5 508.5 181.8 509.5 184.2 510.6 186.6 511.6 189 512.6 191.4 513.7 193.8 514.7 196.2 515.8 198.5 516.9 200.9 518 203.3 519.2 205.6 520.4 207.9 521.6 210.2 542.2 207.7 542.6 205.4 543.1 203.1 543.5 200.8 543.8 198.5 544.1 196.1 544.2 193.8 543.9 191.5 543.3 189.2 542.5 187 541.4 184.9 540.4 182.8 539.3 180.7 538.3 178.6 537.3 176.5 536.1 174.4 535 172.4 533.9 170.3 532.8 168.3 531.7 166.2 530.7 164.1 529.8 161.9 528.9 159.7 528.3 157.5 527.7 155.2 527.2 152.9 526.8 150.6 526.4 148.3 526 146 525.7 143.6 525.3 141.3z" fill="url(#g40)" stroke="url(#g40)" stroke-width=".6"/>
<path d="M494 137.6 494.4 140.1 494.8 142.7 495.2 145.3 495.7 147.8 496.2 150.4 496.8 152.9 497.5 155.4 498.3 157.9 499.2 160.4 500.2 162.8 501.2 165.2 502.2 167.6 503.2 169.9 504.3 172.3 505.4 174.7 506.4 177.1 507.5 179.5 508.5 181.8 509.5 184.2 510.6 186.6 511.6 189 512.6 191.4 513.7 193.8 514.7 196.2 515.8 198.5 516.9 200.9 518 203.3 519.2 205.6 520.4 207.9 521.6 210.2M525.3 141.3 525.7 143.6 526 146 526.4 148.3 526.8 150.6 527.2 152.9 527.7 155.2 528.3 157.5 528.9 159.7 529.8 161.9 530.7 164.1 531.7 166.2 532.8 168.3 533.9 170.3 535 172.4 536.1 174.4 537.3 176.5 538.3 178.6 539.3 180.7 540.4 182.8 541.4 184.9 542.5 187 543.3 189.2 543.9 191.5 544.2 193.8 544.1 196.1 543.8 198.5 543.5 200.8 543.1 203.1 542.6 205.4 542.2 207.7" fill="none" stroke="#0d1826" stroke-width=".70" stroke-opacity=".75"/>
<path d="M493.5 133 495.6 131.6 497.8 130.1 499.9 128.6 502 127.2 504.2 125.8 506.4 124.5 508.7 123.3 511.1 122.2 513.4 121.2 515.9 120.3 518.3 119.5 520.8 118.7 523.3 118 525.8 117.4 528.3 116.8 530.8 116.4 533.4 116.2 536 116.2 538.5 116.6 541 117.5 543.3 118.5 545.7 119.5 548 120.7 550.2 122 552.5 123.3 554.6 124.7 556.8 126.1 558.9 127.6 560.9 129.2 562.8 131 564.5 132.9 566.2 134.9 567.8 136.9 569.5 138.8 571.3 140.6 573.3 142.3 575.3 144 577.3 145.5 579.4 147.1 581.6 148.5 583.8 149.7 586.3 150.6 588.8 151 591.4 150.8 593.9 150.5 596.5 149.9 598.9 149 601.3 148.1 602.2 148.5 601 150.7 599.8 152.9 598.4 155 596.7 156.8 594.8 158.5 592.8 160 590.6 161.3 588.3 162.1 585.8 162.5 583.3 162.5 580.8 162.3 578.3 161.9 575.8 161.5 573.4 160.9 570.9 160.3 568.5 159.5 566.2 158.7 563.8 157.8 561.5 156.8 559.2 155.9 556.9 154.9 554.6 153.8 552.3 152.8 550 151.7 547.8 150.6 545.5 149.5 543.3 148.4 541 147.3 538.8 146.1 536.6 144.9 534.4 143.7 532.2 142.5 529.9 141.4 527.6 140.4 525.2 139.7 522.7 139.1 520.3 138.7 517.8 138.3 515.3 138.1 512.8 137.8 510.3 137.6 507.8 137.4 505.3 137.3 502.7 137.2 500.2 137.1 497.7 137 495.2 137 492.7 136.9z" fill="url(#g41)" stroke="url(#g41)" stroke-width=".6"/>
<path d="M493.5 133 495.6 131.6 497.8 130.1 499.9 128.6 502 127.2 504.2 125.8 506.4 124.5 508.7 123.3 511.1 122.2 513.4 121.2 515.9 120.3 518.3 119.5 520.8 118.7 523.3 118 525.8 117.4 528.3 116.8 530.8 116.4 533.4 116.2 536 116.2 538.5 116.6 541 117.5 543.3 118.5 545.7 119.5 548 120.7 550.2 122 552.5 123.3 554.6 124.7 556.8 126.1 558.9 127.6 560.9 129.2 562.8 131 564.5 132.9 566.2 134.9 567.8 136.9 569.5 138.8 571.3 140.6 573.3 142.3 575.3 144 577.3 145.5 579.4 147.1 581.6 148.5 583.8 149.7 586.3 150.6 588.8 151 591.4 150.8 593.9 150.5 596.5 149.9 598.9 149 601.3 148.1 602.2 148.5 601 150.7 599.8 152.9 598.4 155 596.7 156.8 594.8 158.5 592.8 160 590.6 161.3 588.3 162.1 585.8 162.5 583.3 162.5 580.8 162.3 578.3 161.9 575.8 161.5 573.4 160.9 570.9 160.3 568.5 159.5 566.2 158.7 563.8 157.8 561.5 156.8 559.2 155.9 556.9 154.9 554.6 153.8 552.3 152.8 550 151.7 547.8 150.6 545.5 149.5 543.3 148.4 541 147.3 538.8 146.1 536.6 144.9 534.4 143.7 532.2 142.5 529.9 141.4 527.6 140.4 525.2 139.7 522.7 139.1 520.3 138.7 517.8 138.3 515.3 138.1 512.8 137.8 510.3 137.6 507.8 137.4 505.3 137.3 502.7 137.2 500.2 137.1 497.7 137 495.2 137 492.7 136.9z" fill="url(#g42)"/>
<path d="M493.5 133 495.6 131.6 497.8 130.1 499.9 128.6 502 127.2 504.2 125.8 506.4 124.5 508.7 123.3 511.1 122.2 513.4 121.2 515.9 120.3 518.3 119.5 520.8 118.7 523.3 118 525.8 117.4 528.3 116.8 530.8 116.4 533.4 116.2 536 116.2 538.5 116.6 541 117.5 543.3 118.5 545.7 119.5 548 120.7 550.2 122 552.5 123.3 554.6 124.7 556.8 126.1 558.9 127.6 560.9 129.2 562.8 131 564.5 132.9 566.2 134.9 567.8 136.9 569.5 138.8 571.3 140.6 573.3 142.3 575.3 144 577.3 145.5 579.4 147.1 581.6 148.5 583.8 149.7 586.3 150.6 588.8 151 591.4 150.8 593.9 150.5 596.5 149.9 598.9 149 601.3 148.1M492.7 136.9 495.2 137 497.7 137 500.2 137.1 502.7 137.2 505.3 137.3 507.8 137.4 510.3 137.6 512.8 137.8 515.3 138.1 517.8 138.3 520.3 138.7 522.7 139.1 525.2 139.7 527.6 140.4 529.9 141.4 532.2 142.5 534.4 143.7 536.6 144.9 538.8 146.1 541 147.3 543.3 148.4 545.5 149.5 547.8 150.6 550 151.7 552.3 152.8 554.6 153.8 556.9 154.9 559.2 155.9 561.5 156.8 563.8 157.8 566.2 158.7 568.5 159.5 570.9 160.3 573.4 160.9 575.8 161.5 578.3 161.9 580.8 162.3 583.3 162.5 585.8 162.5 588.3 162.1 590.6 161.3 592.8 160 594.8 158.5 596.7 156.8 598.4 155 599.8 152.9 601 150.7 602.2 148.5" fill="none" stroke="#000000" stroke-width=".90" stroke-opacity=".75"/>
<path d="M430.1 211.3 430.5 213.9 431.2 216.4 432 218.9 433.1 221.3 434.3 223.6 435.5 225.9 436.7 228.3 437.9 230.6 439.1 232.9 440.3 235.3 441.4 237.6 442.6 240 443.8 242.3 444.9 244.6 446.1 247 447.3 249.3 448.5 251.7 449.7 254 450.9 256.3 452.1 258.6 453.3 261 454.4 263.3 455.4 265.8 456.3 268.2 457.2 270.7 457.9 273.2 458.7 275.7 459.5 278.2 460.4 280.7 461.5 283 462.7 285.4 463.9 287.7 477.7 285.2 478.4 283 479 280.9 479.5 278.8 479.9 276.6 480.2 274.4 480.4 272.2 480.6 270 480.6 267.8 480.5 265.5 480.3 263.3 479.9 261.2 479.4 259 478.8 256.9 478.3 254.7 477.7 252.6 477.1 250.4 476.5 248.3 475.9 246.2 475.3 244 474.6 241.9 474 239.8 473.4 237.7 472.7 235.6 472.1 233.4 471.4 231.3 470.8 229.2 470.1 227.1 469.6 224.9 469 222.8 468.6 220.6 468.1 218.5 467.7 216.3z" fill="url(#g43)" stroke="url(#g43)" stroke-width=".6"/>
<path d="M430.1 211.3 430.5 213.9 431.2 216.4 432 218.9 433.1 221.3 434.3 223.6 435.5 225.9 436.7 228.3 437.9 230.6 439.1 232.9 440.3 235.3 441.4 237.6 442.6 240 443.8 242.3 444.9 244.6 446.1 247 447.3 249.3 448.5 251.7 449.7 254 450.9 256.3 452.1 258.6 453.3 261 454.4 263.3 455.4 265.8 456.3 268.2 457.2 270.7 457.9 273.2 458.7 275.7 459.5 278.2 460.4 280.7 461.5 283 462.7 285.4 463.9 287.7M467.7 216.3 468.1 218.5 468.6 220.6 469 222.8 469.6 224.9 470.1 227.1 470.8 229.2 471.4 231.3 472.1 233.4 472.7 235.6 473.4 237.7 474 239.8 474.6 241.9 475.3 244 475.9 246.2 476.5 248.3 477.1 250.4 477.7 252.6 478.3 254.7 478.8 256.9 479.4 259 479.9 261.2 480.3 263.3 480.5 265.5 480.6 267.8 480.6 270 480.4 272.2 480.2 274.4 479.9 276.6 479.5 278.8 479 280.9 478.4 283 477.7 285.2" fill="none" stroke="#060c13" stroke-width=".70" stroke-opacity=".75"/>
<path d="M423.2 211.3 424.5 209 425.7 206.7 427.1 204.5 428.7 202.5 430.5 200.6 432.4 198.9 434.4 197.3 436.4 195.7 438.5 194.1 440.5 192.5 442.6 190.9 444.7 189.5 446.9 188.1 449.3 187.1 451.8 186.4 454.3 186.2 456.9 186.4 459.4 186.9 461.8 188 464.1 189.2 466.4 190.2 468.8 191.2 471.2 192.3 473.6 193.3 476 194.3 478.4 195.3 480.8 196.2 483.2 197.1 485.7 197.9 488.1 198.6 490.6 199.3 493.1 199.9 495.7 200.5 498.2 201.1 500.7 201.7 503.2 202.3 505.7 202.9 508.3 203.5 510.7 204.1 513.2 204.9 515.7 205.7 518.1 206.6 520.5 207.5 523 208.2 525.5 208.8 528.1 208.9 530.6 208.2 532.8 206.8 534.8 205.3 536.8 203.6 538.5 201.6 540.1 199.6 541.6 197.5 541.6 207.5 540.6 210 539.7 212.5 538.7 215 537.7 217.4 536.6 219.9 535.5 222.3 534.2 224.6 532.7 226.8 531.2 229 529.5 231 527.7 232.9 525.5 234.5 523.2 235.7 520.6 236.3 517.9 236.4 515.3 236 512.7 235.5 510 235 507.4 234.5 504.8 234 502.2 233.5 499.6 233 497 232.4 494.4 231.9 491.8 231.4 489.2 230.9 486.6 230.4 483.9 229.9 481.3 229.5 478.7 229 476.1 228.4 473.5 227.8 471 227 468.5 226 466.1 225 463.6 223.9 461.2 222.8 458.8 221.7 456.3 220.8 453.8 219.9 451.2 219.2 448.6 218.9 445.9 218.8 443.3 219.1 440.6 219.5 438 219.9 435.4 220 432.7 219.8 430.1 219.2 427.6 218.2 425.5 216.7 424.2 214.4 423.2 211.9z" fill="url(#g44)" stroke="url(#g44)" stroke-width=".6"/>
<path d="M423.2 211.3 424.5 209 425.7 206.7 427.1 204.5 428.7 202.5 430.5 200.6 432.4 198.9 434.4 197.3 436.4 195.7 438.5 194.1 440.5 192.5 442.6 190.9 444.7 189.5 446.9 188.1 449.3 187.1 451.8 186.4 454.3 186.2 456.9 186.4 459.4 186.9 461.8 188 464.1 189.2 466.4 190.2 468.8 191.2 471.2 192.3 473.6 193.3 476 194.3 478.4 195.3 480.8 196.2 483.2 197.1 485.7 197.9 488.1 198.6 490.6 199.3 493.1 199.9 495.7 200.5 498.2 201.1 500.7 201.7 503.2 202.3 505.7 202.9 508.3 203.5 510.7 204.1 513.2 204.9 515.7 205.7 518.1 206.6 520.5 207.5 523 208.2 525.5 208.8 528.1 208.9 530.6 208.2 532.8 206.8 534.8 205.3 536.8 203.6 538.5 201.6 540.1 199.6 541.6 197.5 541.6 207.5 540.6 210 539.7 212.5 538.7 215 537.7 217.4 536.6 219.9 535.5 222.3 534.2 224.6 532.7 226.8 531.2 229 529.5 231 527.7 232.9 525.5 234.5 523.2 235.7 520.6 236.3 517.9 236.4 515.3 236 512.7 235.5 510 235 507.4 234.5 504.8 234 502.2 233.5 499.6 233 497 232.4 494.4 231.9 491.8 231.4 489.2 230.9 486.6 230.4 483.9 229.9 481.3 229.5 478.7 229 476.1 228.4 473.5 227.8 471 227 468.5 226 466.1 225 463.6 223.9 461.2 222.8 458.8 221.7 456.3 220.8 453.8 219.9 451.2 219.2 448.6 218.9 445.9 218.8 443.3 219.1 440.6 219.5 438 219.9 435.4 220 432.7 219.8 430.1 219.2 427.6 218.2 425.5 216.7 424.2 214.4 423.2 211.9z" fill="url(#g45)"/>
<path d="M423.2 211.3 424.5 209 425.7 206.7 427.1 204.5 428.7 202.5 430.5 200.6 432.4 198.9 434.4 197.3 436.4 195.7 438.5 194.1 440.5 192.5 442.6 190.9 444.7 189.5 446.9 188.1 449.3 187.1 451.8 186.4 454.3 186.2 456.9 186.4 459.4 186.9 461.8 188 464.1 189.2 466.4 190.2 468.8 191.2 471.2 192.3 473.6 193.3 476 194.3 478.4 195.3 480.8 196.2 483.2 197.1 485.7 197.9 488.1 198.6 490.6 199.3 493.1 199.9 495.7 200.5 498.2 201.1 500.7 201.7 503.2 202.3 505.7 202.9 508.3 203.5 510.7 204.1 513.2 204.9 515.7 205.7 518.1 206.6 520.5 207.5 523 208.2 525.5 208.8 528.1 208.9 530.6 208.2 532.8 206.8 534.8 205.3 536.8 203.6 538.5 201.6 540.1 199.6 541.6 197.5M423.2 211.9 424.2 214.4 425.5 216.7 427.6 218.2 430.1 219.2 432.7 219.8 435.4 220 438 219.9 440.6 219.5 443.3 219.1 445.9 218.8 448.6 218.9 451.2 219.2 453.8 219.9 456.3 220.8 458.8 221.7 461.2 222.8 463.6 223.9 466.1 225 468.5 226 471 227 473.5 227.8 476.1 228.4 478.7 229 481.3 229.5 483.9 229.9 486.6 230.4 489.2 230.9 491.8 231.4 494.4 231.9 497 232.4 499.6 233 502.2 233.5 504.8 234 507.4 234.5 510 235 512.7 235.5 515.3 236 517.9 236.4 520.6 236.3 523.2 235.7 525.5 234.5 527.7 232.9 529.5 231 531.2 229 532.7 226.8 534.2 224.6 535.5 222.3 536.6 219.9 537.7 217.4 538.7 215 539.7 212.5 540.6 210 541.6 207.5" fill="none" stroke="#000000" stroke-width=".90" stroke-opacity=".75"/>
<path d="M364.4 280.2 364.6 277.6 365.2 275 366.3 272.7 367.7 270.5 369.2 268.4 371 266.4 373 264.8 375.2 263.4 377.5 262.3 379.9 261.3 382.4 260.6 385 260.1 387.6 260.1 390.2 260.4 392.8 260.8 395.3 261.4 397.8 262.1 400.3 262.7 402.9 263.3 405.4 264 407.9 264.8 410.4 265.6 412.8 266.4 415.3 267.2 417.7 268.1 420.2 269 422.6 270 425 270.9 427.5 271.9 429.9 272.9 432.3 273.9 434.7 274.9 437 276 439.3 277.3 441.6 278.5 443.9 279.8 446.2 280.9 448.7 281.7 451.2 282.3 453.8 282.7 456.4 282.9 459 282.8 461.6 282.4 464.1 281.7 466.5 280.8 468.9 279.8 471.2 278.5 473.4 277.1 475.4 275.4 477.1 273.5 478.8 271.5 480.5 269.5 481 272.6 480.4 275.4 479.8 278.1 479.2 280.8 478.4 283.5 477.3 286 476.1 288.5 474.7 291 473.3 293.3 471.7 295.7 470 297.9 468.3 300.1 466.5 302.2 464.6 304.2 462.5 306.1 460.2 307.7 457.8 309 455.2 309.9 452.5 310.7 449.7 311.2 447 311.5 444.2 311.6 441.4 311.4 438.7 311 435.9 310.4 433.2 309.6 430.6 308.7 428.1 307.6 425.5 306.4 423 305.3 420.4 304.3 417.8 303.2 415.3 302.1 412.7 301.1 410.1 300 407.5 299 404.9 298 402.2 297.2 399.6 296.4 396.9 295.7 394.2 295 391.4 294.4 388.7 293.7 386.1 293 383.4 292.1 380.8 291.2 378.2 290.1 375.6 289 373.1 287.9 370.5 286.8 368.1 285.5 366 283.6 364.4 281.4z" fill="url(#g46)" stroke="url(#g46)" stroke-width=".6"/>
<path d="M364.4 280.2 364.6 277.6 365.2 275 366.3 272.7 367.7 270.5 369.2 268.4 371 266.4 373 264.8 375.2 263.4 377.5 262.3 379.9 261.3 382.4 260.6 385 260.1 387.6 260.1 390.2 260.4 392.8 260.8 395.3 261.4 397.8 262.1 400.3 262.7 402.9 263.3 405.4 264 407.9 264.8 410.4 265.6 412.8 266.4 415.3 267.2 417.7 268.1 420.2 269 422.6 270 425 270.9 427.5 271.9 429.9 272.9 432.3 273.9 434.7 274.9 437 276 439.3 277.3 441.6 278.5 443.9 279.8 446.2 280.9 448.7 281.7 451.2 282.3 453.8 282.7 456.4 282.9 459 282.8 461.6 282.4 464.1 281.7 466.5 280.8 468.9 279.8 471.2 278.5 473.4 277.1 475.4 275.4 477.1 273.5 478.8 271.5 480.5 269.5 481 272.6 480.4 275.4 479.8 278.1 479.2 280.8 478.4 283.5 477.3 286 476.1 288.5 474.7 291 473.3 293.3 471.7 295.7 470 297.9 468.3 300.1 466.5 302.2 464.6 304.2 462.5 306.1 460.2 307.7 457.8 309 455.2 309.9 452.5 310.7 449.7 311.2 447 311.5 444.2 311.6 441.4 311.4 438.7 311 435.9 310.4 433.2 309.6 430.6 308.7 428.1 307.6 425.5 306.4 423 305.3 420.4 304.3 417.8 303.2 415.3 302.1 412.7 301.1 410.1 300 407.5 299 404.9 298 402.2 297.2 399.6 296.4 396.9 295.7 394.2 295 391.4 294.4 388.7 293.7 386.1 293 383.4 292.1 380.8 291.2 378.2 290.1 375.6 289 373.1 287.9 370.5 286.8 368.1 285.5 366 283.6 364.4 281.4z" fill="url(#g47)"/>
<path d="M364.4 280.2 364.6 277.6 365.2 275 366.3 272.7 367.7 270.5 369.2 268.4 371 266.4 373 264.8 375.2 263.4 377.5 262.3 379.9 261.3 382.4 260.6 385 260.1 387.6 260.1 390.2 260.4 392.8 260.8 395.3 261.4 397.8 262.1 400.3 262.7 402.9 263.3 405.4 264 407.9 264.8 410.4 265.6 412.8 266.4 415.3 267.2 417.7 268.1 420.2 269 422.6 270 425 270.9 427.5 271.9 429.9 272.9 432.3 273.9 434.7 274.9 437 276 439.3 277.3 441.6 278.5 443.9 279.8 446.2 280.9 448.7 281.7 451.2 282.3 453.8 282.7 456.4 282.9 459 282.8 461.6 282.4 464.1 281.7 466.5 280.8 468.9 279.8 471.2 278.5 473.4 277.1 475.4 275.4 477.1 273.5 478.8 271.5 480.5 269.5M364.4 281.4 366 283.6 368.1 285.5 370.5 286.8 373.1 287.9 375.6 289 378.2 290.1 380.8 291.2 383.4 292.1 386.1 293 388.7 293.7 391.4 294.4 394.2 295 396.9 295.7 399.6 296.4 402.2 297.2 404.9 298 407.5 299 410.1 300 412.7 301.1 415.3 302.1 417.8 303.2 420.4 304.3 423 305.3 425.5 306.4 428.1 307.6 430.6 308.7 433.2 309.6 435.9 310.4 438.7 311 441.4 311.4 444.2 311.6 447 311.5 449.7 311.2 452.5 310.7 455.2 309.9 457.8 309 460.2 307.7 462.5 306.1 464.6 304.2 466.5 302.2 468.3 300.1 470 297.9 471.7 295.7 473.3 293.3 474.7 291 476.1 288.5 477.3 286 478.4 283.5 479.2 280.8 479.8 278.1 480.4 275.4 481 272.6" fill="none" stroke="#000000" stroke-width=".90" stroke-opacity=".75"/>
<path d="M362.1 275 362.5 277.6 363.4 280 364.4 282.4 365.4 284.7 366.6 287.1 367.8 289.4 369.1 291.6 370.5 293.8 372 295.8 373.6 297.8 375.3 299.8 377 301.8 378.6 303.8 380.3 305.8 381.9 307.8 383.5 309.8 385.2 311.7 386.8 313.8 388.4 315.8 389.9 317.9 391.3 320 392.7 322.2 394 324.4 395.3 326.7 396.5 329 397.7 331.3 398.7 333.7 399.7 336.1 400.6 338.5 401.4 340.9 402.3 343.3 403 345.8 403.7 348.3 404.3 350.8 405 365.7 405.5 363.3 406 360.8 406.5 358.4 407 356 407.5 353.5 408 351.1 408.5 348.6 409 346.2 409.5 343.8 410 341.3 410.5 338.9 411 336.4 411.5 334 411.9 331.5 412.3 329.1 412.7 326.6 413 324.1 413.1 321.7 413 319.2 412.6 316.7 412 314.3 411.2 311.9 410.3 309.6 409.3 307.3 408.1 305.1 406.8 303 405.4 301 404 298.9 402.5 296.9 400.9 295 399.4 293.1 397.7 291.2 396.1 289.3 394.4 287.5z" fill="url(#g48)" stroke="url(#g48)" stroke-width=".6"/>
<path d="M362.1 275 362.5 277.6 363.4 280 364.4 282.4 365.4 284.7 366.6 287.1 367.8 289.4 369.1 291.6 370.5 293.8 372 295.8 373.6 297.8 375.3 299.8 377 301.8 378.6 303.8 380.3 305.8 381.9 307.8 383.5 309.8 385.2 311.7 386.8 313.8 388.4 315.8 389.9 317.9 391.3 320 392.7 322.2 394 324.4 395.3 326.7 396.5 329 397.7 331.3 398.7 333.7 399.7 336.1 400.6 338.5 401.4 340.9 402.3 343.3 403 345.8 403.7 348.3 404.3 350.8M394.4 287.5 396.1 289.3 397.7 291.2 399.4 293.1 400.9 295 402.5 296.9 404 298.9 405.4 301 406.8 303 408.1 305.1 409.3 307.3 410.3 309.6 411.2 311.9 412 314.3 412.6 316.7 413 319.2 413.1 321.7 413 324.1 412.7 326.6 412.3 329.1 411.9 331.5 411.5 334 411 336.4 410.5 338.9 410 341.3 409.5 343.8 409 346.2 408.5 348.6 408 351.1 407.5 353.5 407 356 406.5 358.4 406 360.8 405.5 363.3 405 365.7" fill="none" stroke="#0d1826" stroke-width=".70" stroke-opacity=".75"/>
<path d="M317.6 380.9 318.4 378.4 319.3 376 320.3 373.6 321.5 371.3 323.2 369.4 325.7 368.7 328.3 368.8 330.8 369.2 333.4 369.6 335.9 369.9 338.5 370.2 341.1 370.4 343.7 370.6 346.3 370.7 348.8 370.7 351.4 370.5 354 370.1 356.5 369.7 359 369.1 361.5 368.4 364 367.6 366.4 366.7 368.8 365.7 371.2 364.7 373.5 363.7 375.9 362.6 378.2 361.5 380.5 360.3 382.8 359.1 385.1 358 387.4 356.8 389.7 355.6 392 354.5 394.4 353.3 396.7 352.2 399 351.1 401.4 350 403.7 348.9 405 366.3 403.4 368.2 401.8 369.9 400 371.5 397.8 372.5 395.5 372.8 393.1 373 390.7 373.4 388.4 373.9 386 374.4 383.7 374.9 381.4 375.5 379.1 376.1 376.8 376.8 374.5 377.5 372.2 378.2 369.9 378.9 367.6 379.6 365.4 380.4 363.1 381.1 360.8 381.9 358.5 382.6 356.2 383.1 353.8 383.3 351.4 383.4 349 383.4 346.6 383.3 344.2 383.1 341.9 383 339.5 382.8 337.1 382.5 334.7 382.2 332.3 381.9 329.9 381.8 327.6 381.9 325.2 382 322.8 382.1 320.4 381.9 318 381.6z" fill="url(#g49)" stroke="url(#g49)" stroke-width=".6"/>
<path d="M317.6 380.9 318.4 378.4 319.3 376 320.3 373.6 321.5 371.3 323.2 369.4 325.7 368.7 328.3 368.8 330.8 369.2 333.4 369.6 335.9 369.9 338.5 370.2 341.1 370.4 343.7 370.6 346.3 370.7 348.8 370.7 351.4 370.5 354 370.1 356.5 369.7 359 369.1 361.5 368.4 364 367.6 366.4 366.7 368.8 365.7 371.2 364.7 373.5 363.7 375.9 362.6 378.2 361.5 380.5 360.3 382.8 359.1 385.1 358 387.4 356.8 389.7 355.6 392 354.5 394.4 353.3 396.7 352.2 399 351.1 401.4 350 403.7 348.9M318 381.6 320.4 381.9 322.8 382.1 325.2 382 327.6 381.9 329.9 381.8 332.3 381.9 334.7 382.2 337.1 382.5 339.5 382.8 341.9 383 344.2 383.1 346.6 383.3 349 383.4 351.4 383.4 353.8 383.3 356.2 383.1 358.5 382.6 360.8 381.9 363.1 381.1 365.4 380.4 367.6 379.6 369.9 378.9 372.2 378.2 374.5 377.5 376.8 376.8 379.1 376.1 381.4 375.5 383.7 374.9 386 374.4 388.4 373.9 390.7 373.4 393.1 373 395.5 372.8 397.8 372.5 400 371.5 401.8 369.9 403.4 368.2 405 366.3" fill="none" stroke="#000000" stroke-width=".90" stroke-opacity=".75"/>
<path d="M427 39.7 426.3 41.7 425.4 44.5 424.3 47.6 423.6 49.5 422.8 51.6 421.8 53.8 420.9 56.2 420 58.5 419.3 60.9 418.5 63.3 417.8 65.7 417.2 67.9 416.6 70.1 415.9 73.1 415.3 75.7 414.9 77.8 414.6 79.6 424.9 81.2 425.1 79.7 425.4 77.6 425.8 75.2 426.4 72.4 426.9 70.5 427.4 68.4 428 66.1 428.7 63.7 429.3 61.5 429.9 59.2 430.6 56.9 431.3 54.5 432 52.2 432.6 49.9 433.2 46.3 433.5 43.1 433.6 41z" fill="#b04cae" stroke="#b04cae" stroke-width=".5"/>
<path d="M414.6 79.6 414.2 81.9 424.7 83.1 424.9 81.2z" fill="#8a708b" stroke="#8a708b" stroke-width=".5"/>
<path d="M414.2 81.9 414 83.8 413.8 85.9 413.5 88.2 413.2 90.5 412.8 92.7 412.3 94.6 411.8 96.6 411.2 98.7 410.5 100.9 409.8 102.9 409.1 104.9 408.3 106.9 407.5 108.9 406.7 110.8 405.9 112.7 405 114.4 404 116.1 402.9 117.7 401.7 119.4 400.3 121.1 398.9 122.7 397.5 124.3 396.4 125.6 394.5 127.7 392.8 129.2 391.2 130.7 389.2 132.5 396.6 139.9 398.2 138.6 399.8 137.2 401.9 135.5 404.2 133.1 405.6 131.6 407.1 130 408.7 128.2 410.4 126.3 412 124.2 413.5 122.1 414.8 119.9 415.9 117.7 417 115.4 417.9 113.2 418.8 111 419.7 108.8 420.4 106.5 421.2 104.1 421.8 101.8 422.5 99.4 423 97.1 423.5 94.8 423.9 92 424.2 89.3 424.4 86.8 424.5 84.7 424.7 83.1z" fill="#3fb946" stroke="#3fb946" stroke-width=".5"/>
<path d="M389.2 132.5 387 135.1 394.9 141.7 396.6 139.9z" fill="#659569" stroke="#659569" stroke-width=".5"/>
<path d="M387 135.1 385.7 136.9 384.3 138.9 382.9 141.1 381.5 143.4 380.2 145.7 378.9 148 377.8 150.4 376.7 152.7 375.6 155 374.6 157.3 373.5 159.5 372.3 161.9 371.2 164.2 370 166.5 369 168.8 368 171.4 367.1 173.8 366.3 176 365.4 178.3 364.5 180.4 363.5 182.6 362.6 184.8 361.6 186.7 360.9 188.2 359.4 190.7 366.8 195.1 368.4 192.4 369.4 190.4 370.4 188.3 371.4 186.1 372.4 183.8 373.4 181.7 374.4 179.2 375.3 176.9 376.2 174.8 377.2 172.5 378.2 170.5 379.3 168.3 380.5 166.1 381.7 163.8 382.9 161.5 384.1 159.2 385.3 156.9 386.4 154.6 387.5 152.5 388.6 150.6 389.9 148.6 391.2 146.6 392.6 144.7 393.9 142.9 394.9 141.7z" fill="#b04cae" stroke="#b04cae" stroke-width=".5"/>
<path d="M359.4 190.7 358 193.1 365.8 196.9 366.8 195.1z" fill="#6c70bf" stroke="#6c70bf" stroke-width=".5"/>
<path d="M358 193.1 357 195.6 356.2 198.3 355.7 201.2 355.7 204.1 356.2 207.1 357.4 210.3 360.6 213.6 365.2 215.2 369.2 214.4 372.3 212.8 375.1 210.9 377.2 208.9 379.1 206.8 380.7 204.8 381.8 203.5 377.6 199.7 376.4 200.8 374.6 202.5 372.8 204.2 371.1 205.4 368.9 206.7 366.7 207.6 366 207.8 365.2 207.2 364.4 206 364.3 205.2 364.2 203.6 364.3 202 364.6 200.3 365.2 198.5 365.8 196.9z" fill="#4a82c8" stroke="#4a82c8" stroke-width=".5"/>
<defs><path id="c50" d="M430.3 40.3 429.3 45.4 427.8 50.8 426.2 55.4 424.7 60 423.3 64.7 422 69.2 420.8 74.2 420 78.8 419.4 82.5 419.1 86.4 418.6 91.3 417.7 95.8 416.5 100.3 415.1 104.7 413.6 109 411.9 113.1 409.9 117.2 407.5 120.9 404.5 124.7 401.6 128 398.2 131.6 394.7 134.6 390.9 138.4 388.5 141.8 385.7 146 383.2 150.3 381 154.8 378.8 159.4 376.4 164 374.1 168.5 372.1 173.1 370.3 177.6 368.5 182.1 366.5 186.5 364.7 190.3 361.9 195 360.4 199.3 360 203.9 360.9 208.1 365.6 211.5 370.6 209.7 375 206.6 378.5 202.8"/></defs><use href="#c50" class="hl" stroke-width="6.3"/><use href="#c50" class="hl" stroke-width="3"/>
<path d="M427 39.7 426.3 41.7 425.4 44.5 424.3 47.6 423.6 49.5 422.8 51.6 421.8 53.8 420.9 56.2 420 58.5 419.3 60.9 418.5 63.3 417.8 65.7 417.2 67.9 416.6 70.1 415.9 73.1 415.3 75.7 414.9 77.8 414.6 79.6M433.6 41 433.5 43.1 433.2 46.3 432.6 49.9 432 52.2 431.3 54.5 430.6 56.9 429.9 59.2 429.3 61.5 428.7 63.7 428 66.1 427.4 68.4 426.9 70.5 426.4 72.4 425.8 75.2 425.4 77.6 425.1 79.7 424.9 81.2" fill="none" stroke="#763375" stroke-width=".70"/>
<path d="M414.6 79.6 414.2 81.9M424.9 81.2 424.7 83.1" fill="none" stroke="#5c4b5d" stroke-width=".70"/>
<path d="M414.2 81.9 414 83.8 413.8 85.9 413.5 88.2 413.2 90.5 412.8 92.7 412.3 94.6 411.8 96.6 411.2 98.7 410.5 100.9 409.8 102.9 409.1 104.9 408.3 106.9 407.5 108.9 406.7 110.8 405.9 112.7 405 114.4 404 116.1 402.9 117.7 401.7 119.4 400.3 121.1 398.9 122.7 397.5 124.3 396.4 125.6 394.5 127.7 392.8 129.2 391.2 130.7 389.2 132.5M424.7 83.1 424.5 84.7 424.4 86.8 424.2 89.3 423.9 92 423.5 94.8 423 97.1 422.5 99.4 421.8 101.8 421.2 104.1 420.4 106.5 419.7 108.8 418.8 111 417.9 113.2 417 115.4 415.9 117.7 414.8 119.9 413.5 122.1 412 124.2 410.4 126.3 408.7 128.2 407.1 130 405.6 131.6 404.2 133.1 401.9 135.5 399.8 137.2 398.2 138.6 396.6 139.9" fill="none" stroke="#2a7c2f" stroke-width=".70"/>
<path d="M389.2 132.5 387 135.1M396.6 139.9 394.9 141.7" fill="none" stroke="#446446" stroke-width=".70"/>
<path d="M387 135.1 385.7 136.9 384.3 138.9 382.9 141.1 381.5 143.4 380.2 145.7 378.9 148 377.8 150.4 376.7 152.7 375.6 155 374.6 157.3 373.5 159.5 372.3 161.9 371.2 164.2 370 166.5 369 168.8 368 171.4 367.1 173.8 366.3 176 365.4 178.3 364.5 180.4 363.5 182.6 362.6 184.8 361.6 186.7 360.9 188.2 359.4 190.7M394.9 141.7 393.9 142.9 392.6 144.7 391.2 146.6 389.9 148.6 388.6 150.6 387.5 152.5 386.4 154.6 385.3 156.9 384.1 159.2 382.9 161.5 381.7 163.8 380.5 166.1 379.3 168.3 378.2 170.5 377.2 172.5 376.2 174.8 375.3 176.9 374.4 179.2 373.4 181.7 372.4 183.8 371.4 186.1 370.4 188.3 369.4 190.4 368.4 192.4 366.8 195.1" fill="none" stroke="#763375" stroke-width=".70"/>
<path d="M359.4 190.7 358 193.1M366.8 195.1 365.8 196.9" fill="none" stroke="#484b80" stroke-width=".70"/>
<path d="M358 193.1 357 195.6 356.2 198.3 355.7 201.2 355.7 204.1 356.2 207.1 357.4 210.3 360.6 213.6 365.2 215.2 369.2 214.4 372.3 212.8 375.1 210.9 377.2 208.9 379.1 206.8 380.7 204.8 381.8 203.5M365.8 196.9 365.2 198.5 364.6 200.3 364.3 202 364.2 203.6 364.3 205.2 364.4 206 365.2 207.2 366 207.8 366.7 207.6 368.9 206.7 371.1 205.4 372.8 204.2 374.6 202.5 376.4 200.8 377.6 199.7" fill="none" stroke="#325786" stroke-width=".70"/>
<path d="M595 157.9 595.9 159.7 597.2 162.4 598.4 165.3 599.3 167.6 600.1 170.1 600.8 172.6 601.2 174.9 601.2 177.3 600.9 179.7 600.4 182.1 599.9 184.3 599.1 186.9 598.1 189.2 597.1 191.3 595.9 193.8 599.7 195.7 600.8 193 601.7 190.7 602.7 188.1 603.5 185.2 603.9 182.7 604.2 180.1 604.3 177.4 604.2 174.6 603.6 171.9 602.7 169.2 601.7 166.7 600.7 164.4 599.3 161.4 597.8 158.7 596.7 156.9z" fill="#2fbcbe" stroke="#2fbcbe" stroke-width=".5"/>
<path d="M595.9 193.8 594.6 196 598.3 198.3 599.7 195.7z" fill="#3aba6e" stroke="#3aba6e" stroke-width=".5"/>
<path d="M594.6 196 593.4 197.7 591.8 199.7 590.2 202 588.8 204.1 587.3 206.4 585.9 208.7 584.6 211 583.5 213.8 582.7 216.6 582.4 219.5 582.9 222.4 584 224.9 585.4 227 587.8 229 590.6 229.8 593.2 229.7 592.3 226.1 591.2 226.1 589.7 225.6 588.4 224.4 587.7 223.1 587.1 221.3 586.9 219.5 587.2 217.7 588 215.5 589.1 213.1 590.2 211.1 591.4 208.9 592.8 206.7 594.1 204.7 595.6 202.4 597 200.3 598.3 198.3z" fill="#3fb946" stroke="#3fb946" stroke-width=".5"/>
<path d="M593.2 229.7 595.8 228.4 593.4 225.5 592.3 226.1z" fill="#3fa36e" stroke="#3fa36e" stroke-width=".5"/>
<path d="M595.8 228.4 598 225.8 599.8 222.8 601 219.6 601.8 217.9 602.6 217.9 603.2 218.1 603.7 219.4 604.3 221.6 604.4 223.9 604 226.4 603.3 227.9 602.2 230 600.8 232.7 599.9 234.5 599 236.4 597.9 238.3 596.9 240.3 595.8 242.2 594.6 244.1 593.3 246.1 592 248.1 590.7 250 589.5 251.8 588 253.9 586.6 256 585.3 257.8 584.4 259 592.4 264.4 593.2 263.1 594.4 261.3 595.8 259.1 597.2 256.8 598.4 254.9 599.6 252.9 600.9 250.8 602.2 248.6 603.4 246.5 604.5 244.3 605.5 242.2 606.5 240 607.4 238 608.2 236.2 609.4 233.4 610.5 230.6 611.3 227.5 611.2 223.5 610.2 219.9 608.6 216.6 605.9 213.9 602.2 213.3 598.8 214.9 597.3 218.2 596.4 221.2 594.9 223.7 593.4 225.5z" fill="#3f76bd" stroke="#3f76bd" stroke-width=".5"/>
<defs><path id="c51" d="M595.8 157.4 598.2 161.9 600.5 167.2 602.2 172.2 602.8 177.3 602.1 182.4 600.9 187.5 598.9 192.2 596.5 197.1 593.7 201.1 590.8 205.4 588 209.9 585.8 214.7 584.7 219.5 585.9 224 588.8 227.3 592.8 227.9 596.4 224.8 599.1 218.9 602.4 215.6 606.1 218 607.8 223.7 606.9 229.3 604.5 234.4 602.7 238.2 600.7 242.3 598.4 246.4 595.8 250.5 593.4 254.3 590.5 258.6 588.4 261.7"/></defs><use href="#c51" class="hl" stroke-width="3.6"/><use href="#c51" class="hl" stroke-width="1.7"/>
<path d="M595 157.9 595.9 159.7 597.2 162.4 598.4 165.3 599.3 167.6 600.1 170.1 600.8 172.6 601.2 174.9 601.2 177.3 600.9 179.7 600.4 182.1 599.9 184.3 599.1 186.9 598.1 189.2 597.1 191.3 595.9 193.8M596.7 156.9 597.8 158.7 599.3 161.4 600.7 164.4 601.7 166.7 602.7 169.2 603.6 171.9 604.2 174.6 604.3 177.4 604.2 180.1 603.9 182.7 603.5 185.2 602.7 188.1 601.7 190.7 600.8 193 599.7 195.7" fill="none" stroke="#1f7e7f" stroke-width=".70"/>
<path d="M595.9 193.8 594.6 196M599.7 195.7 598.3 198.3" fill="none" stroke="#277d4a" stroke-width=".70"/>
<path d="M594.6 196 593.4 197.7 591.8 199.7 590.2 202 588.8 204.1 587.3 206.4 585.9 208.7 584.6 211 583.5 213.8 582.7 216.6 582.4 219.5 582.9 222.4 584 224.9 585.4 227 587.8 229 590.6 229.8 593.2 229.7M598.3 198.3 597 200.3 595.6 202.4 594.1 204.7 592.8 206.7 591.4 208.9 590.2 211.1 589.1 213.1 588 215.5 587.2 217.7 586.9 219.5 587.1 221.3 587.7 223.1 588.4 224.4 589.7 225.6 591.2 226.1 592.3 226.1" fill="none" stroke="#2a7c2f" stroke-width=".70"/>
<path d="M593.2 229.7 595.8 228.4M592.3 226.1 593.4 225.5" fill="none" stroke="#2a6d4a" stroke-width=".70"/>
<path d="M595.8 228.4 598 225.8 599.8 222.8 601 219.6 601.8 217.9 602.6 217.9 603.2 218.1 603.7 219.4 604.3 221.6 604.4 223.9 604 226.4 603.3 227.9 602.2 230 600.8 232.7 599.9 234.5 599 236.4 597.9 238.3 596.9 240.3 595.8 242.2 594.6 244.1 593.3 246.1 592 248.1 590.7 250 589.5 251.8 588 253.9 586.6 256 585.3 257.8 584.4 259M593.4 225.5 594.9 223.7 596.4 221.2 597.3 218.2 598.8 214.9 602.2 213.3 605.9 213.9 608.6 216.6 610.2 219.9 611.2 223.5 611.3 227.5 610.5 230.6 609.4 233.4 608.2 236.2 607.4 238 606.5 240 605.5 242.2 604.5 244.3 603.4 246.5 602.2 248.6 600.9 250.8 599.6 252.9 598.4 254.9 597.2 256.8 595.8 259.1 594.4 261.3 593.2 263.1 592.4 264.4" fill="none" stroke="#2a4f7f" stroke-width=".70"/>
<path d="M590.2 251.1 589.2 252 587.4 253.8 584.6 257.1 583.6 258.5 582.5 259.9 581.4 261.5 580.1 263.3 578.9 265.1 577.5 266.9 576.1 268.9 574.7 270.9 573.2 272.9 571.7 274.9 570.2 276.8 569 278.4 567.8 279.9 566.5 281.5 565.2 283.1 563.8 284.7 562.4 286.3 561 288 559.5 289.8 558 291.6 556.4 293.4 554.9 295.4 553.3 297.3 551.7 299.4 550.1 301.5 548.9 303.2 547.7 304.8 546.4 306.6 545.1 308.4 543.8 310.2 542.5 312.1 541.2 314 539.9 315.9 538.6 317.8 537.2 319.7 535.9 321.7 534.6 323.6 533.3 325.5 532 327.4 530.7 329.3 529.4 331.2 528.2 333 527 334.8 525.8 336.5 524.4 338.5 523 340.6 521.5 342.7 520.1 344.8 518.7 346.8 517.3 348.9 515.9 351 514.5 353 513.2 354.9 511.9 356.8 510.6 358.7 509.5 360.4 508.3 362.1 507.3 363.7 506.3 365.1 505.4 366.5 503.2 369.9 501.8 372.3 500.9 374 500.1 375.5 499 377.4 497.9 379.4 496.7 381.5 495.5 383.6 494.3 385.7 493.1 387.7 491.8 389.7 490.6 391.6 489.3 393.5 487.9 395.3 486.6 397.1 485.2 398.8 483.9 400.4 482.1 402.3 480.3 404 478.3 405.8 476.4 407.4 474.6 408.9 472.6 410.6 470.9 412.1 469.2 413.4 467.6 414.7 465.6 416.3 463.8 417.7 467.7 423.6 469.8 422.5 472 421.1 473.8 419.9 475.7 418.7 477.8 417.3 480 415.7 481.9 414.2 484 412.6 486.2 410.8 488.4 408.8 490.5 406.8 492.2 404.9 493.9 403.1 495.5 401.1 497 399.2 498.5 397.2 500 395.1 501.4 393 502.8 390.9 504.1 388.7 505.4 386.6 506.6 384.5 507.8 382.6 509 380.6 509.9 379.1 510.7 377.6 512 375.5 514.2 372.3 515.1 371 516 369.6 517.1 368.1 518.2 366.4 519.4 364.7 520.7 362.9 522 361 523.4 359.1 524.8 357.1 526.2 355.1 527.6 353 529.1 350.9 530.5 348.9 532 346.8 533.4 344.8 534.8 342.7 536 341 537.2 339.2 538.5 337.4 539.8 335.5 541.1 333.6 542.4 331.7 543.7 329.8 545 327.9 546.3 326 547.6 324 548.9 322.1 550.3 320.2 551.6 318.4 552.8 316.5 554.1 314.7 555.4 313 556.6 311.3 557.8 309.6 558.9 308.1 560.4 306 561.9 304 563.4 302.1 564.9 300.3 566.4 298.4 567.8 296.7 569.2 294.9 570.6 293.2 572 291.5 573.4 289.8 574.7 288.2 576 286.5 577.3 284.8 578.6 283.2 580.1 281 581.6 278.9 583.1 276.7 584.5 274.7 585.8 272.6 587.1 270.6 588.3 268.8 589.4 267 590.5 265.5 591.4 264 592.2 262.9 594.5 259.9 595.7 258.5 596.6 257.5z" fill="#3f76bd" stroke="#3f76bd" stroke-width=".5"/>
<path d="M463.8 417.7 462.2 418.9 460 420.5 457.8 422.4 456.1 424.6 454.4 427.1 452.9 429.7 451.6 432.3 450.5 435.1 449.7 438 449.1 441 448.9 444 448.9 447 448.9 450 449.1 453 449.4 455.8 449.7 458.5 450.2 461.1 450.8 463.4 451.6 466.1 456.2 462.8 455.2 461.6 454.4 459.9 453.6 457.6 453 455.2 452.6 452.6 452.4 449.8 452.3 447 452.5 444.2 452.8 441.5 453.3 439 454.3 436.6 455.5 434.3 456.9 432.1 458.5 430.2 460.4 428.3 462 427 463.8 425.8 465.8 424.7 467.7 423.6z" fill="#3fb946" stroke="#3fb946" stroke-width=".5"/>
<path d="M451.6 466.1 453.5 468.6 457.5 463.4 456.2 462.8z" fill="#659569" stroke="#659569" stroke-width=".5"/>
<path d="M453.5 468.6 455.8 470.2 458.2 471.5 460.9 472.9 463.3 473.9 465.8 474.9 468.3 475.8 470.7 476.9 472.6 477.7 474.5 478.6 476.4 479.6 478.5 480.6 480.5 481.6 482.3 482.4 484.2 483.3 486.1 484.2 488.4 485.1 491 486.1 493 486.7 495.3 487.5 497.8 488.2 500.3 488.9 502.8 489.7 505.1 490.3 507.2 490.8 509.1 491.3 513 491.9 513.3 486.6 510.1 486.1 508.7 485.7 506.7 485 504.5 484.3 502.1 483.4 499.6 482.6 497.3 481.7 495.2 480.9 493.4 480.1 491.1 479 489.2 478 487.5 477 485.8 475.9 483.9 474.8 482 473.8 480 472.7 478 471.6 476 470.6 473.9 469.5 471.2 468.5 468.5 467.5 466 466.7 463.9 465.9 461.2 464.9 459 464.1 457.5 463.4z" fill="#b04cae" stroke="#b04cae" stroke-width=".5"/>
<path d="M513 491.9 515.4 491.7 517.6 491.6 520.3 491.1 522.4 490.6 524.9 490.1 527.6 489.5 530.1 489 532.5 488.6 535 488.2 537.3 487.9 539.5 487.8 542.2 487.7 544.9 487.9 547.5 488.2 550.1 488.5 552.5 488.9 554.4 489.3 556.6 490.1 558.1 490.8 560.5 487.8 559.1 486.2 556.6 484.3 554.1 483.3 551.3 482.5 548.5 481.8 545.7 481.3 542.6 480.9 539.3 480.8 536.7 481 534 481.3 531.4 481.7 528.7 482.2 526 482.8 523.3 483.6 520.8 484.3 518.7 484.9 516.3 485.8 514.6 486.3 513.3 486.6z" fill="#5c92d4" stroke="#5c92d4" stroke-width=".5"/>
<defs><path id="c52" d="M593.4 254.3 590.9 256.8 587.5 261.3 585.4 264.3 583 267.9 580.3 271.8 577.4 275.9 574.4 280 571.9 283.2 569.3 286.4 566.5 289.8 563.6 293.2 560.7 296.8 557.6 300.7 554.5 304.8 552.1 308.1 549.6 311.6 547 315.2 544.4 319 541.8 322.9 539.1 326.7 536.5 330.5 534 334.3 531.5 337.9 528.9 341.6 526 345.8 523.1 349.9 520.3 354 517.6 358 515 361.7 512.7 365.1 510.7 368.1 507.6 372.7 505.4 376.6 503.4 380 501 384 498.5 388.3 495.9 392.4 493.1 396.3 490.2 400.1 487.2 403.6 483.2 407.4 479.1 410.8 475.2 414 471.5 416.7 467.7 419.4 464 421.8 459.9 424.7 456.5 428.6 453.6 433.3 451.5 438.5 450.7 444.1 450.6 449.9 451.2 455.5 452.3 460.5 453.9 464.5 457.4 467.1 462.4 469.4 467.2 471.2 472.3 473.2 476.3 475.1 480.2 477.2 484.1 479.2 487.7 481.1 492.2 483.1 496.3 484.6 501.2 486.2 505.9 487.7 509.6 488.7 515 489 519.5 488 524.1 486.8 529.4 485.6 534.5 484.8 539.4 484.3 545.3 484.6 550.7 485.5 555.5 486.8 559.3 489.3"/></defs><use href="#c52" class="hl" stroke-width="5.6"/><use href="#c52" class="hl" stroke-width="2.7"/>
<path d="M590.2 251.1 589.2 252 587.4 253.8 584.6 257.1 583.6 258.5 582.5 259.9 581.4 261.5 580.1 263.3 578.9 265.1 577.5 266.9 576.1 268.9 574.7 270.9 573.2 272.9 571.7 274.9 570.2 276.8 569 278.4 567.8 279.9 566.5 281.5 565.2 283.1 563.8 284.7 562.4 286.3 561 288 559.5 289.8 558 291.6 556.4 293.4 554.9 295.4 553.3 297.3 551.7 299.4 550.1 301.5 548.9 303.2 547.7 304.8 546.4 306.6 545.1 308.4 543.8 310.2 542.5 312.1 541.2 314 539.9 315.9 538.6 317.8 537.2 319.7 535.9 321.7 534.6 323.6 533.3 325.5 532 327.4 530.7 329.3 529.4 331.2 528.2 333 527 334.8 525.8 336.5 524.4 338.5 523 340.6 521.5 342.7 520.1 344.8 518.7 346.8 517.3 348.9 515.9 351 514.5 353 513.2 354.9 511.9 356.8 510.6 358.7 509.5 360.4 508.3 362.1 507.3 363.7 506.3 365.1 505.4 366.5 503.2 369.9 501.8 372.3 500.9 374 500.1 375.5 499 377.4 497.9 379.4 496.7 381.5 495.5 383.6 494.3 385.7 493.1 387.7 491.8 389.7 490.6 391.6 489.3 393.5 487.9 395.3 486.6 397.1 485.2 398.8 483.9 400.4 482.1 402.3 480.3 404 478.3 405.8 476.4 407.4 474.6 408.9 472.6 410.6 470.9 412.1 469.2 413.4 467.6 414.7 465.6 416.3 463.8 417.7M596.6 257.5 595.7 258.5 594.5 259.9 592.2 262.9 591.4 264 590.5 265.5 589.4 267 588.3 268.8 587.1 270.6 585.8 272.6 584.5 274.7 583.1 276.7 581.6 278.9 580.1 281 578.6 283.2 577.3 284.8 576 286.5 574.7 288.2 573.4 289.8 572 291.5 570.6 293.2 569.2 294.9 567.8 296.7 566.4 298.4 564.9 300.3 563.4 302.1 561.9 304 560.4 306 558.9 308.1 557.8 309.6 556.6 311.3 555.4 313 554.1 314.7 552.8 316.5 551.6 318.4 550.3 320.2 548.9 322.1 547.6 324 546.3 326 545 327.9 543.7 329.8 542.4 331.7 541.1 333.6 539.8 335.5 538.5 337.4 537.2 339.2 536 341 534.8 342.7 533.4 344.8 532 346.8 530.5 348.9 529.1 350.9 527.6 353 526.2 355.1 524.8 357.1 523.4 359.1 522 361 520.7 362.9 519.4 364.7 518.2 366.4 517.1 368.1 516 369.6 515.1 371 514.2 372.3 512 375.5 510.7 377.6 509.9 379.1 509 380.6 507.8 382.6 506.6 384.5 505.4 386.6 504.1 388.7 502.8 390.9 501.4 393 500 395.1 498.5 397.2 497 399.2 495.5 401.1 493.9 403.1 492.2 404.9 490.5 406.8 488.4 408.8 486.2 410.8 484 412.6 481.9 414.2 480 415.7 477.8 417.3 475.7 418.7 473.8 419.9 472 421.1 469.8 422.5 467.7 423.6" fill="none" stroke="#2a4f7f" stroke-width=".70"/>
<path d="M463.8 417.7 462.2 418.9 460 420.5 457.8 422.4 456.1 424.6 454.4 427.1 452.9 429.7 451.6 432.3 450.5 435.1 449.7 438 449.1 441 448.9 444 448.9 447 448.9 450 449.1 453 449.4 455.8 449.7 458.5 450.2 461.1 450.8 463.4 451.6 466.1M467.7 423.6 465.8 424.7 463.8 425.8 462 427 460.4 428.3 458.5 430.2 456.9 432.1 455.5 434.3 454.3 436.6 453.3 439 452.8 441.5 452.5 444.2 452.3 447 452.4 449.8 452.6 452.6 453 455.2 453.6 457.6 454.4 459.9 455.2 461.6 456.2 462.8" fill="none" stroke="#2a7c2f" stroke-width=".70"/>
<path d="M451.6 466.1 453.5 468.6M456.2 462.8 457.5 463.4" fill="none" stroke="#446446" stroke-width=".70"/>
<path d="M453.5 468.6 455.8 470.2 458.2 471.5 460.9 472.9 463.3 473.9 465.8 474.9 468.3 475.8 470.7 476.9 472.6 477.7 474.5 478.6 476.4 479.6 478.5 480.6 480.5 481.6 482.3 482.4 484.2 483.3 486.1 484.2 488.4 485.1 491 486.1 493 486.7 495.3 487.5 497.8 488.2 500.3 488.9 502.8 489.7 505.1 490.3 507.2 490.8 509.1 491.3 513 491.9M457.5 463.4 459 464.1 461.2 464.9 463.9 465.9 466 466.7 468.5 467.5 471.2 468.5 473.9 469.5 476 470.6 478 471.6 480 472.7 482 473.8 483.9 474.8 485.8 475.9 487.5 477 489.2 478 491.1 479 493.4 480.1 495.2 480.9 497.3 481.7 499.6 482.6 502.1 483.4 504.5 484.3 506.7 485 508.7 485.7 510.1 486.1 513.3 486.6" fill="none" stroke="#763375" stroke-width=".70"/>
<path d="M513 491.9 515.4 491.7 517.6 491.6 520.3 491.1 522.4 490.6 524.9 490.1 527.6 489.5 530.1 489 532.5 488.6 535 488.2 537.3 487.9 539.5 487.8 542.2 487.7 544.9 487.9 547.5 488.2 550.1 488.5 552.5 488.9 554.4 489.3 556.6 490.1 558.1 490.8M513.3 486.6 514.6 486.3 516.3 485.8 518.7 484.9 520.8 484.3 523.3 483.6 526 482.8 528.7 482.2 531.4 481.7 534 481.3 536.7 481 539.3 480.8 542.6 480.9 545.7 481.3 548.5 481.8 551.3 482.5 554.1 483.3 556.6 484.3 559.1 486.2 560.5 487.8" fill="none" stroke="#3e628e" stroke-width=".70"/>
<path d="M716 228.8 714.8 227.7 712.9 226.2 711 224.4 709.1 222.6 707.8 220.9 706.4 219 704.9 216.9 703.6 214.9 702.4 212.9 701.2 211 700.2 209.1 699.3 207.4 698.6 205.6 697.9 203.6 697.3 201.5 696.8 199.1 696.4 196.6 696.2 194.4 696.2 192.5 696.4 190.5 697 188.6 697.7 186.8 698.5 185.3 699.6 183.7 701 182.4 702.6 181.1 704.8 179.3 701.7 174.8 699.2 176.5 697.3 177.9 695.2 179.5 693.3 181.8 692 183.9 690.9 186.2 689.9 188.9 689.4 192 689.4 194.7 689.6 197.5 690.1 200.3 690.7 203.1 691.4 205.7 692.3 208 693.3 210.3 694.4 212.3 695.6 214.3 696.9 216.3 698.3 218.4 699.9 220.6 701.6 222.7 703.3 224.7 705 226.5 707.3 228.6 709.6 230.4 711.6 231.8 713 232.7z" fill="#5c92d4" stroke="#5c92d4" stroke-width=".5"/>
<path d="M704.8 179.3 707.2 177.7 704.5 173.2 701.7 174.8z" fill="#7e8cd3" stroke="#7e8cd3" stroke-width=".5"/>
<path d="M707.2 177.7 708.9 176.6 710.7 175.6 712.9 174.7 715 174 717.4 173.4 719.8 172.9 721.8 172.7 724.1 173 726.2 173.8 728.3 175.1 729.9 176.4 731.4 178 732.8 179.9 734 181.9 734.8 183.7 735.5 185.8 736.1 188 736.6 190.3 736.9 192.4 737.1 194.5 737.1 196.6 736.9 198.8 736.7 201 736.4 203.2 736.1 205.4 735.7 207.7 735.3 209.9 734.8 212.1 734.1 214 733.2 216.4 732.1 218.6 730.8 220.7 729.6 222.2 727.8 223.8 725.9 224.9 724.1 225.7 721.3 226.5 721.9 229 724.9 228.3 727.1 227.4 729.5 226.2 731.7 224.3 733.3 222.4 734.7 220.2 736 217.7 737.2 215.2 737.9 213 738.5 210.7 739.1 208.3 739.5 206 739.9 203.7 740.2 201.4 740.5 199.1 740.7 196.8 740.7 194.4 740.6 192 740.3 189.6 739.7 187.1 739.1 184.7 738.3 182.4 737.3 180.2 735.9 177.8 734.2 175.6 732.4 173.7 730.6 172.1 728.1 170.3 725.3 169 722.2 168.3 719.3 168.3 716.5 168.7 713.7 169.4 711.2 170 708.6 171 706.4 172.1 704.5 173.2z" fill="#c27fd0" stroke="#c27fd0" stroke-width=".5"/>
<path d="M721.3 226.5 719.3 226.8 719.7 229.2 721.9 229z" fill="#89b081" stroke="#89b081" stroke-width=".5"/>
<defs><path id="c53" d="M714.5 230.7 711.3 228.3 707.1 224.5 704 220.8 701 216.6 698.4 212.6 696.3 208.8 694.7 204.7 693.5 199.7 692.8 194.5 693.2 189.7 694.9 185.3 697.4 181.6 700.9 178.8 705.8 175.5 709.7 173.3 714.3 171.7 719.6 170.6 724.7 171 729.4 173.6 732.8 176.8 735.7 181.1 737.3 185.3 738.4 189.9 738.9 194.5 738.7 198.9 738.1 203.4 737.4 208 736.3 212.5 734.6 217.1 732.1 221.5 728.7 225 724.5 227 719.5 228"/></defs><use href="#c53" class="hl" stroke-width="3.1"/><use href="#c53" class="hl" stroke-width="1.5"/>
<path d="M716 228.8 714.8 227.7 712.9 226.2 711 224.4 709.1 222.6 707.8 220.9 706.4 219 704.9 216.9 703.6 214.9 702.4 212.9 701.2 211 700.2 209.1 699.3 207.4 698.6 205.6 697.9 203.6 697.3 201.5 696.8 199.1 696.4 196.6 696.2 194.4 696.2 192.5 696.4 190.5 697 188.6 697.7 186.8 698.5 185.3 699.6 183.7 701 182.4 702.6 181.1 704.8 179.3M713 232.7 711.6 231.8 709.6 230.4 707.3 228.6 705 226.5 703.3 224.7 701.6 222.7 699.9 220.6 698.3 218.4 696.9 216.3 695.6 214.3 694.4 212.3 693.3 210.3 692.3 208 691.4 205.7 690.7 203.1 690.1 200.3 689.6 197.5 689.4 194.7 689.4 192 689.9 188.9 690.9 186.2 692 183.9 693.3 181.8 695.2 179.5 697.3 177.9 699.2 176.5 701.7 174.8" fill="none" stroke="#3e628e" stroke-width=".70"/>
<path d="M704.8 179.3 707.2 177.7M701.7 174.8 704.5 173.2" fill="none" stroke="#545e8d" stroke-width=".70"/>
<path d="M707.2 177.7 708.9 176.6 710.7 175.6 712.9 174.7 715 174 717.4 173.4 719.8 172.9 721.8 172.7 724.1 173 726.2 173.8 728.3 175.1 729.9 176.4 731.4 178 732.8 179.9 734 181.9 734.8 183.7 735.5 185.8 736.1 188 736.6 190.3 736.9 192.4 737.1 194.5 737.1 196.6 736.9 198.8 736.7 201 736.4 203.2 736.1 205.4 735.7 207.7 735.3 209.9 734.8 212.1 734.1 214 733.2 216.4 732.1 218.6 730.8 220.7 729.6 222.2 727.8 223.8 725.9 224.9 724.1 225.7 721.3 226.5M704.5 173.2 706.4 172.1 708.6 171 711.2 170 713.7 169.4 716.5 168.7 719.3 168.3 722.2 168.3 725.3 169 728.1 170.3 730.6 172.1 732.4 173.7 734.2 175.6 735.9 177.8 737.3 180.2 738.3 182.4 739.1 184.7 739.7 187.1 740.3 189.6 740.6 192 740.7 194.4 740.7 196.8 740.5 199.1 740.2 201.4 739.9 203.7 739.5 206 739.1 208.3 738.5 210.7 737.9 213 737.2 215.2 736 217.7 734.7 220.2 733.3 222.4 731.7 224.3 729.5 226.2 727.1 227.4 724.9 228.3 721.9 229" fill="none" stroke="#82558b" stroke-width=".70"/>
<path d="M721.3 226.5 719.3 226.8M721.9 229 719.7 229.2" fill="none" stroke="#5c7656" stroke-width=".70"/>
<path d="M698 256.3 699.6 255.7 701.7 255 703.3 254.4 701.7 249.6 700.1 250 697.9 250.6 696.3 251.1z" fill="#3f76bd" stroke="#3f76bd" stroke-width=".5"/>
<path d="M703.3 254.4 705.4 253.6 703.8 248.9 701.7 249.6z" fill="#3f8c95" stroke="#3f8c95" stroke-width=".5"/>
<path d="M705.4 253.6 707.6 252.7 710.4 251.6 713.2 250.1 715.2 248.6 717.2 247 719.1 245.1 720.9 243.2 722.6 241 724.2 238.7 725.6 236.3 726.9 233.9 728 231.6 728.9 229.4 729.7 227.2 730.4 224.9 731.2 222.5 731.9 220 730.1 219.5 729.3 221.9 728.5 224.2 727.6 226.4 726.7 228.5 725.7 230.5 724.5 232.6 723.1 234.7 721.5 236.8 719.8 238.8 718.1 240.7 716.4 242.3 714.5 243.8 712.7 245.1 710.9 246.2 708.5 247.4 706 248.2 703.8 248.9z" fill="#3fb946" stroke="#3fb946" stroke-width=".5"/>
<path d="M731.9 220 732.5 217.4 730.7 217 730.1 219.5z" fill="#39a940" stroke="#39a940" stroke-width=".5"/>
<path d="M732.5 217.4 732.8 214.7 732.8 212.4 732.6 210 732.3 207.7 732 205.4 731.7 203.3 731.3 200.6 730.9 198.1 728.7 198.5 729.2 201 729.7 203.6 730.1 205.7 730.5 208 730.8 210.3 731 212.5 731.1 214.5 730.7 217z" fill="#2c8a34" stroke="#2c8a34" stroke-width=".5"/>
<path d="M730.9 198.1 730.5 195.6 728.1 196.1 728.7 198.5z" fill="#759c2d" stroke="#759c2d" stroke-width=".5"/>
<path d="M730.5 195.6 730 193.2 729.5 190.8 729 188.6 728.6 186.6 728.6 184.8 728.9 182.5 729.7 180.3 730.9 178.4 732.1 177.2 733.7 176 731.7 172.9 729.7 174.4 727.9 176.2 726.5 178.9 725.6 181.8 725.3 184.7 725.6 187.1 726.2 189.3 727 191.5 727.6 193.8 728.1 196.1z" fill="#9aa52a" stroke="#9aa52a" stroke-width=".5"/>
<path d="M733.7 176 735.6 174.9 733.9 171.6 731.7 172.9z" fill="#b3b92f" stroke="#b3b92f" stroke-width=".5"/>
<path d="M735.6 174.9 737.5 174.1 739.7 173.6 742.2 173.3 744.8 173.2 746.9 173.1 749.5 173.1 751.5 173.4 753.6 173.8 754.6 169.7 752.1 169.3 749.7 169.1 746.8 169.1 744.5 169.3 741.8 169.5 739 169.9 736.3 170.6 733.9 171.6z" fill="#e6e23a" stroke="#e6e23a" stroke-width=".5"/>
<path d="M753.6 173.8 756 174.6 757.5 170.6 754.6 169.7z" fill="#aed43e" stroke="#aed43e" stroke-width=".5"/>
<path d="M756 174.6 758.1 175.6 760.5 176.9 762.8 178.6 764.5 180.2 766.2 182.1 767.9 184.2 769.4 186.4 770.5 188.1 771.4 190 772.3 191.9 773.1 193.8 773.7 195.7 774.4 198 774.9 200.3 775.2 202.5 775.3 204.7 775.2 206.8 774.8 209 774.3 211.3 773.6 213.6 772.9 215.4 772.1 217.4 771.2 219.3 770.2 221.1 769.2 222.7 767.7 224.7 766.2 226.5 764.4 228.1 762.5 229.7 760.9 230.8 759.2 231.9 757.3 232.9 755.4 233.7 753.5 234.5 751.5 235.1 749.4 235.6 747.3 235.9 745.2 236.2 743 236.3 740.9 236.3 738.7 236.2 736.6 236 734.4 235.6 732.5 235.3 730.2 234.7 728.1 234 726 233.2 724.1 232.4 721.8 231.4 719.8 230.4 718 229.5 715.8 228.3 713.7 232 716 233.2 717.8 234.2 719.9 235.4 722.3 236.5 724.3 237.4 726.5 238.3 728.8 239.2 731.4 239.9 733.6 240.3 735.9 240.7 738.3 241.1 740.7 241.3 743.2 241.3 745.6 241.2 748 241 750.4 240.6 752.8 240.1 755.1 239.4 757.4 238.7 759.6 237.8 761.8 236.7 763.9 235.6 765.9 234.3 768.2 232.6 770.4 230.7 772.4 228.6 774.2 226.4 775.6 224.3 776.8 222.2 777.9 220 778.9 217.8 779.7 215.6 780.5 213 781.2 210.2 781.6 207.5 781.7 204.7 781.6 201.9 781.1 199.1 780.4 196.4 779.6 193.7 778.7 191.6 777.7 189.4 776.5 187.3 775.3 185.2 773.9 183.2 772 180.9 770 178.6 767.8 176.6 765.7 174.8 762.8 173 760 171.6 757.5 170.6z" fill="#3fb946" stroke="#3fb946" stroke-width=".5"/>
<path d="M715.8 228.3 714.4 227.4 712.2 231.1 713.7 232z" fill="#529fa5" stroke="#529fa5" stroke-width=".5"/>
<defs><path id="c54" d="M697.1 253.7 700.9 252.5 704.6 251.2 709.4 249.5 713.9 246.9 717.7 243.7 721.2 239.9 724.4 235.5 726.8 231.1 728.7 226.8 730.2 222.2 731.6 217.2 731.9 212.4 731.4 207.9 730.7 203.4 729.8 198.3 728.8 193.5 727.6 189 727 184.8 728.1 179.6 730.9 175.8 734.7 173.3 739.3 171.8 744.6 171.2 749.6 171.1 754.1 171.7 759.1 173.6 764.2 176.7 768.1 180.4 771.7 184.8 774 188.6 775.9 192.7 777.4 197.2 778.4 202.2 778.4 207.1 777.4 212.1 775.9 216.6 774 220.7 771.7 224.5 768.3 228.6 764.2 232 760.5 234.3 756.4 236.2 752.1 237.6 747.6 238.4 743.1 238.8 738.5 238.6 734 238 729.5 236.9 725.2 235.3 720.9 233.4 717 231.4 713.3 229.3"/></defs><use href="#c54" class="hl" stroke-width="2.9"/><use href="#c54" class="hl" stroke-width="1.4"/>
<path d="M698 256.3 699.6 255.7 701.7 255 703.3 254.4M696.3 251.1 697.9 250.6 700.1 250 701.7 249.6" fill="none" stroke="#2a4f7f" stroke-width=".70"/>
<path d="M703.3 254.4 705.4 253.6M701.7 249.6 703.8 248.9" fill="none" stroke="#2a5e64" stroke-width=".70"/>
<path d="M705.4 253.6 707.6 252.7 710.4 251.6 713.2 250.1 715.2 248.6 717.2 247 719.1 245.1 720.9 243.2 722.6 241 724.2 238.7 725.6 236.3 726.9 233.9 728 231.6 728.9 229.4 729.7 227.2 730.4 224.9 731.2 222.5 731.9 220M703.8 248.9 706 248.2 708.5 247.4 710.9 246.2 712.7 245.1 714.5 243.8 716.4 242.3 718.1 240.7 719.8 238.8 721.5 236.8 723.1 234.7 724.5 232.6 725.7 230.5 726.7 228.5 727.6 226.4 728.5 224.2 729.3 221.9 730.1 219.5" fill="none" stroke="#2a7c2f" stroke-width=".70"/>
<path d="M731.9 220 732.5 217.4M730.1 219.5 730.7 217" fill="none" stroke="#26712b" stroke-width=".70"/>
<path d="M732.5 217.4 732.8 214.7 732.8 212.4 732.6 210 732.3 207.7 732 205.4 731.7 203.3 731.3 200.6 730.9 198.1M730.7 217 731.1 214.5 731 212.5 730.8 210.3 730.5 208 730.1 205.7 729.7 203.6 729.2 201 728.7 198.5" fill="none" stroke="#1d5c23" stroke-width=".70"/>
<path d="M730.9 198.1 730.5 195.6M728.7 198.5 728.1 196.1" fill="none" stroke="#4e691e" stroke-width=".70"/>
<path d="M730.5 195.6 730 193.2 729.5 190.8 729 188.6 728.6 186.6 728.6 184.8 728.9 182.5 729.7 180.3 730.9 178.4 732.1 177.2 733.7 176M728.1 196.1 727.6 193.8 727 191.5 726.2 189.3 725.6 187.1 725.3 184.7 725.6 181.8 726.5 178.9 727.9 176.2 729.7 174.4 731.7 172.9" fill="none" stroke="#676f1c" stroke-width=".70"/>
<path d="M733.7 176 735.6 174.9M731.7 172.9 733.9 171.6" fill="none" stroke="#787c1f" stroke-width=".70"/>
<path d="M735.6 174.9 737.5 174.1 739.7 173.6 742.2 173.3 744.8 173.2 746.9 173.1 749.5 173.1 751.5 173.4 753.6 173.8M733.9 171.6 736.3 170.6 739 169.9 741.8 169.5 744.5 169.3 746.8 169.1 749.7 169.1 752.1 169.3 754.6 169.7" fill="none" stroke="#9a9727" stroke-width=".70"/>
<path d="M753.6 173.8 756 174.6M754.6 169.7 757.5 170.6" fill="none" stroke="#758e2a" stroke-width=".70"/>
<path d="M756 174.6 758.1 175.6 760.5 176.9 762.8 178.6 764.5 180.2 766.2 182.1 767.9 184.2 769.4 186.4 770.5 188.1 771.4 190 772.3 191.9 773.1 193.8 773.7 195.7 774.4 198 774.9 200.3 775.2 202.5 775.3 204.7 775.2 206.8 774.8 209 774.3 211.3 773.6 213.6 772.9 215.4 772.1 217.4 771.2 219.3 770.2 221.1 769.2 222.7 767.7 224.7 766.2 226.5 764.4 228.1 762.5 229.7 760.9 230.8 759.2 231.9 757.3 232.9 755.4 233.7 753.5 234.5 751.5 235.1 749.4 235.6 747.3 235.9 745.2 236.2 743 236.3 740.9 236.3 738.7 236.2 736.6 236 734.4 235.6 732.5 235.3 730.2 234.7 728.1 234 726 233.2 724.1 232.4 721.8 231.4 719.8 230.4 718 229.5 715.8 228.3M757.5 170.6 760 171.6 762.8 173 765.7 174.8 767.8 176.6 770 178.6 772 180.9 773.9 183.2 775.3 185.2 776.5 187.3 777.7 189.4 778.7 191.6 779.6 193.7 780.4 196.4 781.1 199.1 781.6 201.9 781.7 204.7 781.6 207.5 781.2 210.2 780.5 213 779.7 215.6 778.9 217.8 777.9 220 776.8 222.2 775.6 224.3 774.2 226.4 772.4 228.6 770.4 230.7 768.2 232.6 765.9 234.3 763.9 235.6 761.8 236.7 759.6 237.8 757.4 238.7 755.1 239.4 752.8 240.1 750.4 240.6 748 241 745.6 241.2 743.2 241.3 740.7 241.3 738.3 241.1 735.9 240.7 733.6 240.3 731.4 239.9 728.8 239.2 726.5 238.3 724.3 237.4 722.3 236.5 719.9 235.4 717.8 234.2 716 233.2 713.7 232" fill="none" stroke="#2a7c2f" stroke-width=".70"/>
<path d="M715.8 228.3 714.4 227.4M713.7 232 712.2 231.1" fill="none" stroke="#376b6f" stroke-width=".70"/>
<path d="M443.7 439.3 445.9 439.4 449.1 439.7 452.3 440.1 454.4 440.6 456.6 441.3 458.7 442 460.5 442.8 462.6 444.1 464.4 445.4 466 447.1 467.1 448.6 468.3 450.4 469.3 452.3 470.3 454.3 471.2 456.3 472.1 458.5 476.4 456.8 475.4 454.5 474.3 452.3 473 450.2 471.7 448.2 470.2 446.3 468.7 444.5 466.5 442.7 464.3 441.3 461.7 440.1 459.6 439.4 457.3 438.8 454.9 438.3 452.6 437.9 449.3 437.6 446 437.5 443.8 437.5z" fill="#2c5a9e" stroke="#2c5a9e" stroke-width=".5"/>
<path d="M472.1 458.5 472.9 460.8 477.4 459 476.4 456.8z" fill="#2b739b" stroke="#2b739b" stroke-width=".5"/>
<path d="M472.9 460.8 473.8 463 474.8 465.8 475.8 468.4 481 465.7 479.7 463.5 478.3 461 477.4 459z" fill="#2a7f9a" stroke="#2a7f9a" stroke-width=".5"/>
<path d="M475.8 468.4 477.1 471.1 478.5 473.6 480.2 476.1 482.4 478.5 484.9 480.6 487.8 482.2 490.9 483.5 493.6 484.3 496.4 484.9 499.3 485.3 502.1 485.6 504.9 485.7 507.8 485.7 510.5 485.6 513.1 485.4 516.2 484.8 518.8 484.2 520.9 483.6 523.7 482.8 518.9 471 516.8 471.9 515 472.7 513.1 473.5 511 474.1 509.1 474.6 506.8 475.1 504.4 475.4 502.2 475.7 499.9 475.7 497.5 475.7 495.3 475.5 493.4 475.2 491 474.6 488.9 473.8 487.1 472.8 485.5 471.5 483.9 469.8 482.4 467.8 481 465.7z" fill="#2fbcbe" stroke="#2fbcbe" stroke-width=".5"/>
<path d="M523.7 482.8 526.4 481.7 520.5 470.1 518.9 471z" fill="#3a8dbd" stroke="#3a8dbd" stroke-width=".5"/>
<path d="M526.4 481.7 529.6 479.9 533 477.6 535.4 475.2 537.1 473 538.2 471.6 528.1 463.5 527.1 464.8 525.6 466.5 524.6 467.5 522.7 468.9 520.5 470.1z" fill="#3f76bd" stroke="#3f76bd" stroke-width=".5"/>
<defs><path id="c55" d="M443.7 438.4 449.2 438.6 454.7 439.5 459.1 440.7 463.4 442.7 467.3 445.8 470 449.3 472.3 453.3 474.2 457.6 476 462 478.4 467.1 481.2 471.7 484.7 475.7 489.4 478.4 494.5 479.9 499.6 480.5 504.7 480.6 509.8 480.1 514.6 479.2 518.9 477.8 523.5 475.9 528.8 472.5 532.1 468.9"/></defs><use href="#c55" class="hl" stroke-width="4.8"/><use href="#c55" class="hl" stroke-width="2.3"/>
<path d="M443.7 439.3 445.9 439.4 449.1 439.7 452.3 440.1 454.4 440.6 456.6 441.3 458.7 442 460.5 442.8 462.6 444.1 464.4 445.4 466 447.1 467.1 448.6 468.3 450.4 469.3 452.3 470.3 454.3 471.2 456.3 472.1 458.5M443.8 437.5 446 437.5 449.3 437.6 452.6 437.9 454.9 438.3 457.3 438.8 459.6 439.4 461.7 440.1 464.3 441.3 466.5 442.7 468.7 444.5 470.2 446.3 471.7 448.2 473 450.2 474.3 452.3 475.4 454.5 476.4 456.8" fill="none" stroke="#1a345c" stroke-width=".70"/>
<path d="M472.1 458.5 472.9 460.8M476.4 456.8 477.4 459" fill="none" stroke="#19435a" stroke-width=".70"/>
<path d="M472.9 460.8 473.8 463 474.8 465.8 475.8 468.4M477.4 459 478.3 461 479.7 463.5 481 465.7" fill="none" stroke="#184a59" stroke-width=".70"/>
<path d="M475.8 468.4 477.1 471.1 478.5 473.6 480.2 476.1 482.4 478.5 484.9 480.6 487.8 482.2 490.9 483.5 493.6 484.3 496.4 484.9 499.3 485.3 502.1 485.6 504.9 485.7 507.8 485.7 510.5 485.6 513.1 485.4 516.2 484.8 518.8 484.2 520.9 483.6 523.7 482.8M481 465.7 482.4 467.8 483.9 469.8 485.5 471.5 487.1 472.8 488.9 473.8 491 474.6 493.4 475.2 495.3 475.5 497.5 475.7 499.9 475.7 502.2 475.7 504.4 475.4 506.8 475.1 509.1 474.6 511 474.1 513.1 473.5 515 472.7 516.8 471.9 518.9 471" fill="none" stroke="#1b6d6e" stroke-width=".70"/>
<path d="M523.7 482.8 526.4 481.7M518.9 471 520.5 470.1" fill="none" stroke="#22526e" stroke-width=".70"/>
<path d="M526.4 481.7 529.6 479.9 533 477.6 535.4 475.2 537.1 473 538.2 471.6M520.5 470.1 522.7 468.9 524.6 467.5 525.6 466.5 527.1 464.8 528.1 463.5" fill="none" stroke="#25446e" stroke-width=".70"/>
<path d="M726.5 231.3 724.5 232.9 722.5 234.4 720.5 236 718.5 237.5 716.5 239.1 714.4 240.5 712.4 242 710.3 243.5 708.2 244.9 706.1 246.3 704 247.7 701.9 249.1 699.7 250.4 697.5 251.6 695.2 252.7 692.9 253.8 690.6 254.8 688.3 256 686.1 257.2 683.9 258.4 681.7 259.6 679.5 260.9 677.4 262.3 675.3 263.7 673.2 265.2 671.2 266.7 669.2 268.3 667.3 269.9 665.4 271.6 663.4 273.2 661.5 274.8 659.6 276.5 657.7 278.2 655.8 279.9 653.9 281.5 651.9 283.1 649.8 284.6 647.7 285.9 645.6 287.4 643.7 289 641.8 290.7 640 292.4 638.2 294.2 636.4 296 634.7 297.9 632.9 299.7 631.2 301.5 629.4 303.4 627.7 305.2 626 307.1 624.3 309 622.6 310.9 620.9 312.7 619.2 314.6 617.6 316.6 615.9 318.5 614.3 320.4 612.7 322.3 611 324.3 609.4 326.3 607.9 328.2 606.3 330.2 604.7 332.2 603.2 334.2 601.6 336.2 600.1 338.2 598.6 340.2 597 342.3 595.5 344.3 594 346.3 592.5 348.3 590.9 350.4 589.4 352.4 587.9 354.4 586.4 356.4 584.9 358.5 583.3 360.5 581.8 362.5 580.3 364.5 578.8 366.5 577.2 368.5 575.6 370.5 574 372.5 572.4 374.4 570.7 376.4 569.1 378.3 567.5 380.2 565.9 382.2 564.4 384.2 562.9 386.3 561.5 388.4 560.2 390.5 559 392.8 558 395.1 557.2 397.5 556.5 399.9 555.9 402.4 555.4 404.9 554.9 407.4 554.5 409.9 554.2 412.4 553.7 414.9 553.2 417.4 552.7 419.8 552.3 422.3 551.9 424.8 551.3 427.3 550.5 429.7 549.4 432 548.2 434.2 547 436.4 545.7 438.6 544.3 440.7 543 442.9 541.6 445 540.2 447.1 538.8 449.2 537.4 451.3 535.9 453.3 534.4 455.4 532.9 457.4 531.4 459.5 529.9 461.6 528.4 463.6 526.9 465.6 525.2 467.5 523.4 469.3 521.5 470.9 519.5 472.5 530.7 479.4 532.5 477.7 534.3 476 536.1 474.2 537.7 472.4 539.2 470.4 540.6 468.3 542 466.3 543.3 464.2 544.7 462.1 546.1 460 547.5 458 549 456.1 550.5 454.1 552 452.1 553.4 450 554.8 448 556.1 445.9 557.4 443.7 558.6 441.6 559.9 439.4 561.1 437.2 562.3 435.1 563.5 432.9 564.8 430.8 566.1 428.7 567.4 426.6 568.8 424.5 570.2 422.5 571.6 420.4 573 418.3 574.2 416.2 575.4 414 576.6 411.8 577.7 409.6 578.9 407.4 580.1 405.3 581.4 403.1 582.7 401 584 398.9 585.4 396.8 586.8 394.8 588.2 392.7 589.6 390.7 591.1 388.7 592.6 386.7 594.2 384.8 595.7 382.8 597.3 380.9 598.9 379.1 600.6 377.2 602.2 375.4 603.9 373.5 605.6 371.7 607.3 369.9 609 368 610.6 366.2 612.3 364.4 614 362.5 615.6 360.6 617.2 358.8 618.8 356.8 620.4 354.9 621.9 353 623.5 351 625 349.1 626.5 347.1 628.1 345.2 629.6 343.2 631.2 341.3 632.9 339.5 634.9 338 636.9 336.6 638.7 334.9 640.3 333 641.8 331 643.2 328.9 644.6 326.9 646 324.8 647.4 322.7 648.7 320.7 650.1 318.6 651.4 316.5 652.7 314.4 654 312.3 655.3 310.1 656.6 308 657.8 305.8 659 303.7 660.2 301.5 661.3 299.3 662.5 297.1 663.7 294.9 665 292.8 666.3 290.7 667.7 288.6 669.2 286.6 670.8 284.7 672.4 282.8 674.1 281 675.8 279.2 677.6 277.5 679.4 275.7 681.2 274 683 272.3 684.8 270.7 686.6 269 688.5 267.3 690.4 265.7 692.3 264.1 694.3 262.6 696.2 261.1 698.3 259.7 700.3 258.3 702.5 257 704.7 255.9 707 255 709.3 254.2 711.6 253.2 713.8 251.9 715.9 250.6 717.9 249.2 719.9 247.7 721.7 246 723.4 244.2 724.9 242.2 726.3 240.1 727.6 238 728.9 235.9 730.2 233.8z" fill="url(#g56)" stroke="url(#g56)" stroke-width=".6"/>
<path d="M726.5 231.3 724.5 232.9 722.5 234.4 720.5 236 718.5 237.5 716.5 239.1 714.4 240.5 712.4 242 710.3 243.5 708.2 244.9 706.1 246.3 704 247.7 701.9 249.1 699.7 250.4 697.5 251.6 695.2 252.7 692.9 253.8 690.6 254.8 688.3 256 686.1 257.2 683.9 258.4 681.7 259.6 679.5 260.9 677.4 262.3 675.3 263.7 673.2 265.2 671.2 266.7 669.2 268.3 667.3 269.9 665.4 271.6 663.4 273.2 661.5 274.8 659.6 276.5 657.7 278.2 655.8 279.9 653.9 281.5 651.9 283.1 649.8 284.6 647.7 285.9 645.6 287.4 643.7 289 641.8 290.7 640 292.4 638.2 294.2 636.4 296 634.7 297.9 632.9 299.7 631.2 301.5 629.4 303.4 627.7 305.2 626 307.1 624.3 309 622.6 310.9 620.9 312.7 619.2 314.6 617.6 316.6 615.9 318.5 614.3 320.4 612.7 322.3 611 324.3 609.4 326.3 607.9 328.2 606.3 330.2 604.7 332.2 603.2 334.2 601.6 336.2 600.1 338.2 598.6 340.2 597 342.3 595.5 344.3 594 346.3 592.5 348.3 590.9 350.4 589.4 352.4 587.9 354.4 586.4 356.4 584.9 358.5 583.3 360.5 581.8 362.5 580.3 364.5 578.8 366.5 577.2 368.5 575.6 370.5 574 372.5 572.4 374.4 570.7 376.4 569.1 378.3 567.5 380.2 565.9 382.2 564.4 384.2 562.9 386.3 561.5 388.4 560.2 390.5 559 392.8 558 395.1 557.2 397.5 556.5 399.9 555.9 402.4 555.4 404.9 554.9 407.4 554.5 409.9 554.2 412.4 553.7 414.9 553.2 417.4 552.7 419.8 552.3 422.3 551.9 424.8 551.3 427.3 550.5 429.7 549.4 432 548.2 434.2 547 436.4 545.7 438.6 544.3 440.7 543 442.9 541.6 445 540.2 447.1 538.8 449.2 537.4 451.3 535.9 453.3 534.4 455.4 532.9 457.4 531.4 459.5 529.9 461.6 528.4 463.6 526.9 465.6 525.2 467.5 523.4 469.3 521.5 470.9 519.5 472.5M730.2 233.8 728.9 235.9 727.6 238 726.3 240.1 724.9 242.2 723.4 244.2 721.7 246 719.9 247.7 717.9 249.2 715.9 250.6 713.8 251.9 711.6 253.2 709.3 254.2 707 255 704.7 255.9 702.5 257 700.3 258.3 698.3 259.7 696.2 261.1 694.3 262.6 692.3 264.1 690.4 265.7 688.5 267.3 686.6 269 684.8 270.7 683 272.3 681.2 274 679.4 275.7 677.6 277.5 675.8 279.2 674.1 281 672.4 282.8 670.8 284.7 669.2 286.6 667.7 288.6 666.3 290.7 665 292.8 663.7 294.9 662.5 297.1 661.3 299.3 660.2 301.5 659 303.7 657.8 305.8 656.6 308 655.3 310.1 654 312.3 652.7 314.4 651.4 316.5 650.1 318.6 648.7 320.7 647.4 322.7 646 324.8 644.6 326.9 643.2 328.9 641.8 331 640.3 333 638.7 334.9 636.9 336.6 634.9 338 632.9 339.5 631.2 341.3 629.6 343.2 628.1 345.2 626.5 347.1 625 349.1 623.5 351 621.9 353 620.4 354.9 618.8 356.8 617.2 358.8 615.6 360.6 614 362.5 612.3 364.4 610.6 366.2 609 368 607.3 369.9 605.6 371.7 603.9 373.5 602.2 375.4 600.6 377.2 598.9 379.1 597.3 380.9 595.7 382.8 594.2 384.8 592.6 386.7 591.1 388.7 589.6 390.7 588.2 392.7 586.8 394.8 585.4 396.8 584 398.9 582.7 401 581.4 403.1 580.1 405.3 578.9 407.4 577.7 409.6 576.6 411.8 575.4 414 574.2 416.2 573 418.3 571.6 420.4 570.2 422.5 568.8 424.5 567.4 426.6 566.1 428.7 564.8 430.8 563.5 432.9 562.3 435.1 561.1 437.2 559.9 439.4 558.6 441.6 557.4 443.7 556.1 445.9 554.8 448 553.4 450 552 452.1 550.5 454.1 549 456.1 547.5 458 546.1 460 544.7 462.1 543.3 464.2 542 466.3 540.6 468.3 539.2 470.4 537.7 472.4 536.1 474.2 534.3 476 532.5 477.7 530.7 479.4" fill="none" stroke="#060c13" stroke-width=".90" stroke-opacity=".75"/>
<path d="M317.1 381.9 318.8 382.4 321.2 383.2 324 384 326.8 384.8 329.2 385.5 331.9 386.2 334.3 386.8 336.5 387.5 338.8 388.3 340.7 389.2 342.6 390.1 344.4 391.1 346.3 392.3 348 393.5 349.6 394.7 351.3 396.1 352.9 397.6 354.5 399.2 356 400.8 357.6 402.4 359.1 404 360.5 405.7 361.9 407.4 363.1 409 364.2 410.8 365.2 412.7 366.1 414.7 367 416.7 367.7 418.4 368.7 420.9 369.5 423.2 370.1 425.3 370.8 428.1 376.1 427.2 375.6 424.1 375.1 421.7 374.5 419.1 373.5 416.1 372.7 414.2 371.8 412.1 370.7 409.9 369.5 407.7 368.2 405.6 366.8 403.6 365.3 401.7 363.7 399.9 362.1 398.1 360.4 396.4 358.7 394.8 356.9 393.3 355 391.7 353 390.3 351 388.9 348.9 387.7 346.8 386.6 344.6 385.7 342.5 384.9 340.3 384.1 337.7 383.4 335.2 382.8 332.7 382.4 330 381.9 327.4 381.6 324.5 381.3 321.6 381 319.1 380.7 317.3 380.6z" fill="#3f76bd" stroke="#3f76bd" stroke-width=".5"/>
<path d="M370.8 428.1 371.4 430.6 376.3 430 376.1 427.2z" fill="#aebe66" stroke="#aebe66" stroke-width=".5"/>
<path d="M371.4 430.6 372 433.3 372.8 436.2 373.5 438.7 374.5 441.3 375.7 443.9 376.8 445.8 378.1 447.8 379.5 449.7 381.1 451.5 382.8 453.2 384.7 455 386.7 456.6 388.8 457.9 391 459 393.3 459.8 395.7 460.3 398 460.6 400.9 460.5 403.6 459.8 406 459 409 457.6 411.4 456.1 413.7 454.9 411.5 451.5 409.4 453 407.2 454.7 404.8 456.3 402.7 457.2 400.4 458 397.9 458.4 396 458.2 393.9 457.8 391.8 457.1 389.7 456.1 387.8 454.9 385.9 453.5 384.2 451.8 382.5 450.1 381.2 448.4 379.9 446.5 378.9 444.7 378 442.8 377.2 440.3 376.7 437.8 376.4 435.6 376.3 432.7 376.3 430z" fill="#e6e23a" stroke="#e6e23a" stroke-width=".5"/>
<path d="M413.7 454.9 416 453.6 413.4 450 411.5 451.5z" fill="#779a91" stroke="#779a91" stroke-width=".5"/>
<path d="M416 453.6 418.3 452 420.6 450.2 422.6 448.6 424.7 446.9 426.7 445.4 428.6 443.9 430.4 442.6 428.3 438.7 426 440 423.8 441.3 421.6 443 419.4 444.8 417.5 446.4 415.3 448.4 413.4 450z" fill="#3f76bd" stroke="#3f76bd" stroke-width=".5"/>
<path d="M430.4 442.6 432.2 441.6 434.3 440.9 436.8 440.3 439.1 439.9 442 439.4 443.9 439.1 443.9 437.1 441.8 436.9 438.8 436.9 436.4 436.9 433.6 437.1 430.8 437.6 428.3 438.7z" fill="#2c5a9e" stroke="#2c5a9e" stroke-width=".5"/>
<defs><path id="c57" d="M317.2 381.2 321.4 382.1 327.1 383.2 332.3 384.3 337.1 385.4 341.6 387 345.6 388.9 349.5 391.2 353.1 393.9 356.6 397 359.8 400.3 362.9 403.7 365.7 407.3 367.9 411.3 369.8 415.4 371.6 420 372.9 424.7 373.9 430.3 374.6 435.9 375.8 440.8 377.8 445.2 380.3 449 383.5 452.5 387.2 455.8 391.4 458 395.8 459.3 400.6 459.3 405.4 457.6 410.4 454.5 414.7 451.8 419.1 448.3 423.1 445 427.3 441.9 431.5 439.6 436.6 438.6 441.9 438.2"/></defs><use href="#c57" class="hl" stroke-width="2.7"/><use href="#c57" class="hl" stroke-width="1.3"/>
<path d="M317.1 381.9 318.8 382.4 321.2 383.2 324 384 326.8 384.8 329.2 385.5 331.9 386.2 334.3 386.8 336.5 387.5 338.8 388.3 340.7 389.2 342.6 390.1 344.4 391.1 346.3 392.3 348 393.5 349.6 394.7 351.3 396.1 352.9 397.6 354.5 399.2 356 400.8 357.6 402.4 359.1 404 360.5 405.7 361.9 407.4 363.1 409 364.2 410.8 365.2 412.7 366.1 414.7 367 416.7 367.7 418.4 368.7 420.9 369.5 423.2 370.1 425.3 370.8 428.1M317.3 380.6 319.1 380.7 321.6 381 324.5 381.3 327.4 381.6 330 381.9 332.7 382.4 335.2 382.8 337.7 383.4 340.3 384.1 342.5 384.9 344.6 385.7 346.8 386.6 348.9 387.7 351 388.9 353 390.3 355 391.7 356.9 393.3 358.7 394.8 360.4 396.4 362.1 398.1 363.7 399.9 365.3 401.7 366.8 403.6 368.2 405.6 369.5 407.7 370.7 409.9 371.8 412.1 372.7 414.2 373.5 416.1 374.5 419.1 375.1 421.7 375.6 424.1 376.1 427.2" fill="none" stroke="#2a4f7f" stroke-width=".70"/>
<path d="M370.8 428.1 371.4 430.6M376.1 427.2 376.3 430" fill="none" stroke="#757f44" stroke-width=".70"/>
<path d="M371.4 430.6 372 433.3 372.8 436.2 373.5 438.7 374.5 441.3 375.7 443.9 376.8 445.8 378.1 447.8 379.5 449.7 381.1 451.5 382.8 453.2 384.7 455 386.7 456.6 388.8 457.9 391 459 393.3 459.8 395.7 460.3 398 460.6 400.9 460.5 403.6 459.8 406 459 409 457.6 411.4 456.1 413.7 454.9M376.3 430 376.3 432.7 376.4 435.6 376.7 437.8 377.2 440.3 378 442.8 378.9 444.7 379.9 446.5 381.2 448.4 382.5 450.1 384.2 451.8 385.9 453.5 387.8 454.9 389.7 456.1 391.8 457.1 393.9 457.8 396 458.2 397.9 458.4 400.4 458 402.7 457.2 404.8 456.3 407.2 454.7 409.4 453 411.5 451.5" fill="none" stroke="#9a9727" stroke-width=".70"/>
<path d="M413.7 454.9 416 453.6M411.5 451.5 413.4 450" fill="none" stroke="#506761" stroke-width=".70"/>
<path d="M416 453.6 418.3 452 420.6 450.2 422.6 448.6 424.7 446.9 426.7 445.4 428.6 443.9 430.4 442.6M413.4 450 415.3 448.4 417.5 446.4 419.4 444.8 421.6 443 423.8 441.3 426 440 428.3 438.7" fill="none" stroke="#2a4f7f" stroke-width=".70"/>
<path d="M430.4 442.6 432.2 441.6 434.3 440.9 436.8 440.3 439.1 439.9 442 439.4 443.9 439.1M428.3 438.7 430.8 437.6 433.6 437.1 436.4 436.9 438.8 436.9 441.8 436.9 443.9 437.1" fill="none" stroke="#1d3c6a" stroke-width=".70"/>
<path d="M326.8 384.9 326.3 387.4 325.6 390.8 324.8 392.9 324 395.2 322.9 397.7 322 400 321 402.4 319.9 404.8 318.8 406.9 317.8 408.8 316.6 410.6 315.4 412.2 314.3 413.6 312.5 415.7 310.7 417.3 308.9 419.1 314.9 424.4 316.3 422.7 318 420.9 320.1 418.4 321.4 416.7 322.8 414.8 324.2 412.6 325.5 410.2 326.5 407.6 327.4 404.8 328.2 402 328.9 399.6 329.4 396.7 329.8 394 330 391.5 330.1 387.8 330 385.1z" fill="#9dbee5" stroke="#9dbee5" stroke-width=".5"/>
<path d="M308.9 419.1 307.3 420.7 313.4 426.2 314.9 424.4z" fill="#c7afe1" stroke="#c7afe1" stroke-width=".5"/>
<path d="M307.3 420.7 305.7 422.3 303.7 424.7 302.5 426.7 301.2 429 299.9 431.5 298.6 434.1 297.7 436.3 296.7 438.7 295.8 441.1 294.9 443.5 294.1 445.8 293.2 448.4 292.4 451 291.6 453.6 290.9 456.1 290.2 458.8 289.5 461.6 288.8 464.2 288.4 466.3 287.8 469 287.5 470.8 287.1 472.7 290.4 473.6 291.1 471.8 291.7 470.1 292.6 467.6 293.4 465.6 294.3 463.1 295.3 460.5 296.3 457.9 297.3 455.6 298.3 453.2 299.4 450.9 300.5 448.4 301.6 446.3 302.6 444.1 303.8 441.8 304.9 439.7 306 437.7 307.2 435.4 308.6 433.2 309.8 431.2 310.8 429.7 312.2 427.7 313.4 426.2z" fill="#edb3e3" stroke="#edb3e3" stroke-width=".5"/>
<path d="M287.1 472.7 286.7 474.7 289.8 475.4 290.4 473.6z" fill="#ecd68d" stroke="#ecd68d" stroke-width=".5"/>
<path d="M286.7 474.7 286.3 476.7 285.9 479.2 285.7 482.4 288.4 482.6 288.9 479.6 289.3 477.4 289.8 475.4z" fill="#ebe861" stroke="#ebe861" stroke-width=".5"/>
<path d="M285.7 482.4 285.7 485.6 286.1 488.2 286.6 489.8 288.7 489.3 288.4 487.7 288.1 485.5 288.4 482.6z" fill="#e8e54e" stroke="#e8e54e" stroke-width=".5"/>
<defs><path id="c58" d="M328.4 385 327.8 391.2 326.7 395.9 325.1 401 323.2 406.2 321 410.7 318.4 414.5 315.2 418.3 311.9 421.8 308.9 425 306.2 429 303.6 433.4 301.3 438 299.2 442.6 297.3 447.1 295.3 452.1 293.6 457 291.9 462.3 290.5 467 289.3 471.3 288.3 475 287.4 479.4 286.9 485.6 287.6 489.6"/></defs><use href="#c58" class="hl" stroke-width="3.9"/><use href="#c58" class="hl" stroke-width="1.9"/>
<path d="M326.8 384.9 326.3 387.4 325.6 390.8 324.8 392.9 324 395.2 322.9 397.7 322 400 321 402.4 319.9 404.8 318.8 406.9 317.8 408.8 316.6 410.6 315.4 412.2 314.3 413.6 312.5 415.7 310.7 417.3 308.9 419.1M330 385.1 330.1 387.8 330 391.5 329.8 394 329.4 396.7 328.9 399.6 328.2 402 327.4 404.8 326.5 407.6 325.5 410.2 324.2 412.6 322.8 414.8 321.4 416.7 320.1 418.4 318 420.9 316.3 422.7 314.9 424.4" fill="none" stroke="#809bbb" stroke-width=".70"/>
<path d="M308.9 419.1 307.3 420.7M314.9 424.4 313.4 426.2" fill="none" stroke="#9d8ab1" stroke-width=".70"/>
<path d="M307.3 420.7 305.7 422.3 303.7 424.7 302.5 426.7 301.2 429 299.9 431.5 298.6 434.1 297.7 436.3 296.7 438.7 295.8 441.1 294.9 443.5 294.1 445.8 293.2 448.4 292.4 451 291.6 453.6 290.9 456.1 290.2 458.8 289.5 461.6 288.8 464.2 288.4 466.3 287.8 469 287.5 470.8 287.1 472.7M313.4 426.2 312.2 427.7 310.8 429.7 309.8 431.2 308.6 433.2 307.2 435.4 306 437.7 304.9 439.7 303.8 441.8 302.6 444.1 301.6 446.3 300.5 448.4 299.4 450.9 298.3 453.2 297.3 455.6 296.3 457.9 295.3 460.5 294.3 463.1 293.4 465.6 292.6 467.6 291.7 470.1 291.1 471.8 290.4 473.6" fill="none" stroke="#bb8db3" stroke-width=".70"/>
<path d="M287.1 472.7 286.7 474.7M290.4 473.6 289.8 475.4" fill="none" stroke="#baa96f" stroke-width=".70"/>
<path d="M286.7 474.7 286.3 476.7 285.9 479.2 285.7 482.4M289.8 475.4 289.3 477.4 288.9 479.6 288.4 482.6" fill="none" stroke="#b9b74d" stroke-width=".70"/>
<path d="M285.7 482.4 285.7 485.6 286.1 488.2 286.6 489.8M288.4 482.6 288.1 485.5 288.4 487.7 288.7 489.3" fill="none" stroke="#b4b13c" stroke-width=".70"/>
<path d="M293 318.8 294.7 319.2 296.8 319.8 298.4 320 299.2 316.7 297.5 316.5 295.5 316 293.8 315.6z" fill="#3fb946" stroke="#3fb946" stroke-width=".5"/>
<path d="M298.4 320 300.3 320.6 301.5 317.5 299.2 316.7z" fill="#3da16c" stroke="#3da16c" stroke-width=".5"/>
<path d="M300.3 320.6 302.1 321.4 304.3 322.5 306.5 323.7 308.3 325 309.5 326.4 310.6 328.1 311.5 329.9 312.3 332 313.2 334.2 313.9 336.7 314.4 339.1 314.4 341.5 314.1 343.4 313.5 345.4 312.7 347.4 317.5 349.1 318.1 346.6 318.5 344.1 318.6 341.6 318.4 338.6 317.7 335.7 316.8 333 315.8 330.5 314.8 328.3 313.6 326.2 312.2 324.3 310.5 322.5 308.3 320.9 305.9 319.5 303.5 318.4 301.5 317.5z" fill="#3a70b8" stroke="#3a70b8" stroke-width=".5"/>
<path d="M312.7 347.4 311.8 349.5 310.6 351.5 309.5 353 308.1 354.7 306.6 356.4 304.9 358.1 303.2 360 301.6 361.9 300.3 363.8 298.9 365.7 297.6 367.6 296.3 369.5 295.1 371.6 294 373.6 293 376.1 292.1 378.6 291.4 381.1 290.9 383.7 290.6 386.3 290.6 388.9 290.9 391.6 291.3 394.2 291.9 396.7 292.8 399.2 294.2 401.8 296 404.2 298 406.3 300.2 408.2 303.7 409.6 307 410.3 309.3 410.5 310.2 407.6 308.2 406.6 305.6 405.2 303.5 403.6 302.5 402.2 301.3 400.5 300.4 398.5 299.7 396.5 299.3 394.8 299 392.9 298.8 390.8 298.7 388.8 298.9 386.8 299.1 384.9 299.5 383 300 381 300.7 379 301.5 377 302.3 375.3 303.2 373.6 304.2 371.8 305.3 370 306.5 368.1 307.7 366.2 308.9 364.4 310.2 362.5 311.7 360.5 313.1 358.5 314.5 356.3 315.6 354.1 316.7 351.6 317.5 349.1z" fill="#3f76bd" stroke="#3f76bd" stroke-width=".5"/>
<defs><path id="c59" d="M293.4 317.2 297.2 318.1 300.9 319.1 305.1 321 309.4 323.8 312.1 327.1 314.1 331.3 315.8 336.2 316.5 341.6 315.8 346 314.2 350.5 312 354.7 309.1 358.4 306.1 362.2 303.4 365.9 300.9 369.7 298.7 373.4 296.8 377.6 295.4 382.1 294.8 386.6 294.8 391.2 295.6 395.8 297.3 400.2 300.2 404.3 304.6 407.4 309.8 409.1"/></defs><use href="#c59" class="hl" stroke-width="3.8"/><use href="#c59" class="hl" stroke-width="1.8"/>
<path d="M293 318.8 294.7 319.2 296.8 319.8 298.4 320M293.8 315.6 295.5 316 297.5 316.5 299.2 316.7" fill="none" stroke="#2a7c2f" stroke-width=".70"/>
<path d="M298.4 320 300.3 320.6M299.2 316.7 301.5 317.5" fill="none" stroke="#296c48" stroke-width=".70"/>
<path d="M300.3 320.6 302.1 321.4 304.3 322.5 306.5 323.7 308.3 325 309.5 326.4 310.6 328.1 311.5 329.9 312.3 332 313.2 334.2 313.9 336.7 314.4 339.1 314.4 341.5 314.1 343.4 313.5 345.4 312.7 347.4M301.5 317.5 303.5 318.4 305.9 319.5 308.3 320.9 310.5 322.5 312.2 324.3 313.6 326.2 314.8 328.3 315.8 330.5 316.8 333 317.7 335.7 318.4 338.6 318.6 341.6 318.5 344.1 318.1 346.6 317.5 349.1" fill="none" stroke="#274b7b" stroke-width=".70"/>
<path d="M312.7 347.4 311.8 349.5 310.6 351.5 309.5 353 308.1 354.7 306.6 356.4 304.9 358.1 303.2 360 301.6 361.9 300.3 363.8 298.9 365.7 297.6 367.6 296.3 369.5 295.1 371.6 294 373.6 293 376.1 292.1 378.6 291.4 381.1 290.9 383.7 290.6 386.3 290.6 388.9 290.9 391.6 291.3 394.2 291.9 396.7 292.8 399.2 294.2 401.8 296 404.2 298 406.3 300.2 408.2 303.7 409.6 307 410.3 309.3 410.5M317.5 349.1 316.7 351.6 315.6 354.1 314.5 356.3 313.1 358.5 311.7 360.5 310.2 362.5 308.9 364.4 307.7 366.2 306.5 368.1 305.3 370 304.2 371.8 303.2 373.6 302.3 375.3 301.5 377 300.7 379 300 381 299.5 383 299.1 384.9 298.9 386.8 298.7 388.8 298.8 390.8 299 392.9 299.3 394.8 299.7 396.5 300.4 398.5 301.3 400.5 302.5 402.2 303.5 403.6 305.6 405.2 308.2 406.6 310.2 407.6" fill="none" stroke="#2a4f7f" stroke-width=".70"/>
<circle cx="316" cy="196.5" r="4.6" fill="url(#bR)"/>
<path d="M315.4 162.9L315.2 189.6" stroke="#5e5e5e" stroke-width="5.4" stroke-linecap="round" fill="none"/><path d="M315.4 162.9L315.2 189.6" stroke="#a4a4a4" stroke-width="3.4" stroke-linecap="round" fill="none"/>
<path d="M315.2 189.6L334.7 201.4" stroke="#5e5e5e" stroke-width="5.2" stroke-linecap="round" fill="none"/><path d="M315.2 189.6L334.7 201.4" stroke="#a4a4a4" stroke-width="3.2" stroke-linecap="round" fill="none"/>
<path d="M334.7 201.4L342.5 218.8" stroke="#5e5e5e" stroke-width="4.6" stroke-linecap="round" fill="none"/><path d="M334.7 201.4L342.5 218.8" stroke="#a4a4a4" stroke-width="2.6" stroke-linecap="round" fill="none"/>
<path d="M309.9 153.2L315.4 162.9" stroke="#5e5e5e" stroke-width="4.6" stroke-linecap="round" fill="none"/><path d="M309.9 153.2L315.4 162.9" stroke="#a4a4a4" stroke-width="2.6" stroke-linecap="round" fill="none"/>
<circle cx="309.9" cy="153.2" r="4.8" fill="url(#bR)"/>
<circle cx="315.4" cy="162.9" r="5" fill="url(#bG)"/>
<circle cx="315.2" cy="189.6" r="5" fill="url(#bG)"/>
<circle cx="334.7" cy="201.4" r="4.9" fill="url(#bG)"/>
<circle cx="342.9" cy="219.2" r="4.9" fill="url(#bR)"/>
<g opacity=".55">
<path d="M500.5 297.4L496.1 304.8" stroke="#5e5e5e" stroke-width="3.6" stroke-linecap="round" fill="none"/><path d="M500.5 297.4L496.1 304.8" stroke="#a4a4a4" stroke-width="1.6" stroke-linecap="round" fill="none"/>
<path d="M496.1 304.8L502.4 318.5" stroke="#5e5e5e" stroke-width="3.6" stroke-linecap="round" fill="none"/><path d="M496.1 304.8L502.4 318.5" stroke="#a4a4a4" stroke-width="1.6" stroke-linecap="round" fill="none"/>
<circle cx="500.5" cy="297.4" r="3.3" fill="url(#bR)"/>
<circle cx="496.1" cy="304.8" r="3.4" fill="url(#bG)"/>
<circle cx="502.4" cy="318.5" r="3.3" fill="url(#bR)"/>
</g>
</g>
<g id="panelA">
<text class="pl" x="-1" y="28.3" style="font-size:40.5px">A</text>
<rect class="pill" x="29" y="58.8" width="157.3" height="36.2" rx="18.1"/>
<text class="lt" x="46" y="84" textLength="124.2" lengthAdjust="spacingAndGlyphs">Location of 71</text>
<rect class="pill" x="29" y="267.3" width="168.3" height="36.2" rx="18.1"/>
<text class="lt" x="46" y="292.7" textLength="138.7" lengthAdjust="spacingAndGlyphs">Location of 148</text>
<circle cx="64" cy="135.7" r="20" fill="#e35b69"/>
<text class="cl" x="64.2" y="143.1">D</text>
<text class="lt" x="97.8" y="143" textLength="37.9" lengthAdjust="spacingAndGlyphs">cow</text>
<circle cx="64" cy="190.9" r="20" fill="#3fb9bc"/>
<text class="cl" x="64.2" y="198.3">N</text>
<text class="lt" x="97.8" y="198.2" textLength="103.4" lengthAdjust="spacingAndGlyphs">sheep/goat</text>
<circle cx="64" cy="345" r="20" fill="#e35b69"/>
<text class="cl" x="64.2" y="352.4">D</text>
<text class="lt" x="97.8" y="352.3" textLength="37.9" lengthAdjust="spacingAndGlyphs">cow</text>
<circle cx="64" cy="400" r="20" fill="#3fb9bc"/>
<text class="cl" x="64.2" y="407.4">N</text>
<text class="lt" x="97.8" y="407.3" textLength="56.4" lengthAdjust="spacingAndGlyphs">sheep</text>
<circle cx="64" cy="455.5" r="20" fill="#7aa9d6"/>
<text class="cl" x="64.2" y="462.9">K</text>
<text class="lt" x="97.8" y="459.8" textLength="40.9" lengthAdjust="spacingAndGlyphs">goat</text>
<path class="ar" d="M187 76.3 L396.6 158.4"/>
<path class="ar" d="M385 163.2 L397.3 158.8 L391.6 147.2"/>
<path class="ar" d="M198 284.5 L298 284.5 L551 156.4"/>
<path class="ar" d="M548.2 168 L551.9 155.9 L539.3 152.8"/>
</g>
<g id="panelB">
<text class="pl" x="837" y="41">B</text>
<text class="gn" x="934" y="88.6">59</text>
<text class="gn" x="1518.5" y="82.5">78</text>
<text class="gn" x="933" y="306.6">143</text>
<text class="gn" x="1442" y="309.7">159</text>
<rect class="pill" x="1302" y="55.5" width="53.5" height="34.5" rx="17.25"/>
<text class="pt" font-size="26" text-anchor="middle" x="1328.8" y="82.3">71</text>
<rect class="pill" x="1074.5" y="275.3" width="68" height="34.5" rx="17.25"/>
<text class="pt" font-size="26" text-anchor="middle" x="1108.4" y="302">148</text>
<text class="sq" y="133" x="945.2 978 1010.3 1042.3 1072.8 1102.6 1133.5 1165.5 1195.2 1227 1258.2 1290.5">VYVEELKPTPEG</text>
<circle cx="1329" cy="121" r="20" fill="#e35b69"/>
<text class="sq w" y="133" x="1329.5">D</text>
<text class="sq" y="133" x="1364.2 1394 1417.3 1441.6 1470 1499.2 1535">LEILLQK</text>
<text class="sq" y="180.2" x="945.2 978 1010.3 1042.3 1072.8 1102.6 1133.5 1165.5 1195.2 1227 1258.2 1290.5">VYVEELKPTPEG</text>
<circle cx="1329" cy="168.3" r="20" fill="#3fb9bc"/>
<text class="sq w" y="180.2" x="1329.5">N</text>
<text class="sq" y="180.2" x="1364.2 1394 1417.3 1441.6 1470 1499.2 1535">LEILLQK</text>
<text class="sq" y="227.5" x="945.2 978 1010.3 1042.3 1072.8 1102.6 1133.5 1165.5 1195.2 1227 1258.2 1290.5">VYVEELKPTPEG</text>
<circle cx="1329" cy="215.7" r="20" fill="#3fb9bc"/>
<text class="sq w" y="227.5" x="1329.5">N</text>
<text class="sq" y="227.5" x="1364.2 1394 1417.3 1441.6 1470 1499.2 1535">LEILLQK</text>
<text class="sq" y="352.2" x="944.5 977 1007.5 1038.5 1072.7">TPEVD</text>
<circle cx="1108.6" cy="339.8" r="20" fill="#e35b69"/>
<text class="sq w" y="352.2" x="1109.2">D</text>
<text class="sq" y="352.2" x="1144.6 1175.9 1207.6 1236.7 1268.6 1299.7 1331.6 1365.4 1397.3 1429 1460">EALEKFDKALK</text>
<text class="sq" y="399.3" x="944.5 977 1007.5 1038.5 1072.7">TPEVD</text>
<circle cx="1108.6" cy="387" r="20" fill="#3fb9bc"/>
<text class="sq w" y="399.3" x="1109.2">N</text>
<text class="sq" y="399.3" x="1144.6 1175.9 1207.6 1236.7 1268.6 1299.7 1331.6 1365.4 1397.3 1429 1460">EALEKFDKALK</text>
<text class="sq" y="446.4" x="944.5 977 1007.5 1038.5 1072.7">TPEVD</text>
<circle cx="1108.6" cy="434.4" r="20" fill="#7aa9d6"/>
<text class="sq w" y="446.4" x="1109.2">K</text>
<text class="sq" y="446.4" x="1144.6 1175.9 1207.6 1236.7 1268.6 1299.7 1331.6 1365.4 1397.3 1429 1460">EALEKFDKALK</text>
</g>
<g id="panelC">
<text class="pl" x="-1" y="590" style="font-size:39.5px">C</text>
<circle cx="270.8" cy="578.3" r="14.1" fill="#7aa9d6"/>
<text class="sh" y="586.8" x="156.3 178.8 201.6 226 246.3">TPEVD</text>
<text class="sh w" y="586.8" x="271.2">K</text>
<text class="sh" y="586.8" x="297.8 319.3 341.5 363.2 384.7">EALEK</text>
<path d="M125.8 570V947.2M125.3 947.2H761.3M117 944.7H125.8M117 856H125.8M117 767.2H125.8M117 678.5H125.8M117 589.7H125.8M121.3 922.5H125.8M121.3 900.3H125.8M121.3 878.1H125.8M121.3 833.8H125.8M121.3 811.6H125.8M121.3 789.4H125.8M121.3 745H125.8M121.3 722.8H125.8M121.3 700.6H125.8M121.3 656.2H125.8M121.3 634H125.8M121.3 611.9H125.8M175.4 947.2V954.7M280.2 947.2V954.7M385.1 947.2V954.7M489.9 947.2V954.7M594.8 947.2V954.7M699.6 947.2V954.7M227.8 947.2V952.7M332.7 947.2V952.7M437.5 947.2V952.7M542.3 947.2V952.7M647.2 947.2V952.7M752 947.2V952.7M149.2 947.2V951.2M201.6 947.2V951.2M254 947.2V951.2M306.5 947.2V951.2M358.9 947.2V951.2M411.3 947.2V951.2M463.7 947.2V951.2M516.1 947.2V951.2M568.5 947.2V951.2M621 947.2V951.2M673.4 947.2V951.2M725.8 947.2V951.2" stroke="#000" stroke-width="1.1" fill="none"/>
<text class="tk" text-anchor="end" x="114.3" y="947.4">0.000e+0</text>
<text class="tk" text-anchor="end" x="114.3" y="858.7">2.000e+4</text>
<text class="tk" text-anchor="end" x="114.3" y="769.9">4.000e+4</text>
<text class="tk" text-anchor="end" x="114.3" y="681.2">6.000e+4</text>
<text class="tk" text-anchor="end" x="114.3" y="592.4">8.000e+4</text>
<text class="tk xl" text-anchor="middle" x="174" y="965.5" textLength="13.6" lengthAdjust="spacingAndGlyphs">200</text>
<text class="tk xl" text-anchor="middle" x="278.8" y="965.5" textLength="13.6" lengthAdjust="spacingAndGlyphs">400</text>
<text class="tk xl" text-anchor="middle" x="383.7" y="965.5" textLength="13.6" lengthAdjust="spacingAndGlyphs">600</text>
<text class="tk xl" text-anchor="middle" x="488.5" y="965.5" textLength="13.6" lengthAdjust="spacingAndGlyphs">800</text>
<text class="tk xl" text-anchor="middle" x="593.4" y="965.5" textLength="18.2" lengthAdjust="spacingAndGlyphs">1000</text>
<text class="tk xl" text-anchor="middle" x="698.2" y="965.5" textLength="18.2" lengthAdjust="spacingAndGlyphs">1200</text>
<text class="tk" text-anchor="middle" x="436.2" y="961.8">m/z</text>
<text class="it" text-anchor="middle" transform="translate(56 757.5) rotate(-90)">Intensity</text>
<path fill="#6a6a6a" d="M181.5 942.1h2V944.7h-2zM151.5 942.2h1V944.7h-1zM220.5 942.9h1V944.7h-1zM138.9 942.8h1.2V944.7h-1.2zM158 942.9h1V944.7h-1zM188.4 939.2h1.2V944.7h-1.2zM160 942.1h1V944.7h-1zM199.7 938.6h1.6V944.7h-1.6zM185.7 941.8h1.6V944.7h-1.6zM156.9 942.7h1.2V944.7h-1.2zM148 942.5h2V944.7h-2zM176 940.5h1V944.7h-1zM181.5 941.7h2V944.7h-2zM158.2 939.5h1.6V944.7h-1.6zM183 938.5h2V944.7h-2zM230 942.4h1V944.7h-1zM203.4 939h1.2V944.7h-1.2zM196.5 943.5h2V944.7h-2zM186.2 942h1.6V944.7h-1.6zM208 941.2h1V944.7h-1zM160.4 940.9h1.2V944.7h-1.2zM168.4 943.1h1.2V944.7h-1.2zM156.7 941.3h1.6V944.7h-1.6zM168.5 943.5h2V944.7h-2zM216.4 943.2h1.2V944.7h-1.2zM217.2 942.8h1.6V944.7h-1.6zM224.5 938.6h1V944.7h-1zM232 942.1h2V944.7h-2zM302.2 942.6h1.6V944.7h-1.6zM304.4 942.9h1.2V944.7h-1.2zM266.7 942.1h1.6V944.7h-1.6zM260.4 941.6h1.2V944.7h-1.2zM305.5 942.9h1V944.7h-1zM303.9 942.6h1.2V944.7h-1.2zM250.2 941.6h1.6V944.7h-1.6zM308.5 941.3h2V944.7h-2zM261.5 943.4h1V944.7h-1zM277 943h1V944.7h-1zM303 943.5h1V944.7h-1zM301.9 943.5h1.2V944.7h-1.2zM280.2 943.4h1.6V944.7h-1.6zM333 943.5h2V944.7h-2zM369 943.5h2V944.7h-2zM389.4 943.4h1.2V944.7h-1.2zM341.2 941.7h1.6V944.7h-1.6zM392.2 943.5h1.6V944.7h-1.6zM409.5 942.8h2V944.7h-2zM383.2 942.9h1.6V944.7h-1.6zM349.5 940.9h2V944.7h-2zM398.7 940.4h1.6V944.7h-1.6zM423.4 943h1.2V944.7h-1.2zM384.5 943.4h1V944.7h-1zM397.7 943.2h1.6V944.7h-1.6zM370.5 943.4h1V944.7h-1zM376 943.5h1V944.7h-1zM470 942.7h2V944.7h-2zM471 943.4h1V944.7h-1zM512 942.5h2V944.7h-2zM474.5 943.5h2V944.7h-2zM507.4 941.1h1.2V944.7h-1.2zM494.5 943.1h2V944.7h-2zM456 943.4h1V944.7h-1zM625.2 943.5h1.6V944.7h-1.6zM625.9 941.2h1.2V944.7h-1.2zM611.4 942.2h1.2V944.7h-1.2zM607.2 943.4h1.6V944.7h-1.6zM142.8 915.4h1.1V944.7h-1.1zM145.3 919h1.1V944.7h-1.1zM151.7 916h1.1V944.7h-1.1zM182.5 911.6h1.1V944.7h-1.1zM198.2 917.2h1.1V944.7h-1.1zM301.6 916h1.1V944.7h-1.1zM303.2 929.8h1.1V944.7h-1.1zM316.9 934.8h1.1V944.7h-1.1zM362.6 920.4h1.1V944.7h-1.1zM364.1 924h1.1V944.7h-1.1zM385.3 934.8h1.1V944.7h-1.1zM407.6 934.8h1.1V944.7h-1.1zM426.3 934.8h1.1V944.7h-1.1zM462.8 932h1.1V944.7h-1.1zM481.3 913.5h1.1V944.7h-1.1zM602.9 929.1h1.1V944.7h-1.1zM730.1 941.6h1.1V944.7h-1.1zM742.6 941.6h1.1V944.7h-1.1zM748.9 941.6h1.1V944.7h-1.1z"/>
<path fill="#111" d="M181.5 940h2V944.7h-2zM198.7 940.5h1.6V944.7h-1.6zM195.9 942.8h1.2V944.7h-1.2zM198.5 940.2h1V944.7h-1zM155.5 943.3h2V944.7h-2zM169.4 941.9h1.2V944.7h-1.2zM199.5 942.4h2V944.7h-2zM201.5 942.8h1V944.7h-1zM206.7 943.1h1.6V944.7h-1.6zM140.5 942.1h1V944.7h-1zM158 939.3h2V944.7h-2zM233.4 942.8h1.2V944.7h-1.2zM213.7 943.2h1.6V944.7h-1.6zM161 943.5h2V944.7h-2zM154.9 942.1h1.2V944.7h-1.2zM233.5 940.7h2V944.7h-2zM148.7 942.8h1.6V944.7h-1.6zM222 938.8h1V944.7h-1zM141.5 943.4h1V944.7h-1zM213 943.1h1V944.7h-1zM145 943.3h1V944.7h-1zM196 942.9h2V944.7h-2zM218.9 943.4h1.2V944.7h-1.2zM167.9 943.3h1.2V944.7h-1.2zM152.5 941.7h2V944.7h-2zM224 941.9h1V944.7h-1zM147.5 942.4h2V944.7h-2zM162.2 940.2h1.6V944.7h-1.6zM165 939.4h1V944.7h-1zM144.5 942.8h1V944.7h-1zM154.9 942.9h1.2V944.7h-1.2zM146.2 943.4h1.6V944.7h-1.6zM201.9 941.3h1.2V944.7h-1.2zM195.2 939.3h1.6V944.7h-1.6zM206 938.9h1V944.7h-1zM185 941h1V944.7h-1zM144.9 942.2h1.2V944.7h-1.2zM214.5 939.4h2V944.7h-2zM226 939.8h1V944.7h-1zM221.5 942h2V944.7h-2zM174.5 943.5h1V944.7h-1zM175 941h2V944.7h-2zM183 942.2h1V944.7h-1zM168 943.5h1V944.7h-1zM225.4 942.9h1.2V944.7h-1.2zM188 940.8h2V944.7h-2zM186.2 943.3h1.6V944.7h-1.6zM223.7 942.9h1.6V944.7h-1.6zM158 943.4h1V944.7h-1zM206.9 939h1.2V944.7h-1.2zM174.5 942.3h2V944.7h-2zM169 940.2h1V944.7h-1zM204 943.2h1V944.7h-1zM200.2 942.8h1.6V944.7h-1.6zM161 943.4h1V944.7h-1zM181.2 941.7h1.6V944.7h-1.6zM231 941.3h2V944.7h-2zM162.5 941.1h1V944.7h-1zM154.9 943.2h1.2V944.7h-1.2zM177 939.6h2V944.7h-2zM191.2 941.5h1.6V944.7h-1.6zM183 941.6h1V944.7h-1zM190 940.5h1V944.7h-1zM171 943.5h2V944.7h-2zM213 942.5h1V944.7h-1zM179.4 943.5h1.2V944.7h-1.2zM211.9 942.7h1.2V944.7h-1.2zM188.2 940.1h1.6V944.7h-1.6zM167.2 943.4h1.6V944.7h-1.6zM193.5 943.4h1V944.7h-1zM191 938.6h1V944.7h-1zM204.5 943.5h2V944.7h-2zM227.4 940.4h1.2V944.7h-1.2zM183.5 943.4h2V944.7h-2zM189 943.5h1V944.7h-1zM228 943.4h1V944.7h-1zM140.7 943.4h1.6V944.7h-1.6zM169 943h1V944.7h-1zM174.4 942.8h1.2V944.7h-1.2zM189.9 939.9h1.2V944.7h-1.2zM189.4 940h1.2V944.7h-1.2zM213.9 943.4h1.2V944.7h-1.2zM150 943.5h2V944.7h-2zM218.9 942.8h1.2V944.7h-1.2zM157 941.7h1V944.7h-1zM148.9 942.4h1.2V944.7h-1.2zM215.5 942.5h2V944.7h-2zM151.9 943.4h1.2V944.7h-1.2zM234.5 939.3h1V944.7h-1zM150.5 941.4h1V944.7h-1zM169 942.6h2V944.7h-2zM158 942.9h1V944.7h-1zM219.7 943.4h1.6V944.7h-1.6zM177 943.4h1V944.7h-1zM193.2 943.4h1.6V944.7h-1.6zM212.4 940.7h1.2V944.7h-1.2zM144.5 943h1V944.7h-1zM159.7 939.1h1.6V944.7h-1.6zM158.5 942.8h1V944.7h-1zM175.5 938.5h1V944.7h-1zM212 938.7h1V944.7h-1zM210 943.2h1V944.7h-1zM211.7 941.6h1.6V944.7h-1.6zM161.5 939.5h2V944.7h-2zM217 943.5h1V944.7h-1zM175.4 939.2h1.2V944.7h-1.2zM221 942.2h2V944.7h-2zM229.7 942.8h1.6V944.7h-1.6zM173.2 943.2h1.6V944.7h-1.6zM202.4 940.9h1.2V944.7h-1.2zM194.5 941.7h2V944.7h-2zM142.2 943.1h1.6V944.7h-1.6zM144 939.5h2V944.7h-2zM162 940.8h1V944.7h-1zM229.4 941.1h1.2V944.7h-1.2zM196 943.5h2V944.7h-2zM148.9 939.9h1.2V944.7h-1.2zM149 942.7h2V944.7h-2zM196.2 941.6h1.6V944.7h-1.6zM298.2 943.4h1.6V944.7h-1.6zM302.7 942.3h1.6V944.7h-1.6zM287.9 941.8h1.2V944.7h-1.2zM289.9 941.6h1.2V944.7h-1.2zM278.5 942.1h1V944.7h-1zM289.5 943.5h1V944.7h-1zM289 943.5h1V944.7h-1zM300.4 940.6h1.2V944.7h-1.2zM289.9 943.1h1.2V944.7h-1.2zM264.5 942.8h1V944.7h-1zM273.4 941.7h1.2V944.7h-1.2zM272.2 943.1h1.6V944.7h-1.6zM242 943.5h2V944.7h-2zM242 943.4h1V944.7h-1zM295.2 942.8h1.6V944.7h-1.6zM259.7 943.5h1.6V944.7h-1.6zM266.7 943.5h1.6V944.7h-1.6zM272.7 941.3h1.6V944.7h-1.6zM254.4 940.2h1.2V944.7h-1.2zM242 941.2h2V944.7h-2zM285.7 941.4h1.6V944.7h-1.6zM305.4 943.4h1.2V944.7h-1.2zM284 940.3h2V944.7h-2zM241 942.6h1V944.7h-1zM264.2 943.3h1.6V944.7h-1.6zM242.5 942.2h2V944.7h-2zM256.2 943.4h1.6V944.7h-1.6zM301.2 943h1.6V944.7h-1.6zM293.5 942.8h1V944.7h-1zM296.2 940.6h1.6V944.7h-1.6zM318 942.2h1V944.7h-1zM304.4 943h1.2V944.7h-1.2zM256.4 943.4h1.2V944.7h-1.2zM262.7 943.1h1.6V944.7h-1.6zM319 943.5h1V944.7h-1zM300.5 943.5h1V944.7h-1zM262.4 943.4h1.2V944.7h-1.2zM286.5 942.8h2V944.7h-2zM251.2 943.3h1.6V944.7h-1.6zM289.2 940.4h1.6V944.7h-1.6zM276.9 943.4h1.2V944.7h-1.2zM304.2 943.1h1.6V944.7h-1.6zM310.4 940.7h1.2V944.7h-1.2zM296.9 942.3h1.2V944.7h-1.2zM290.5 940.1h1V944.7h-1zM248.4 941.5h1.2V944.7h-1.2zM306 943.5h1V944.7h-1zM311.7 941.9h1.6V944.7h-1.6zM237 943.4h1V944.7h-1zM302 942.9h2V944.7h-2zM262 943h2V944.7h-2zM292.9 943.5h1.2V944.7h-1.2zM244.5 943h1V944.7h-1zM291 943.5h2V944.7h-2zM256 942.5h1V944.7h-1zM422.4 941.1h1.2V944.7h-1.2zM355.7 943.1h1.6V944.7h-1.6zM434 941.6h1V944.7h-1zM351.7 943.4h1.6V944.7h-1.6zM357.7 943.3h1.6V944.7h-1.6zM374 943.1h1V944.7h-1zM336.9 942.2h1.2V944.7h-1.2zM369 941.1h1V944.7h-1zM430.9 943.5h1.2V944.7h-1.2zM418 943.1h2V944.7h-2zM394.7 941.8h1.6V944.7h-1.6zM437.5 941.4h1V944.7h-1zM352 943.4h2V944.7h-2zM333.7 943.1h1.6V944.7h-1.6zM418.7 942.3h1.6V944.7h-1.6zM385.9 943.1h1.2V944.7h-1.2zM388.5 943.5h1V944.7h-1zM337.2 942.8h1.6V944.7h-1.6zM360 940.5h2V944.7h-2zM425.4 942.9h1.2V944.7h-1.2zM427.7 942.6h1.6V944.7h-1.6zM402.2 943.1h1.6V944.7h-1.6zM419.5 943.4h1V944.7h-1zM374.9 943h1.2V944.7h-1.2zM357.5 942h2V944.7h-2zM393.9 942.2h1.2V944.7h-1.2zM344.5 942.8h2V944.7h-2zM335.4 943h1.2V944.7h-1.2zM352.5 942.5h1V944.7h-1zM406 941.4h2V944.7h-2zM392 942.8h2V944.7h-2zM418.7 943.5h1.6V944.7h-1.6zM428 943.3h2V944.7h-2zM407.7 942.4h1.6V944.7h-1.6zM425 940.9h2V944.7h-2zM403.2 942.6h1.6V944.7h-1.6zM398 943h1V944.7h-1zM332.5 941.4h2V944.7h-2zM321.2 943.3h1.6V944.7h-1.6zM341.5 942.9h2V944.7h-2zM337.7 941.9h1.6V944.7h-1.6zM324.5 940.7h2V944.7h-2zM338.4 941.5h1.2V944.7h-1.2zM345.5 941h1V944.7h-1zM344 941.1h2V944.7h-2zM323.4 942.2h1.2V944.7h-1.2zM423.5 941.8h2V944.7h-2zM405.4 943.4h1.2V944.7h-1.2zM380.5 943.3h1V944.7h-1zM390.9 943.4h1.2V944.7h-1.2zM400 943.3h1V944.7h-1zM383.7 943.5h1.6V944.7h-1.6zM384.9 943h1.2V944.7h-1.2zM354.7 941.6h1.6V944.7h-1.6zM407.9 943.5h1.2V944.7h-1.2zM437.5 943.5h2V944.7h-2zM440 941.2h1V944.7h-1zM505.5 942.4h2V944.7h-2zM533.4 942.8h1.2V944.7h-1.2zM510.5 941.8h2V944.7h-2zM467.4 943h1.2V944.7h-1.2zM507.9 941.3h1.2V944.7h-1.2zM526.5 941.4h1V944.7h-1zM548.4 942.6h1.2V944.7h-1.2zM514.2 943.5h1.6V944.7h-1.6zM537.5 942h2V944.7h-2zM449.7 941.6h1.6V944.7h-1.6zM469 942.9h2V944.7h-2zM446.9 943.1h1.2V944.7h-1.2zM523.9 940.8h1.2V944.7h-1.2zM457 943h1V944.7h-1zM440 943.1h1V944.7h-1zM486.5 943.3h1V944.7h-1zM555.9 942.2h1.2V944.7h-1.2zM494.7 940.9h1.6V944.7h-1.6zM552.9 941h1.2V944.7h-1.2zM487.7 942.3h1.6V944.7h-1.6zM484.9 943.5h1.2V944.7h-1.2zM461.4 942.7h1.2V944.7h-1.2zM487 942.5h2V944.7h-2zM492.5 940.5h2V944.7h-2zM463.7 943.1h1.6V944.7h-1.6zM482.9 943.3h1.2V944.7h-1.2zM528.4 942.8h1.2V944.7h-1.2zM471.2 943.2h1.6V944.7h-1.6zM442 943.3h1V944.7h-1zM542 943.1h1V944.7h-1zM475.9 942.5h1.2V944.7h-1.2zM457.2 942.5h1.6V944.7h-1.6zM488.7 942.9h1.6V944.7h-1.6zM476.9 943h1.2V944.7h-1.2zM642.9 942.9h1.2V944.7h-1.2zM597.7 941.7h1.6V944.7h-1.6zM596.5 942.7h1V944.7h-1zM633.7 943h1.6V944.7h-1.6zM638 943.4h1V944.7h-1zM598.2 943.5h1.6V944.7h-1.6zM587.5 942.3h2V944.7h-2zM579.4 942.1h1.2V944.7h-1.2zM629.2 943.5h1.6V944.7h-1.6zM650 941.5h2V944.7h-2zM608.7 942.7h1.6V944.7h-1.6zM647.7 943.5h1.6V944.7h-1.6zM648.4 942.8h1.2V944.7h-1.2zM623.2 943.2h1.6V944.7h-1.6zM562.5 942.3h1V944.7h-1zM621.5 942.6h2V944.7h-2zM138.2 845.3h1.1V944.7h-1.1zM140.7 918.5h1.1V944.7h-1.1zM150 926.6h1.1V944.7h-1.1zM153.2 931h1.1V944.7h-1.1zM160.9 807.4h2V944.7h-2zM165.9 921h1.1V944.7h-1.1zM168.4 925.4h1.1V944.7h-1.1zM175.3 903.5h1.1V944.7h-1.1zM189 818.6h1.1V944.7h-1.1zM191.3 927.2h1.1V944.7h-1.1zM195.9 908.9h1.1V944.7h-1.1zM204.4 934.8h1.1V944.7h-1.1zM205.7 860.4h1.1V944.7h-1.1zM208.8 932.9h1.1V944.7h-1.1zM212.2 931h1.8V944.7h-1.8zM218.8 925.4h1.1V944.7h-1.1zM229.4 934h1.1V944.7h-1.1zM234.7 934h1.1V944.7h-1.1zM240.8 910.4h1.4V944.7h-1.4zM250 939h1.1V944.7h-1.1zM265.7 939h1.1V944.7h-1.1zM308.2 934.8h1.1V944.7h-1.1zM312.2 933.5h1.1V944.7h-1.1zM343.8 911.6h1.1V944.7h-1.1zM369 926h1.5V944.7h-1.5zM382.6 932.9h1.1V944.7h-1.1zM388.2 911.6h1.1V944.7h-1.1zM389.1 931h1.1V944.7h-1.1zM400.2 873.5h2V944.7h-2zM413.8 924.8h1.1V944.7h-1.1zM420.1 934.8h1.1V944.7h-1.1zM430.1 920.4h1.1V944.7h-1.1zM446.9 931.6h1.1V944.7h-1.1zM472.1 927.2h1.5V944.7h-1.5zM496.9 931h1.1V944.7h-1.1zM506.8 899.1h1.6V944.7h-1.6zM523 941h1.1V944.7h-1.1zM532.9 926h1.1V944.7h-1.1zM539.9 931h1.1V944.7h-1.1zM548.9 932h1.1V944.7h-1.1zM553.2 935.4h1.1V944.7h-1.1zM600.1 918.5h1.1V944.7h-1.1zM607 940h1.1V944.7h-1.1zM616.7 904.5h1.1V944.7h-1.1zM626.5 889.8h1.6V944.7h-1.6zM630.7 939h1.1V944.7h-1.1zM654 934h1.4V944.7h-1.4z"/>
<path fill="#909cd2" d="M159.3 815.5h1.6V944.7h-1.6zM354.4 920.4h1.6V944.7h-1.6zM479.4 923.5h1.8V944.7h-1.8z"/>
<path fill="#6f9a3c" d="M394.9 893.5h1.1V944.7h-1.1zM399.8 800.9h1.1V944.7h-1.1z"/>
<path fill="#4658a8" d="M165 924h1.1V944.7h-1.1zM174.8 749h1.1V944.7h-1.1zM226.9 932.9h1.1V944.7h-1.1zM232.1 894.8h1.1V944.7h-1.1zM241.9 852.5h1.1V944.7h-1.1zM279.1 916.6h1.1V944.7h-1.1zM284.7 939h1.1V944.7h-1.1zM294.4 921.6h1.1V944.7h-1.1zM421.1 939h1.1V944.7h-1.1zM489.1 939h1.1V944.7h-1.1zM517 932.2h1.1V944.7h-1.1zM527 926h1.1V944.7h-1.1zM571 939h1.1V944.7h-1.1zM576 939h1.1V944.7h-1.1zM586 919.8h1.1V944.7h-1.1zM653.2 927.2h1.1V944.7h-1.1z"/>
<path fill="#d6343a" d="M146.9 810.3h1.1V944.7h-1.1zM214.2 882.2h1.6V944.7h-1.6zM257.8 929h1.1V944.7h-1.1zM274.1 920.4h1.1V944.7h-1.1zM287.9 938.5h1.1V944.7h-1.1zM311.1 880.5h1.1V944.7h-1.1zM314.6 933.5h1.1V944.7h-1.1zM347.9 906h1.1V944.7h-1.1zM374.1 657.2h1.1V944.7h-1.1zM378.2 892.2h1.1V944.7h-1.1zM445.7 851.6h1.1V944.7h-1.1zM506.2 748h1.1V944.7h-1.1zM557.7 789h2V944.7h-2zM625.9 803h1.1V944.7h-1.1zM677 925h1.1V944.7h-1.1z"/>
<text class="pk r" x="141" y="804">y1</text>
<text class="pk b" x="154.3" y="809">a2</text>
<text class="pk b" x="167.8" y="742.6">b2</text>
<text class="pk b" x="151.5" y="917.9">b2-18</text>
<text class="pk b" x="210.6" y="864.8">b3-18</text>
<text class="pk r" x="209" y="877.2">y2</text>
<text class="pk b" x="235.6" y="846">b3</text>
<text class="pk b" x="219" y="926.2">a3</text>
<text class="pk r" x="245.4" y="926" textLength="24">y6++</text>
<text class="pk r" x="260.6" y="914.8">y3</text>
<text class="pk b" x="274.4" y="910.8">a4</text>
<text class="pk b" x="288" y="915.4">b4</text>
<text class="pk b" x="270.6" y="932.9">b4-18</text>
<text class="pk r" x="275.6" y="932.9" textLength="24">y7++</text>
<text class="pk r" x="306" y="874.8">y4</text>
<text class="pk r" x="313" y="926" textLength="24">y8++</text>
<text class="pk r" x="335" y="899.1" textLength="24">y9++</text>
<text class="pk b" x="348.8" y="914.1">b5</text>
<text class="pk b" x="331.2" y="935.4">b5-18</text>
<text class="pk r" x="358" y="650.4" textLength="29.4">y10++</text>
<text class="pk r" x="375.9" y="885.4">y5</text>
<text class="pk g" x="384.6" y="886.6">M-18</text>
<text class="pk g" x="395.6" y="794.8">M</text>
<text class="pk b" x="406.6" y="920">b6</text>
<text class="pk r" x="440.2" y="847.6">y6</text>
<text class="pk b" x="453.8" y="917.5">b7-18</text>
<text class="pk b" x="482.5" y="932.5">b7</text>
<text class="pk r" x="500.9" y="740.4">y7</text>
<text class="pk b" x="503.8" y="926.6">b8-18</text>
<text class="pk b" x="520" y="919.1">b8</text>
<text class="pk r" x="552.2" y="781.7">y8</text>
<text class="pk b" x="562.5" y="932.9">b9-18</text>
<text class="pk b" x="566.5" y="932.9">a9</text>
<text class="pk b" x="579.6" y="912.9">b9</text>
<text class="pk r" x="620" y="797">y9</text>
<text class="pk b" x="643.8" y="920.4">b10</text>
<text class="pk r" x="668" y="918.5">y10</text>
<path d="M223 867.5L232.5 893.5M214.5 879L215 882M228 929L228.5 933M258.4 928L258.4 924M267 917L274 920.5M279.6 912.5L279.6 916M295 917L295 921M311.6 876.5L311.6 880M315 933L326 928M354 916L355 920.5M379.5 889L379.2 892M395.5 889L395.5 893M412.5 922L421 938M467 919.5L480 923.5M488.5 935L489.5 939M517.5 927.5L517.5 932M526.5 921L527.3 926M558.7 784L558.7 788M585.5 914.5L586.3 919.5M626.4 799L626.4 802.5M652.5 924L653.5 927M288.2 934L288.4 938.5" stroke="#d6343a" stroke-width="0.9" stroke-dasharray="1 1.6" fill="none"/>
<path d="M574.2 592.7V585.2h5.8M592.5 592.7V585.2h5.8M610 592.7V585.2h5.8M629.1 592.7V585.2h5.8M647.8 592.7V585.2h5.8M667.2 592.7V585.2h5.8M684.5 592.7V585.2h5.8M703.9 592.7V585.2h5.8M721.1 592.7V585.2h5.8M739.5 592.7V585.2h5.8" stroke="#c9252c" stroke-width="1.2" fill="none"/>
<path d="M595 611.8V619h-5.6M612.6 611.8V619h-5.6M631.7 611.8V619h-5.6M649 611.8V619h-5.6M668.4 611.8V619h-5.6M686.6 611.8V619h-5.6M706 611.8V619h-5.6M723.3 611.8V619h-5.6M741.5 611.8V619h-5.6" stroke="#3f51b5" stroke-width="1.2" fill="none"/>
<circle cx="652.8" cy="601.3" r="11.8" fill="#7aa9d6"/>
<text class="fm" y="607.9" x="560.8 579.1 597 615.2 633.4">TPEVD</text>
<text class="fm w" y="607.9" x="652.8">K</text>
<text class="fm" y="607.9" x="673 690.9 709.6 727.6 745.8">EALEK</text>
<text class="fn" x="576.2" y="578.4">10</text>
<text class="fn" x="595" y="578.4">9</text>
<text class="fn" x="612.3" y="578.4">8</text>
<text class="fn" x="630.3" y="578.4">7</text>
<text class="fn" x="649.7" y="578.4">6</text>
<text class="fn" x="668.2" y="578.4">5</text>
<text class="fn" x="686.9" y="578.4">4</text>
<text class="fn" x="706.7" y="578.4">3</text>
<text class="fn" x="722.8" y="578.4">2</text>
<text class="fn" x="743.1" y="578.4">1</text>
<text class="fn" x="574.2" y="634.5">1</text>
<text class="fn" x="592" y="634.5">2</text>
<text class="fn" x="609" y="634.5">3</text>
<text class="fn" x="627" y="634.5">4</text>
<text class="fn" x="646.4" y="634.5">5</text>
<text class="fn" x="664.8" y="634.5">6</text>
<text class="fn" x="683.7" y="634.5">7</text>
<text class="fn" x="703.1" y="634.5">8</text>
<text class="fn" x="719.7" y="634.5">9</text>
<text class="fn" x="742.4" y="634.5">10</text>
</g>
<g id="panelD">
<text class="pl" x="837" y="589">D</text>
<circle cx="1102.6" cy="578.3" r="14.1" fill="#e35b69"/>
<text class="sh" y="586.8" x="989 1011.8 1034.2 1058.2 1078.2">TPEVD</text>
<text class="sh w" y="586.8" x="1103.2">D</text>
<text class="sh" y="586.8" x="1130.3 1151.8 1173.4 1195.2 1215.8 1238 1259.7 1283.9">EALEKFDK</text>
<path d="M954.5 569.5V947.2M954 947.2H1590.6M945.7 944.7H954.5M945.7 897.2H954.5M945.7 849.8H954.5M945.7 802.4H954.5M945.7 754.9H954.5M945.7 707.5H954.5M945.7 660H954.5M945.7 612.5H954.5M950 935.2H954.5M950 925.7H954.5M950 916.2H954.5M950 906.7H954.5M950 887.8H954.5M950 878.3H954.5M950 868.8H954.5M950 859.3H954.5M950 840.3H954.5M950 830.8H954.5M950 821.3H954.5M950 811.8H954.5M950 792.9H954.5M950 783.4H954.5M950 773.9H954.5M950 764.4H954.5M950 745.4H954.5M950 735.9H954.5M950 726.4H954.5M950 716.9H954.5M950 698H954.5M950 688.5H954.5M950 679H954.5M950 669.5H954.5M950 650.5H954.5M950 641H954.5M950 631.5H954.5M950 622H954.5M950 603.1H954.5M950 593.6H954.5M950 584.1H954.5M950 574.6H954.5M993.8 947.2V954.7M1079.5 947.2V954.7M1165.3 947.2V954.7M1251 947.2V954.7M1336.8 947.2V954.7M1422.5 947.2V954.7M1508.3 947.2V954.7M1036.6 947.2V952.7M1122.4 947.2V952.7M1208.2 947.2V952.7M1293.9 947.2V952.7M1379.7 947.2V952.7M1465.4 947.2V952.7M1551.2 947.2V952.7M972.3 947.2V951.2M1015.2 947.2V951.2M1058.1 947.2V951.2M1101 947.2V951.2M1143.8 947.2V951.2M1186.7 947.2V951.2M1229.6 947.2V951.2M1272.5 947.2V951.2M1315.3 947.2V951.2M1358.2 947.2V951.2M1401.1 947.2V951.2M1444 947.2V951.2M1486.9 947.2V951.2M1529.8 947.2V951.2M1572.6 947.2V951.2" stroke="#000" stroke-width="1.1" fill="none"/>
<text class="tk" text-anchor="end" x="943" y="947.4">0.000e+0</text>
<text class="tk" text-anchor="end" x="943" y="900">5.000e+4</text>
<text class="tk" text-anchor="end" x="943" y="852.5">1.000e+5</text>
<text class="tk" text-anchor="end" x="943" y="805.1">1.500e+5</text>
<text class="tk" text-anchor="end" x="943" y="757.6">2.000e+5</text>
<text class="tk" text-anchor="end" x="943" y="710.2">2.500e+5</text>
<text class="tk" text-anchor="end" x="943" y="662.7">3.000e+5</text>
<text class="tk" text-anchor="end" x="943" y="615.2">3.500e+5</text>
<text class="tk xl" text-anchor="middle" x="992.4" y="965.5" textLength="13.6" lengthAdjust="spacingAndGlyphs">200</text>
<text class="tk xl" text-anchor="middle" x="1078.1" y="965.5" textLength="13.6" lengthAdjust="spacingAndGlyphs">400</text>
<text class="tk xl" text-anchor="middle" x="1163.9" y="965.5" textLength="13.6" lengthAdjust="spacingAndGlyphs">600</text>
<text class="tk xl" text-anchor="middle" x="1249.6" y="965.5" textLength="13.6" lengthAdjust="spacingAndGlyphs">800</text>
<text class="tk xl" text-anchor="middle" x="1335.4" y="965.5" textLength="18.2" lengthAdjust="spacingAndGlyphs">1000</text>
<text class="tk xl" text-anchor="middle" x="1421.1" y="965.5" textLength="18.2" lengthAdjust="spacingAndGlyphs">1200</text>
<text class="tk xl" text-anchor="middle" x="1506.9" y="965.5" textLength="18.2" lengthAdjust="spacingAndGlyphs">1400</text>
<text class="tk" text-anchor="middle" x="1207.2" y="961.8">m/z</text>
<text class="it" text-anchor="middle" transform="translate(884.4 757.5) rotate(-90)">Intensity</text>
<path fill="#6a6a6a" d="M1089.5 939h1V944.7h-1zM1054.2 941.7h1.6V944.7h-1.6zM1041.7 939.9h1.6V944.7h-1.6zM1088.9 941.9h1.2V944.7h-1.2zM1066 943h2V944.7h-2zM1000.5 942.8h2V944.7h-2zM1070.9 943.4h1.2V944.7h-1.2zM1037 943.2h1V944.7h-1zM997 943.5h2V944.7h-2zM1057.2 942.8h1.6V944.7h-1.6zM1080.9 943.2h1.2V944.7h-1.2zM1047.9 943h1.2V944.7h-1.2zM985.2 941.3h1.6V944.7h-1.6zM1027.9 941.5h1.2V944.7h-1.2zM1026 943.4h2V944.7h-2zM1022.7 943h1.6V944.7h-1.6zM1062 943.4h2V944.7h-2zM1024.2 939.4h1.6V944.7h-1.6zM1053.5 943.4h2V944.7h-2zM1055.9 941.8h1.2V944.7h-1.2zM985.5 942h2V944.7h-2zM1007 940.4h1V944.7h-1zM990.5 939.7h1V944.7h-1zM1092.4 941.7h1.2V944.7h-1.2zM1063.2 940.3h1.6V944.7h-1.6zM1070.2 941.5h1.6V944.7h-1.6zM1095.9 941.3h1.2V944.7h-1.2zM1034.5 941.7h1V944.7h-1zM975.2 940.9h1.6V944.7h-1.6zM1070 943.4h2V944.7h-2zM1052.2 939h1.6V944.7h-1.6zM1057.5 943.1h1V944.7h-1zM1087.2 942.1h1.6V944.7h-1.6zM1249.4 943.5h1.2V944.7h-1.2zM1304 942.6h2V944.7h-2zM1216.5 941.5h2V944.7h-2zM1300.9 942.6h1.2V944.7h-1.2zM1173.4 943.5h1.2V944.7h-1.2zM1261.9 942.5h1.2V944.7h-1.2zM1220.5 943.3h1V944.7h-1zM1250.9 943.1h1.2V944.7h-1.2zM1217 943.1h2V944.7h-2zM1100.2 942.3h1.6V944.7h-1.6zM1210 943.5h1V944.7h-1zM1284.2 943.1h1.6V944.7h-1.6zM1106.7 941h1.6V944.7h-1.6zM1217.5 943.4h2V944.7h-2zM1321.5 940.9h2V944.7h-2zM1115.7 943.5h1.6V944.7h-1.6zM1139 940.6h1V944.7h-1zM1162.5 942.8h2V944.7h-2zM1181 943.4h2V944.7h-2zM1290.7 943.4h1.6V944.7h-1.6zM1282.4 942.9h1.2V944.7h-1.2zM1211.5 939.8h2V944.7h-2zM1182 943.5h2V944.7h-2zM1264 940.9h2V944.7h-2zM1201.5 942.5h2V944.7h-2zM1256 939.9h1V944.7h-1zM1256.2 939.9h1.6V944.7h-1.6zM1217.5 943.5h2V944.7h-2zM1312 940.6h2V944.7h-2zM1118.4 942.6h1.2V944.7h-1.2zM1100.4 943.4h1.2V944.7h-1.2zM1315.5 943h2V944.7h-2zM1285.5 943.2h1V944.7h-1zM1369.9 943.2h1.2V944.7h-1.2zM1374.4 943.3h1.2V944.7h-1.2zM1373.5 943.4h1V944.7h-1zM1422 943.2h1V944.7h-1zM1500.4 942.9h1.2V944.7h-1.2zM1526 943.1h2V944.7h-2zM1441.5 942.7h1V944.7h-1zM1446.5 942.5h1V944.7h-1zM968.9 932.9h1.1V944.7h-1.1zM1010.5 927.9h1.1V944.7h-1.1zM1093 934h1.1V944.7h-1.1zM1095.5 937h1.1V944.7h-1.1zM1115 932.9h1.1V944.7h-1.1zM1157.2 936.6h1.1V944.7h-1.1zM1162 932.2h1.1V944.7h-1.1zM1167 935.4h1.1V944.7h-1.1zM1201.4 936.6h1.1V944.7h-1.1zM1203.9 916h1.1V944.7h-1.1zM1205.4 935.4h1.1V944.7h-1.1zM1212.5 927.9h1.1V944.7h-1.1zM1227.5 927.9h1.1V944.7h-1.1zM1230.7 933h1.6V944.7h-1.6zM1233 932h2V944.7h-2zM1249.5 922.2h1.5V944.7h-1.5zM1273.3 908h1.5V944.7h-1.5zM1285 927.9h1.1V944.7h-1.1zM1303.5 925h1.1V944.7h-1.1zM1406.5 918.2h1.4V944.7h-1.4zM1497.9 936.6h1.1V944.7h-1.1zM1578.3 936.6h1.4V944.7h-1.4z"/>
<path fill="#111" d="M969.7 943.1h1.6V944.7h-1.6zM984.4 943.4h1.2V944.7h-1.2zM1049 939.5h2V944.7h-2zM1022.7 942.4h1.6V944.7h-1.6zM1068.7 943.3h1.6V944.7h-1.6zM1054 943.1h2V944.7h-2zM990.9 942.5h1.2V944.7h-1.2zM991.4 943.4h1.2V944.7h-1.2zM1044.2 943.5h1.6V944.7h-1.6zM1091.5 943.2h1V944.7h-1zM1016 943.2h2V944.7h-2zM1040 943.2h1V944.7h-1zM1060.9 940.2h1.2V944.7h-1.2zM1026.5 943.5h2V944.7h-2zM970.4 940.4h1.2V944.7h-1.2zM1073.5 939h2V944.7h-2zM1032.4 943.5h1.2V944.7h-1.2zM1067 942.6h1V944.7h-1zM980.9 942.3h1.2V944.7h-1.2zM1067.9 941.5h1.2V944.7h-1.2zM1085.4 941.3h1.2V944.7h-1.2zM1039.5 942.7h1V944.7h-1zM1076.2 943.5h1.6V944.7h-1.6zM1094.9 941h1.2V944.7h-1.2zM1093 943.5h1V944.7h-1zM998 942.1h2V944.7h-2zM1098 943.2h1V944.7h-1zM1072 943.5h2V944.7h-2zM1093.4 942.8h1.2V944.7h-1.2zM1069.7 941.4h1.6V944.7h-1.6zM1093.5 943h2V944.7h-2zM1084.2 941.4h1.6V944.7h-1.6zM1038.2 941.3h1.6V944.7h-1.6zM1097.5 943.4h2V944.7h-2zM1098 943.2h1V944.7h-1zM1067.5 942.1h2V944.7h-2zM1073.9 943.2h1.2V944.7h-1.2zM1049 940.6h2V944.7h-2zM973 943.5h1V944.7h-1zM1029.5 941.2h1V944.7h-1zM1075.7 941.9h1.6V944.7h-1.6zM971.4 943h1.2V944.7h-1.2zM994.4 942.7h1.2V944.7h-1.2zM1037.7 939.9h1.6V944.7h-1.6zM1037.2 943.3h1.6V944.7h-1.6zM1014.5 938.7h1V944.7h-1zM1032.4 943h1.2V944.7h-1.2zM995.2 942.8h1.6V944.7h-1.6zM1064 942.5h2V944.7h-2zM1015.7 939h1.6V944.7h-1.6zM1094.5 942.2h2V944.7h-2zM1074.9 943.4h1.2V944.7h-1.2zM1054.5 942.7h1V944.7h-1zM1019 942.9h1V944.7h-1zM1038.5 943.5h2V944.7h-2zM1058 938.7h1V944.7h-1zM1049.4 940.8h1.2V944.7h-1.2zM1079.7 940.6h1.6V944.7h-1.6zM1011.9 940.9h1.2V944.7h-1.2zM976 940.6h1V944.7h-1zM1059.5 943.1h1V944.7h-1zM1076.5 938.9h2V944.7h-2zM1093.7 941.7h1.6V944.7h-1.6zM1039.5 942.8h1V944.7h-1zM1083 943.4h1V944.7h-1zM975.5 941.5h1V944.7h-1zM1046 942.9h2V944.7h-2zM1073 941.7h1V944.7h-1zM1013.5 942h2V944.7h-2zM968.2 942.4h1.6V944.7h-1.6zM1007.9 940.1h1.2V944.7h-1.2zM1066.9 943.4h1.2V944.7h-1.2zM1078.4 943.2h1.2V944.7h-1.2zM982 942.7h2V944.7h-2zM1097.4 940.7h1.2V944.7h-1.2zM986.9 941.7h1.2V944.7h-1.2zM988.5 942.2h1V944.7h-1zM1041.9 938.8h1.2V944.7h-1.2zM1064.5 943.4h1V944.7h-1zM1067.2 942.7h1.6V944.7h-1.6zM1013.2 943.3h1.6V944.7h-1.6zM1021 941.5h1V944.7h-1zM971.9 939.3h1.2V944.7h-1.2zM981.2 941h1.6V944.7h-1.6zM1021 943.4h2V944.7h-2zM1056.2 943.4h1.6V944.7h-1.6zM1040 939.7h1V944.7h-1zM990.7 943.5h1.6V944.7h-1.6zM1023.5 939.7h1V944.7h-1zM1074.9 942.3h1.2V944.7h-1.2zM1032 943.1h2V944.7h-2zM1012.5 942.2h1V944.7h-1zM1066 939.6h1V944.7h-1zM975.5 943.4h2V944.7h-2zM1004.7 943.4h1.6V944.7h-1.6zM1011 942h2V944.7h-2zM1088 938.5h2V944.7h-2zM1086.5 940.9h1V944.7h-1zM1069.5 940.6h1V944.7h-1zM1076.5 942.2h1V944.7h-1zM983.5 943.5h2V944.7h-2zM1070.4 942.2h1.2V944.7h-1.2zM1060.4 943.2h1.2V944.7h-1.2zM982 938.6h1V944.7h-1zM1073.9 943.3h1.2V944.7h-1.2zM1079.4 938.6h1.2V944.7h-1.2zM983 943.3h1V944.7h-1zM1081.7 943.5h1.6V944.7h-1.6zM991.4 940.2h1.2V944.7h-1.2zM968 941.3h2V944.7h-2zM979 943.4h1V944.7h-1zM1073.5 939.5h1V944.7h-1zM968 942.9h1V944.7h-1zM1035.5 941.2h1V944.7h-1zM1084.4 943.3h1.2V944.7h-1.2zM967.9 943.5h1.2V944.7h-1.2zM1091.5 940h2V944.7h-2zM1037.5 942.4h1V944.7h-1zM1082.2 942.1h1.6V944.7h-1.6zM1043 943.3h1V944.7h-1zM1011.4 939.2h1.2V944.7h-1.2zM1031.7 943.5h1.6V944.7h-1.6zM1051.2 941.5h1.6V944.7h-1.6zM1071.5 943.3h1V944.7h-1zM974.5 939.8h2V944.7h-2zM1058.5 939.5h1V944.7h-1zM1086 943.4h1V944.7h-1zM1038.5 942.6h2V944.7h-2zM1002.4 942.9h1.2V944.7h-1.2zM971 940.4h2V944.7h-2zM1092.4 943.3h1.2V944.7h-1.2zM988.4 941h1.2V944.7h-1.2zM1085.2 942.7h1.6V944.7h-1.6zM986.5 939.3h2V944.7h-2zM992 940.4h2V944.7h-2zM1068.2 942.6h1.6V944.7h-1.6zM978.9 943.3h1.2V944.7h-1.2zM1013.9 941.4h1.2V944.7h-1.2zM994 943.4h1V944.7h-1zM1071 942.9h1V944.7h-1zM993.2 942.3h1.6V944.7h-1.6zM1047.4 943.5h1.2V944.7h-1.2zM1041.7 939.1h1.6V944.7h-1.6zM1066.9 943.5h1.2V944.7h-1.2zM991.2 941.1h1.6V944.7h-1.6zM1033.5 941.9h2V944.7h-2zM1049.7 942.9h1.6V944.7h-1.6zM1098 943.4h1V944.7h-1zM1045.5 940.4h1V944.7h-1zM967.5 939.9h2V944.7h-2zM984.2 942.5h1.6V944.7h-1.6zM1284.4 943.3h1.2V944.7h-1.2zM1265.2 943.4h1.6V944.7h-1.6zM1191.5 943.5h2V944.7h-2zM1133 943.1h2V944.7h-2zM1268.4 943.5h1.2V944.7h-1.2zM1234.7 943.4h1.6V944.7h-1.6zM1186.2 941.4h1.6V944.7h-1.6zM1185.5 939.8h2V944.7h-2zM1265 943.4h1V944.7h-1zM1281.5 941.5h1V944.7h-1zM1323.2 943.1h1.6V944.7h-1.6zM1334.4 940.5h1.2V944.7h-1.2zM1299.9 943h1.2V944.7h-1.2zM1137.5 942h2V944.7h-2zM1219.5 943h2V944.7h-2zM1298.5 943.1h1V944.7h-1zM1228.4 943.5h1.2V944.7h-1.2zM1147.7 943.3h1.6V944.7h-1.6zM1123 940.9h2V944.7h-2zM1297.4 940.8h1.2V944.7h-1.2zM1281.5 942.4h1V944.7h-1zM1101.5 939.5h1V944.7h-1zM1298.4 942.5h1.2V944.7h-1.2zM1235 942h2V944.7h-2zM1120.5 943.5h1V944.7h-1zM1116.4 941.5h1.2V944.7h-1.2zM1156.4 941.9h1.2V944.7h-1.2zM1260 940.7h2V944.7h-2zM1156.5 943.5h2V944.7h-2zM1271.5 942.3h2V944.7h-2zM1160 941h2V944.7h-2zM1116.7 943.2h1.6V944.7h-1.6zM1255.7 941.3h1.6V944.7h-1.6zM1226.9 943.1h1.2V944.7h-1.2zM1165.4 940.1h1.2V944.7h-1.2zM1127.4 941.7h1.2V944.7h-1.2zM1187.5 942.1h2V944.7h-2zM1216 943.2h2V944.7h-2zM1166.7 942h1.6V944.7h-1.6zM1136.7 942.5h1.6V944.7h-1.6zM1176.4 942.6h1.2V944.7h-1.2zM1265.2 941.4h1.6V944.7h-1.6zM1215.2 943.4h1.6V944.7h-1.6zM1302 940.3h2V944.7h-2zM1194.2 941.5h1.6V944.7h-1.6zM1305.4 942.4h1.2V944.7h-1.2zM1294.5 943.5h2V944.7h-2zM1324.5 943.4h1V944.7h-1zM1226.5 941.9h1V944.7h-1zM1208.9 940.7h1.2V944.7h-1.2zM1243.2 941.2h1.6V944.7h-1.6zM1113 943.2h1V944.7h-1zM1331.9 940.5h1.2V944.7h-1.2zM1126.9 943.3h1.2V944.7h-1.2zM1221.2 942.4h1.6V944.7h-1.6zM1118.9 943.5h1.2V944.7h-1.2zM1163 942.7h1V944.7h-1zM1293 940.7h2V944.7h-2zM1255.2 942.1h1.6V944.7h-1.6zM1305.4 943.1h1.2V944.7h-1.2zM1222.5 942.5h1V944.7h-1zM1203.5 943.4h2V944.7h-2zM1248 941h2V944.7h-2zM1184.9 943.5h1.2V944.7h-1.2zM1174.2 940.6h1.6V944.7h-1.6zM1139 943h1V944.7h-1zM1296.4 943.4h1.2V944.7h-1.2zM1257.9 942.9h1.2V944.7h-1.2zM1213 942.8h2V944.7h-2zM1158.5 940.3h1V944.7h-1zM1248 941.6h1V944.7h-1zM1270.4 941.3h1.2V944.7h-1.2zM1271.2 942.2h1.6V944.7h-1.6zM1310.2 941h1.6V944.7h-1.6zM1157 943.3h1V944.7h-1zM1116.2 940.7h1.6V944.7h-1.6zM1263.9 942.2h1.2V944.7h-1.2zM1135.5 941.2h2V944.7h-2zM1267 941.2h1V944.7h-1zM1146.5 941.8h1V944.7h-1zM1327 943.5h2V944.7h-2zM1316.2 940.3h1.6V944.7h-1.6zM1160.2 943.5h1.6V944.7h-1.6zM1224 942.7h1V944.7h-1zM1326.5 940.6h2V944.7h-2zM1227.5 943.2h1V944.7h-1zM1296.7 941.6h1.6V944.7h-1.6zM1327 943.5h1V944.7h-1zM1306 941.7h1V944.7h-1zM1103.9 939.6h1.2V944.7h-1.2zM1117.5 943.5h1V944.7h-1zM1295 943.2h2V944.7h-2zM1175.2 942.5h1.6V944.7h-1.6zM1116.5 942.5h1V944.7h-1zM1124 942.2h2V944.7h-2zM1338 942.2h2V944.7h-2zM1237.2 942.4h1.6V944.7h-1.6zM1306.5 943.5h2V944.7h-2zM1274 942.7h1V944.7h-1zM1316.4 940h1.2V944.7h-1.2zM1119.7 941.8h1.6V944.7h-1.6zM1219.5 941.7h2V944.7h-2zM1265.4 943.1h1.2V944.7h-1.2zM1130 943.1h2V944.7h-2zM1333 943.1h2V944.7h-2zM1321.5 940h1V944.7h-1zM1239 941.6h2V944.7h-2zM1241.5 943.1h2V944.7h-2zM1191 943.2h1V944.7h-1zM1204.9 942h1.2V944.7h-1.2zM1195 940.2h2V944.7h-2zM1241.7 941.9h1.6V944.7h-1.6zM1292.2 943.5h1.6V944.7h-1.6zM1151.5 943h1V944.7h-1zM1136.2 943.5h1.6V944.7h-1.6zM1113.4 943.4h1.2V944.7h-1.2zM1283.2 940.9h1.6V944.7h-1.6zM1302.5 943.5h2V944.7h-2zM1305.7 941.1h1.6V944.7h-1.6zM1298.5 943.2h1V944.7h-1zM1203 942.2h1V944.7h-1zM1100 939.9h2V944.7h-2zM1119.2 940.4h1.6V944.7h-1.6zM1174 941.8h1V944.7h-1zM1234.2 943.2h1.6V944.7h-1.6zM1188.7 942.6h1.6V944.7h-1.6zM1133.2 942.1h1.6V944.7h-1.6zM1201.4 942.7h1.2V944.7h-1.2zM1222 943.5h2V944.7h-2zM1259.7 942.6h1.6V944.7h-1.6zM1209.9 939.9h1.2V944.7h-1.2zM1144.2 941.3h1.6V944.7h-1.6zM1135 939.9h2V944.7h-2zM1141 943.5h1V944.7h-1zM1196.5 943.5h2V944.7h-2zM1130 942.9h2V944.7h-2zM1330.9 940.4h1.2V944.7h-1.2zM1219.5 940.8h2V944.7h-2zM1198.5 941.9h2V944.7h-2zM1223.2 941.8h1.6V944.7h-1.6zM1148.5 943h2V944.7h-2zM1220.2 941.3h1.6V944.7h-1.6zM1239 943.1h1V944.7h-1zM1212.2 942.8h1.6V944.7h-1.6zM1320 943.4h1V944.7h-1zM1113 943.1h1V944.7h-1zM1190 939.8h2V944.7h-2zM1351.5 942.8h1V944.7h-1zM1361 941.9h1V944.7h-1zM1355.7 941.6h1.6V944.7h-1.6zM1347.5 942.4h1V944.7h-1zM1369.4 943h1.2V944.7h-1.2zM1354.7 942.8h1.6V944.7h-1.6zM1422.7 941.2h1.6V944.7h-1.6zM1389.9 943h1.2V944.7h-1.2zM1354.5 942.2h1V944.7h-1zM1387 941.7h2V944.7h-2zM1390.7 942.9h1.6V944.7h-1.6zM1437.2 943.3h1.6V944.7h-1.6zM1383 943.2h1V944.7h-1zM1365.5 942.8h1V944.7h-1zM1403 940.6h2V944.7h-2zM1355 943.2h2V944.7h-2zM1365.5 943h2V944.7h-2zM1397.4 943.2h1.2V944.7h-1.2zM1356 943.5h2V944.7h-2zM1363 942.2h2V944.7h-2zM1397 943.5h1V944.7h-1zM1377 941.4h2V944.7h-2zM1423.4 940.7h1.2V944.7h-1.2zM1425.9 941.7h1.2V944.7h-1.2zM1340 943.4h1V944.7h-1zM1347 942.7h1V944.7h-1zM1524.5 942h2V944.7h-2zM1523.5 943.1h2V944.7h-2zM1505.7 942.5h1.6V944.7h-1.6zM1480.5 943.2h2V944.7h-2zM1457.2 943.4h1.6V944.7h-1.6zM1487.2 943.5h1.6V944.7h-1.6zM1461 943.1h1V944.7h-1zM1529.9 942.3h1.2V944.7h-1.2zM1527 941.2h2V944.7h-2zM1521.4 943.3h1.2V944.7h-1.2zM1450.9 942.6h1.2V944.7h-1.2zM974.1 898.2h1.1V944.7h-1.1zM982.9 915.4h1.1V944.7h-1.1zM982.8 924.8h2V944.7h-2zM986.5 934h2V944.7h-2zM993.5 924.8h1.1V944.7h-1.1zM998.2 936h1.1V944.7h-1.1zM1004.9 884.1h1.1V944.7h-1.1zM1004.2 927.9h1.8V944.7h-1.8zM1012 933.5h1.1V944.7h-1.1zM1018.2 936h1.1V944.7h-1.1zM1023 923.2h1.1V944.7h-1.1zM1028.9 932.9h1.1V944.7h-1.1zM1030.7 934.8h1.1V944.7h-1.1zM1043 934h1.1V944.7h-1.1zM1046.7 931h1.1V944.7h-1.1zM1047.8 909.8h1.4V944.7h-1.4zM1059 930.4h1.1V944.7h-1.1zM1067 936.6h1.1V944.7h-1.1zM1072 936.6h1.1V944.7h-1.1zM1075 934h1.1V944.7h-1.1zM1079.2 934.8h1.1V944.7h-1.1zM1084 917h1.1V944.7h-1.1zM1084.9 932.9h1.1V944.7h-1.1zM1097.2 918.9h1.1V944.7h-1.1zM1121 882.2h1.1V944.7h-1.1zM1130 934h1.1V944.7h-1.1zM1138.4 926h2V944.7h-2zM1145.7 917h1.1V944.7h-1.1zM1151.4 928.5h1.1V944.7h-1.1zM1169.9 900.4h1.1V944.7h-1.1zM1174.5 937h1.1V944.7h-1.1zM1186.4 934.8h1.1V944.7h-1.1zM1197 938.5h1.1V944.7h-1.1zM1217 927.2h1.1V944.7h-1.1zM1255.2 906h1.1V944.7h-1.1zM1258.8 661.5h1.6V944.7h-1.6zM1259.8 931h2V944.7h-2zM1313.9 936.6h1.1V944.7h-1.1zM1314.2 936.6h1.1V944.7h-1.1zM1328.2 923.5h1.5V944.7h-1.5zM1331 936.6h1.1V944.7h-1.1zM1334 773.6h1.1V944.7h-1.1zM1334.7 929.1h1.5V944.7h-1.5zM1346 938.5h1.1V944.7h-1.1zM1363.9 935.4h1.4V944.7h-1.4zM1379.7 934h1.1V944.7h-1.1zM1397.9 933.2h1.1V944.7h-1.1zM1401.1 902.9h1.6V944.7h-1.6zM1402 893.2h1.1V944.7h-1.1zM1419 934h1.1V944.7h-1.1zM1427.6 915.1h1.6V944.7h-1.6zM1432.2 932.2h1.1V944.7h-1.1zM1456 939h1.1V944.7h-1.1zM1461.1 936h1.6V944.7h-1.6zM1469.9 920.4h1.6V944.7h-1.6zM1503.9 941h1.1V944.7h-1.1zM1512 941.5h1.1V944.7h-1.1zM1516.1 931.6h1.6V944.7h-1.6zM1524.7 913.5h1.6V944.7h-1.6zM1528.9 936.6h1.1V944.7h-1.1zM1536 927.9h1.1V944.7h-1.1zM1554.5 941.5h1.1V944.7h-1.1zM1567 941.5h1.1V944.7h-1.1z"/>
<path fill="#909cd2" d="M1040.1 917h1.8V944.7h-1.8zM1048.4 811.7h1.6V944.7h-1.6zM1078.1 907.2h1.8V944.7h-1.8zM1140.8 911.6h1.5V944.7h-1.5zM1189.2 919.8h1.6V944.7h-1.6zM1546.3 929.8h1.8V944.7h-1.8z"/>
<path fill="#e58e90" d="M970.1 911.6h2V944.7h-2z"/>
<path fill="#6f9a3c" d="M1254.8 906h1.1V944.7h-1.1zM1258 661.5h1.2V944.7h-1.2zM1250.5 936h1.1V944.7h-1.1z"/>
<path fill="#4658a8" d="M981.1 881.6h1.1V944.7h-1.1zM993 836.7h1.1V944.7h-1.1zM1036 935.8h1.1V944.7h-1.1zM1091 896h1.1V944.7h-1.1zM1245 933.5h1.1V944.7h-1.1zM1267.4 936h1.1V944.7h-1.1zM1274.5 915.4h1.1V944.7h-1.1zM1324 934.8h1.1V944.7h-1.1zM1371.5 937.5h1.1V944.7h-1.1zM1378.9 932.2h1.1V944.7h-1.1z"/>
<path fill="#d6343a" d="M1020.1 901h1.1V944.7h-1.1zM1083 861h1.1V944.7h-1.1zM1137.9 891.6h1.1V944.7h-1.1zM1188.2 931h1.1V944.7h-1.1zM1193.9 909.1h1.1V944.7h-1.1zM1216 922.2h1.1V944.7h-1.1zM1237 841h1.1V944.7h-1.1zM1241.7 919.8h1.1V944.7h-1.1zM1272.5 909.8h1.1V944.7h-1.1zM1327.7 906.6h1.1V944.7h-1.1zM1376.9 881.6h1.1V944.7h-1.1zM1427 802.8h1.1V944.7h-1.1zM1469.5 860.3h1.1V944.7h-1.1zM1524.2 895h1.1V944.7h-1.1z"/>
<text class="pk r" x="961" y="904.1">y1</text>
<text class="pk b" x="975" y="875">a2</text>
<text class="pk b" x="986.7" y="831.7">b2</text>
<text class="pk b" x="971.9" y="927.2">b2-18</text>
<text class="pk r" x="1014" y="894.1">y2</text>
<text class="pk b" x="1020.9" y="910.4">b3-18</text>
<text class="pk b" x="1041.7" y="805.6">b3</text>
<text class="pk b" x="1027" y="929.1">a3</text>
<text class="pk b" x="1069.8" y="901.6">a4</text>
<text class="pk r" x="1077.5" y="854.8">y3</text>
<text class="pk b" x="1084.6" y="889.1">b4</text>
<text class="pk b" x="1110" y="867.5">b5-18</text>
<text class="pk r" x="1132.2" y="883.3">y4</text>
<text class="pk b" x="1140.6" y="904.8">b5</text>
<text class="pk b" x="1160" y="895.4">b6-18</text>
<text class="pk b" x="1174" y="912">b6</text>
<text class="pk r" x="1187.9" y="902.2">y5</text>
<text class="pk r" x="1173.4" y="924.1" textLength="29.4">y11++</text>
<text class="pk r" x="1205.4" y="916.6" textLength="29.4">y12++</text>
<text class="pk r" x="1221" y="835" textLength="29.4">y13++</text>
<text class="pk r" x="1236.2" y="912.9">y6</text>
<text class="pk g" x="1242.9" y="907.2">M-18</text>
<text class="pk g" x="1254.6" y="650.2">M</text>
<text class="pk r" x="1265.9" y="903.5">y7</text>
<text class="pk b" x="1239" y="928.5">b7</text>
<text class="pk g" x="1239.4" y="934.8">M-36</text>
<text class="pk b" x="1255.4" y="929.1">b8-18</text>
<text class="pk b" x="1274.4" y="922.2">b8</text>
<text class="pk b" x="1294.8" y="911">b9-18</text>
<text class="pk b" x="1314" y="927.9">b9</text>
<text class="pk r" x="1322.1" y="899.6">y8</text>
<text class="pk b" x="1346.6" y="931.4">b10-18</text>
<text class="pk b" x="1378.8" y="925.4">b10</text>
<text class="pk r" x="1371" y="874.6">y9</text>
<text class="pk r" x="1418.5" y="796.3">y10</text>
<text class="pk r" x="1460.9" y="853.7">y11</text>
<text class="pk r" x="1516.3" y="889.1">y12</text>
<text class="pk b" x="1538.1" y="923.5">b13</text>
<path d="M1123.8 871L1133.1 941M968 908.5L970.5 911.5M980.5 879L981.5 882M985.5 930L987 934.5M1019.5 897L1020.5 901M1034 913L1040.5 916.5M1034.5 932.5L1036.3 935.5M1075.5 905L1078.5 907.5M1083.5 857.5L1083.5 861M1090.5 891.5L1091.3 896M1138.4 887.5L1138.4 891.5M1141.7 911L1146 907.5M1173 898L1182 940M1180 914.5L1189.5 919.5M1193.5 905L1194.3 909M1219.5 920.5L1217 922.5M1237.5 837.5L1237.5 841M1242 916L1242.2 919.5M1271.5 906L1273 909.5M1307 913.5L1314 936M1318 931L1324 934.5M1328.2 902.5L1328.2 906.5M1364 934L1371.5 937M1379.6 932L1386 927.5M1377.4 877.5L1377.4 881.5M1470 856L1470 860M1524.7 891L1524.7 895M1547.2 925.5L1547.2 929.5M1267.5 932L1268 936M1245.5 929.5L1251 944M993.5 833.5L993.5 836.5" stroke="#d6343a" stroke-width="0.9" stroke-dasharray="1 1.6" fill="none"/>
<path d="M1368.1 578.9V572.4h5.8M1387.1 578.9V572.4h5.8M1403.9 578.9V572.4h5.8M1422.9 578.9V572.4h5.8M1441.1 578.9V572.4h5.8M1461.5 578.9V572.4h5.8M1481 578.9V572.4h5.8M1499.7 578.9V572.4h5.8M1518.7 578.9V572.4h5.8M1535.8 578.9V572.4h5.8M1555.6 578.9V572.4h5.8M1572.7 578.9V572.4h5.8M1591.4 578.9V572.4h5.8" stroke="#c9252c" stroke-width="1.2" fill="none"/>
<path d="M1387.6 599.2V605.4h-5.6M1406.6 599.2V605.4h-5.6M1424 599.2V605.4h-5.6M1441.1 599.2V605.4h-5.6M1463 599.2V605.4h-5.6M1481.4 599.2V605.4h-5.6M1500.5 599.2V605.4h-5.6M1517.9 599.2V605.4h-5.6M1536.1 599.2V605.4h-5.6M1591.9 599.2V605.4h-5.6" stroke="#3f51b5" stroke-width="1.2" fill="none"/>
<circle cx="1446.4" cy="587.5" r="11.7" fill="#e35b69"/>
<text class="fm" y="593.2" x="1355.4 1373.6 1391.7 1409.4 1427.7">TPEVD</text>
<text class="fm w" y="593.2" x="1446.4">D</text>
<text class="fm" y="593.2" x="1467.9 1485.8 1504.1 1522 1540.7 1558.1 1576.4 1595.1">EALEKFDK</text>
<text class="fn" x="1424" y="565.4">10</text>
<text class="fn" x="1442.9" y="565.4">9</text>
<text class="fn" x="1463.5" y="565.4">8</text>
<text class="fn" x="1481.7" y="565.4">7</text>
<text class="fn" x="1500.9" y="565.4">6</text>
<text class="fn" x="1519.6" y="565.4">5</text>
<text class="fn" x="1538.2" y="565.4">4</text>
<text class="fn" x="1557.7" y="565.4">3</text>
<text class="fn" x="1574" y="565.4">2</text>
<text class="fn" x="1594.6" y="565.4">1</text>
<text class="fn" x="1366.5" y="621.4">1</text>
<text class="fn" x="1383.9" y="621.4">2</text>
<text class="fn" x="1403.4" y="621.4">3</text>
<text class="fn" x="1419.1" y="621.4">4</text>
<text class="fn" x="1438.6" y="621.4">5</text>
<text class="fn" x="1459.1" y="621.4">6</text>
<text class="fn" x="1478.1" y="621.4">7</text>
<text class="fn" x="1497.3" y="621.4">8</text>
<text class="fn" x="1513.9" y="621.4">9</text>
<text class="fn" x="1536.6" y="621.4">10</text>
</g>
</svg>
</body></html>
